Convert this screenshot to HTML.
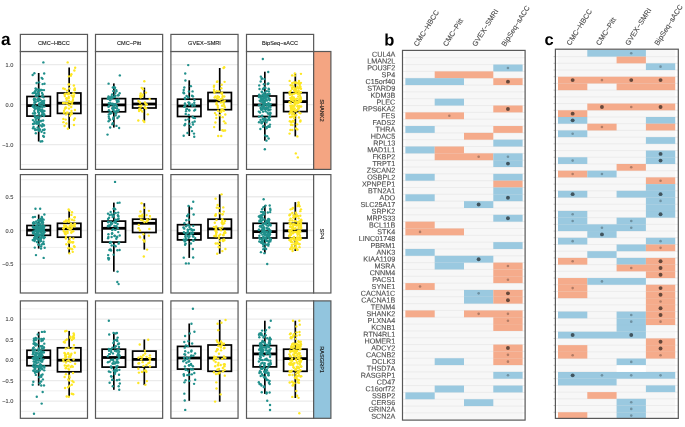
<!DOCTYPE html>
<html><head><meta charset="utf-8"><style>
html,body{margin:0;padding:0;background:#fff;}
svg{display:block;will-change:transform;}
text{font-family:"Liberation Sans", sans-serif;}
</style></head><body>
<svg width="685" height="427" viewBox="0 0 685 427">
<rect width="685" height="427" fill="#fff"/>
<rect x="20.35" y="51.5" width="67.15" height="117.9" fill="#fff"/>
<line x1="20.35" x2="87.5" y1="84.6" y2="84.6" stroke="#F0F0F0" stroke-width="1.0"/>
<line x1="20.35" x2="87.5" y1="124.6" y2="124.6" stroke="#F0F0F0" stroke-width="1.0"/>
<line x1="20.35" x2="87.5" y1="164.6" y2="164.6" stroke="#F0F0F0" stroke-width="1.0"/>
<line x1="20.35" x2="87.5" y1="64.6" y2="64.6" stroke="#EBEBEB" stroke-width="1.4"/>
<line x1="20.35" x2="87.5" y1="104.6" y2="104.6" stroke="#EBEBEB" stroke-width="1.4"/>
<line x1="20.35" x2="87.5" y1="144.6" y2="144.6" stroke="#EBEBEB" stroke-width="1.4"/>
<rect x="95.5" y="51.5" width="67.15" height="117.9" fill="#fff"/>
<line x1="95.5" x2="162.65" y1="84.6" y2="84.6" stroke="#F0F0F0" stroke-width="1.0"/>
<line x1="95.5" x2="162.65" y1="124.6" y2="124.6" stroke="#F0F0F0" stroke-width="1.0"/>
<line x1="95.5" x2="162.65" y1="164.6" y2="164.6" stroke="#F0F0F0" stroke-width="1.0"/>
<line x1="95.5" x2="162.65" y1="64.6" y2="64.6" stroke="#EBEBEB" stroke-width="1.4"/>
<line x1="95.5" x2="162.65" y1="104.6" y2="104.6" stroke="#EBEBEB" stroke-width="1.4"/>
<line x1="95.5" x2="162.65" y1="144.6" y2="144.6" stroke="#EBEBEB" stroke-width="1.4"/>
<rect x="170.9" y="51.5" width="67.15" height="117.9" fill="#fff"/>
<line x1="170.9" x2="238.05" y1="84.6" y2="84.6" stroke="#F0F0F0" stroke-width="1.0"/>
<line x1="170.9" x2="238.05" y1="124.6" y2="124.6" stroke="#F0F0F0" stroke-width="1.0"/>
<line x1="170.9" x2="238.05" y1="164.6" y2="164.6" stroke="#F0F0F0" stroke-width="1.0"/>
<line x1="170.9" x2="238.05" y1="64.6" y2="64.6" stroke="#EBEBEB" stroke-width="1.4"/>
<line x1="170.9" x2="238.05" y1="104.6" y2="104.6" stroke="#EBEBEB" stroke-width="1.4"/>
<line x1="170.9" x2="238.05" y1="144.6" y2="144.6" stroke="#EBEBEB" stroke-width="1.4"/>
<rect x="246.5" y="51.5" width="67.15" height="117.9" fill="#fff"/>
<line x1="246.5" x2="313.65" y1="84.6" y2="84.6" stroke="#F0F0F0" stroke-width="1.0"/>
<line x1="246.5" x2="313.65" y1="124.6" y2="124.6" stroke="#F0F0F0" stroke-width="1.0"/>
<line x1="246.5" x2="313.65" y1="164.6" y2="164.6" stroke="#F0F0F0" stroke-width="1.0"/>
<line x1="246.5" x2="313.65" y1="64.6" y2="64.6" stroke="#EBEBEB" stroke-width="1.4"/>
<line x1="246.5" x2="313.65" y1="104.6" y2="104.6" stroke="#EBEBEB" stroke-width="1.4"/>
<line x1="246.5" x2="313.65" y1="144.6" y2="144.6" stroke="#EBEBEB" stroke-width="1.4"/>
<rect x="20.35" y="174.6" width="67.15" height="118.4" fill="#fff"/>
<line x1="20.35" x2="87.5" y1="179.8" y2="179.8" stroke="#F0F0F0" stroke-width="1.0"/>
<line x1="20.35" x2="87.5" y1="213.6" y2="213.6" stroke="#F0F0F0" stroke-width="1.0"/>
<line x1="20.35" x2="87.5" y1="247.4" y2="247.4" stroke="#F0F0F0" stroke-width="1.0"/>
<line x1="20.35" x2="87.5" y1="281.2" y2="281.2" stroke="#F0F0F0" stroke-width="1.0"/>
<line x1="20.35" x2="87.5" y1="196.7" y2="196.7" stroke="#EBEBEB" stroke-width="1.4"/>
<line x1="20.35" x2="87.5" y1="230.5" y2="230.5" stroke="#EBEBEB" stroke-width="1.4"/>
<line x1="20.35" x2="87.5" y1="264.3" y2="264.3" stroke="#EBEBEB" stroke-width="1.4"/>
<rect x="95.5" y="174.6" width="67.15" height="118.4" fill="#fff"/>
<line x1="95.5" x2="162.65" y1="179.8" y2="179.8" stroke="#F0F0F0" stroke-width="1.0"/>
<line x1="95.5" x2="162.65" y1="213.6" y2="213.6" stroke="#F0F0F0" stroke-width="1.0"/>
<line x1="95.5" x2="162.65" y1="247.4" y2="247.4" stroke="#F0F0F0" stroke-width="1.0"/>
<line x1="95.5" x2="162.65" y1="281.2" y2="281.2" stroke="#F0F0F0" stroke-width="1.0"/>
<line x1="95.5" x2="162.65" y1="196.7" y2="196.7" stroke="#EBEBEB" stroke-width="1.4"/>
<line x1="95.5" x2="162.65" y1="230.5" y2="230.5" stroke="#EBEBEB" stroke-width="1.4"/>
<line x1="95.5" x2="162.65" y1="264.3" y2="264.3" stroke="#EBEBEB" stroke-width="1.4"/>
<rect x="170.9" y="174.6" width="67.15" height="118.4" fill="#fff"/>
<line x1="170.9" x2="238.05" y1="179.8" y2="179.8" stroke="#F0F0F0" stroke-width="1.0"/>
<line x1="170.9" x2="238.05" y1="213.6" y2="213.6" stroke="#F0F0F0" stroke-width="1.0"/>
<line x1="170.9" x2="238.05" y1="247.4" y2="247.4" stroke="#F0F0F0" stroke-width="1.0"/>
<line x1="170.9" x2="238.05" y1="281.2" y2="281.2" stroke="#F0F0F0" stroke-width="1.0"/>
<line x1="170.9" x2="238.05" y1="196.7" y2="196.7" stroke="#EBEBEB" stroke-width="1.4"/>
<line x1="170.9" x2="238.05" y1="230.5" y2="230.5" stroke="#EBEBEB" stroke-width="1.4"/>
<line x1="170.9" x2="238.05" y1="264.3" y2="264.3" stroke="#EBEBEB" stroke-width="1.4"/>
<rect x="246.5" y="174.6" width="67.15" height="118.4" fill="#fff"/>
<line x1="246.5" x2="313.65" y1="179.8" y2="179.8" stroke="#F0F0F0" stroke-width="1.0"/>
<line x1="246.5" x2="313.65" y1="213.6" y2="213.6" stroke="#F0F0F0" stroke-width="1.0"/>
<line x1="246.5" x2="313.65" y1="247.4" y2="247.4" stroke="#F0F0F0" stroke-width="1.0"/>
<line x1="246.5" x2="313.65" y1="281.2" y2="281.2" stroke="#F0F0F0" stroke-width="1.0"/>
<line x1="246.5" x2="313.65" y1="196.7" y2="196.7" stroke="#EBEBEB" stroke-width="1.4"/>
<line x1="246.5" x2="313.65" y1="230.5" y2="230.5" stroke="#EBEBEB" stroke-width="1.4"/>
<line x1="246.5" x2="313.65" y1="264.3" y2="264.3" stroke="#EBEBEB" stroke-width="1.4"/>
<rect x="20.35" y="300.9" width="67.15" height="117.4" fill="#fff"/>
<line x1="20.35" x2="87.5" y1="308.85" y2="308.85" stroke="#F0F0F0" stroke-width="1.0"/>
<line x1="20.35" x2="87.5" y1="329.35" y2="329.35" stroke="#F0F0F0" stroke-width="1.0"/>
<line x1="20.35" x2="87.5" y1="349.85" y2="349.85" stroke="#F0F0F0" stroke-width="1.0"/>
<line x1="20.35" x2="87.5" y1="370.35" y2="370.35" stroke="#F0F0F0" stroke-width="1.0"/>
<line x1="20.35" x2="87.5" y1="390.85" y2="390.85" stroke="#F0F0F0" stroke-width="1.0"/>
<line x1="20.35" x2="87.5" y1="411.35" y2="411.35" stroke="#F0F0F0" stroke-width="1.0"/>
<line x1="20.35" x2="87.5" y1="319.1" y2="319.1" stroke="#EBEBEB" stroke-width="1.4"/>
<line x1="20.35" x2="87.5" y1="339.6" y2="339.6" stroke="#EBEBEB" stroke-width="1.4"/>
<line x1="20.35" x2="87.5" y1="360.1" y2="360.1" stroke="#EBEBEB" stroke-width="1.4"/>
<line x1="20.35" x2="87.5" y1="380.6" y2="380.6" stroke="#EBEBEB" stroke-width="1.4"/>
<line x1="20.35" x2="87.5" y1="401.1" y2="401.1" stroke="#EBEBEB" stroke-width="1.4"/>
<rect x="95.5" y="300.9" width="67.15" height="117.4" fill="#fff"/>
<line x1="95.5" x2="162.65" y1="308.85" y2="308.85" stroke="#F0F0F0" stroke-width="1.0"/>
<line x1="95.5" x2="162.65" y1="329.35" y2="329.35" stroke="#F0F0F0" stroke-width="1.0"/>
<line x1="95.5" x2="162.65" y1="349.85" y2="349.85" stroke="#F0F0F0" stroke-width="1.0"/>
<line x1="95.5" x2="162.65" y1="370.35" y2="370.35" stroke="#F0F0F0" stroke-width="1.0"/>
<line x1="95.5" x2="162.65" y1="390.85" y2="390.85" stroke="#F0F0F0" stroke-width="1.0"/>
<line x1="95.5" x2="162.65" y1="411.35" y2="411.35" stroke="#F0F0F0" stroke-width="1.0"/>
<line x1="95.5" x2="162.65" y1="319.1" y2="319.1" stroke="#EBEBEB" stroke-width="1.4"/>
<line x1="95.5" x2="162.65" y1="339.6" y2="339.6" stroke="#EBEBEB" stroke-width="1.4"/>
<line x1="95.5" x2="162.65" y1="360.1" y2="360.1" stroke="#EBEBEB" stroke-width="1.4"/>
<line x1="95.5" x2="162.65" y1="380.6" y2="380.6" stroke="#EBEBEB" stroke-width="1.4"/>
<line x1="95.5" x2="162.65" y1="401.1" y2="401.1" stroke="#EBEBEB" stroke-width="1.4"/>
<rect x="170.9" y="300.9" width="67.15" height="117.4" fill="#fff"/>
<line x1="170.9" x2="238.05" y1="308.85" y2="308.85" stroke="#F0F0F0" stroke-width="1.0"/>
<line x1="170.9" x2="238.05" y1="329.35" y2="329.35" stroke="#F0F0F0" stroke-width="1.0"/>
<line x1="170.9" x2="238.05" y1="349.85" y2="349.85" stroke="#F0F0F0" stroke-width="1.0"/>
<line x1="170.9" x2="238.05" y1="370.35" y2="370.35" stroke="#F0F0F0" stroke-width="1.0"/>
<line x1="170.9" x2="238.05" y1="390.85" y2="390.85" stroke="#F0F0F0" stroke-width="1.0"/>
<line x1="170.9" x2="238.05" y1="411.35" y2="411.35" stroke="#F0F0F0" stroke-width="1.0"/>
<line x1="170.9" x2="238.05" y1="319.1" y2="319.1" stroke="#EBEBEB" stroke-width="1.4"/>
<line x1="170.9" x2="238.05" y1="339.6" y2="339.6" stroke="#EBEBEB" stroke-width="1.4"/>
<line x1="170.9" x2="238.05" y1="360.1" y2="360.1" stroke="#EBEBEB" stroke-width="1.4"/>
<line x1="170.9" x2="238.05" y1="380.6" y2="380.6" stroke="#EBEBEB" stroke-width="1.4"/>
<line x1="170.9" x2="238.05" y1="401.1" y2="401.1" stroke="#EBEBEB" stroke-width="1.4"/>
<rect x="246.5" y="300.9" width="67.15" height="117.4" fill="#fff"/>
<line x1="246.5" x2="313.65" y1="308.85" y2="308.85" stroke="#F0F0F0" stroke-width="1.0"/>
<line x1="246.5" x2="313.65" y1="329.35" y2="329.35" stroke="#F0F0F0" stroke-width="1.0"/>
<line x1="246.5" x2="313.65" y1="349.85" y2="349.85" stroke="#F0F0F0" stroke-width="1.0"/>
<line x1="246.5" x2="313.65" y1="370.35" y2="370.35" stroke="#F0F0F0" stroke-width="1.0"/>
<line x1="246.5" x2="313.65" y1="390.85" y2="390.85" stroke="#F0F0F0" stroke-width="1.0"/>
<line x1="246.5" x2="313.65" y1="411.35" y2="411.35" stroke="#F0F0F0" stroke-width="1.0"/>
<line x1="246.5" x2="313.65" y1="319.1" y2="319.1" stroke="#EBEBEB" stroke-width="1.4"/>
<line x1="246.5" x2="313.65" y1="339.6" y2="339.6" stroke="#EBEBEB" stroke-width="1.4"/>
<line x1="246.5" x2="313.65" y1="360.1" y2="360.1" stroke="#EBEBEB" stroke-width="1.4"/>
<line x1="246.5" x2="313.65" y1="380.6" y2="380.6" stroke="#EBEBEB" stroke-width="1.4"/>
<line x1="246.5" x2="313.65" y1="401.1" y2="401.1" stroke="#EBEBEB" stroke-width="1.4"/>
<line x1="38.68" x2="38.68" y1="73" y2="96.5" stroke="#000" stroke-width="1.7"/>
<line x1="38.68" x2="38.68" y1="116.1" y2="141.5" stroke="#000" stroke-width="1.7"/>
<rect x="26.98" y="96.5" width="23.4" height="19.6" fill="#fff" stroke="#000" stroke-width="1.7"/>
<line x1="26.98" x2="50.38" y1="105.6" y2="105.6" stroke="#000" stroke-width="2.8"/>
<g fill="#21908C"><circle cx="39.06" cy="82.33" r="1.2"/><circle cx="33.01" cy="128.3" r="1.2"/><circle cx="44.33" cy="114.46" r="1.2"/><circle cx="41.56" cy="131.74" r="1.2"/><circle cx="42.29" cy="106.03" r="1.2"/><circle cx="43.38" cy="62.4" r="1.2"/><circle cx="35.33" cy="99.27" r="1.2"/><circle cx="36.93" cy="89.52" r="1.2"/><circle cx="35.4" cy="108.44" r="1.2"/><circle cx="40.57" cy="99.88" r="1.2"/><circle cx="34.25" cy="100.51" r="1.2"/><circle cx="34.54" cy="92.79" r="1.2"/><circle cx="42.07" cy="114.31" r="1.2"/><circle cx="33.7" cy="104.75" r="1.2"/><circle cx="33.02" cy="113.39" r="1.2"/><circle cx="42.6" cy="124.12" r="1.2"/><circle cx="42.28" cy="103.07" r="1.2"/><circle cx="40.52" cy="116.39" r="1.2"/><circle cx="35.13" cy="102.68" r="1.2"/><circle cx="33.56" cy="126.87" r="1.2"/><circle cx="37.99" cy="91.68" r="1.2"/><circle cx="34.72" cy="113.15" r="1.2"/><circle cx="41.07" cy="111.03" r="1.2"/><circle cx="34.44" cy="92.19" r="1.2"/><circle cx="43.98" cy="125.42" r="1.2"/><circle cx="35.04" cy="113.14" r="1.2"/><circle cx="43.63" cy="125.24" r="1.2"/><circle cx="36.2" cy="123.18" r="1.2"/><circle cx="44" cy="115.99" r="1.2"/><circle cx="42.09" cy="111.91" r="1.2"/><circle cx="32.68" cy="75" r="1.2"/><circle cx="35.7" cy="95.71" r="1.2"/><circle cx="33.03" cy="124.06" r="1.2"/><circle cx="38.05" cy="110.67" r="1.2"/><circle cx="36.03" cy="93.45" r="1.2"/><circle cx="43.54" cy="102.88" r="1.2"/><circle cx="39.41" cy="130.62" r="1.2"/><circle cx="37.89" cy="107.1" r="1.2"/><circle cx="34.4" cy="73.29" r="1.2"/><circle cx="42.77" cy="94.51" r="1.2"/><circle cx="34.21" cy="98.71" r="1.2"/><circle cx="37.73" cy="108.93" r="1.2"/><circle cx="34.82" cy="108.82" r="1.2"/><circle cx="40.61" cy="90.07" r="1.2"/><circle cx="39.02" cy="112.71" r="1.2"/><circle cx="37.71" cy="127.41" r="1.2"/><circle cx="39.27" cy="98.47" r="1.2"/><circle cx="39" cy="99.72" r="1.2"/><circle cx="35.4" cy="91.12" r="1.2"/><circle cx="44.5" cy="83.7" r="1.2"/><circle cx="39.72" cy="109.91" r="1.2"/><circle cx="39.08" cy="130.82" r="1.2"/><circle cx="43.93" cy="103.98" r="1.2"/><circle cx="41.38" cy="110.8" r="1.2"/><circle cx="42.91" cy="102.98" r="1.2"/><circle cx="39.42" cy="109.85" r="1.2"/><circle cx="43.6" cy="97.35" r="1.2"/><circle cx="38" cy="100.97" r="1.2"/><circle cx="41.38" cy="90.05" r="1.2"/><circle cx="40.17" cy="107.43" r="1.2"/><circle cx="32.73" cy="106.19" r="1.2"/><circle cx="44.04" cy="103.12" r="1.2"/><circle cx="39.07" cy="108.56" r="1.2"/><circle cx="34.14" cy="123.67" r="1.2"/><circle cx="43.04" cy="130.07" r="1.2"/><circle cx="43.14" cy="120.57" r="1.2"/><circle cx="42.5" cy="78.86" r="1.2"/><circle cx="38.75" cy="128.89" r="1.2"/><circle cx="44.16" cy="100.8" r="1.2"/><circle cx="42.6" cy="84.08" r="1.2"/><circle cx="35.66" cy="88.35" r="1.2"/><circle cx="38.9" cy="98.89" r="1.2"/><circle cx="39.68" cy="90.78" r="1.2"/><circle cx="42.15" cy="96.19" r="1.2"/><circle cx="36.89" cy="129.72" r="1.2"/><circle cx="38.44" cy="98.56" r="1.2"/><circle cx="34.44" cy="121.68" r="1.2"/><circle cx="37.5" cy="95.87" r="1.2"/><circle cx="35.36" cy="117.45" r="1.2"/><circle cx="38.42" cy="121.65" r="1.2"/><circle cx="40.61" cy="141.49" r="1.2"/><circle cx="35.79" cy="119.81" r="1.2"/><circle cx="43.89" cy="136.79" r="1.2"/><circle cx="40.99" cy="120.93" r="1.2"/><circle cx="38.36" cy="108.78" r="1.2"/><circle cx="43.69" cy="111.23" r="1.2"/><circle cx="34.33" cy="111.01" r="1.2"/><circle cx="39.2" cy="100.37" r="1.2"/><circle cx="42.09" cy="101.56" r="1.2"/><circle cx="37.08" cy="108.2" r="1.2"/><circle cx="33.55" cy="106.93" r="1.2"/><circle cx="44.18" cy="73.5" r="1.2"/><circle cx="34.25" cy="107.59" r="1.2"/><circle cx="41.04" cy="105.35" r="1.2"/><circle cx="42.18" cy="141.3" r="1.2"/><circle cx="41.95" cy="126.4" r="1.2"/><circle cx="43.45" cy="115.39" r="1.2"/><circle cx="43.6" cy="103.92" r="1.2"/><circle cx="34.5" cy="102.38" r="1.2"/><circle cx="32.85" cy="93.15" r="1.2"/><circle cx="38.11" cy="112.02" r="1.2"/><circle cx="44.45" cy="106.61" r="1.2"/><circle cx="42.35" cy="109.68" r="1.2"/><circle cx="38.42" cy="124.04" r="1.2"/><circle cx="41.95" cy="90.11" r="1.2"/><circle cx="36.59" cy="82.99" r="1.2"/><circle cx="35.8" cy="101.69" r="1.2"/><circle cx="36.67" cy="121.6" r="1.2"/><circle cx="34.75" cy="115.48" r="1.2"/><circle cx="42.42" cy="101.21" r="1.2"/><circle cx="38.7" cy="89.46" r="1.2"/><circle cx="36" cy="95.18" r="1.2"/><circle cx="42.76" cy="111.71" r="1.2"/><circle cx="32.91" cy="120.08" r="1.2"/><circle cx="44.42" cy="110.94" r="1.2"/><circle cx="44.14" cy="129.86" r="1.2"/><circle cx="44.54" cy="129.45" r="1.2"/><circle cx="34.69" cy="128.59" r="1.2"/><circle cx="42.03" cy="92.89" r="1.2"/><circle cx="40.72" cy="125.36" r="1.2"/><circle cx="40.99" cy="102.82" r="1.2"/><circle cx="37.96" cy="117" r="1.2"/><circle cx="43.99" cy="90.12" r="1.2"/><circle cx="36.64" cy="123.6" r="1.2"/><circle cx="35.82" cy="133.32" r="1.2"/><circle cx="40.03" cy="129.51" r="1.2"/><circle cx="42.36" cy="107.31" r="1.2"/><circle cx="40.48" cy="110.12" r="1.2"/><circle cx="35.57" cy="116.22" r="1.2"/><circle cx="38.96" cy="121.67" r="1.2"/><circle cx="39.4" cy="121.83" r="1.2"/><circle cx="33.96" cy="99.43" r="1.2"/><circle cx="38.77" cy="94.35" r="1.2"/><circle cx="35.57" cy="106.23" r="1.2"/><circle cx="39.02" cy="104.38" r="1.2"/><circle cx="43.53" cy="114.75" r="1.2"/><circle cx="38.89" cy="114.23" r="1.2"/><circle cx="35.21" cy="129.94" r="1.2"/><circle cx="38.18" cy="93.29" r="1.2"/><circle cx="41.68" cy="77.84" r="1.2"/><circle cx="39.36" cy="103.35" r="1.2"/><circle cx="35.79" cy="90.31" r="1.2"/><circle cx="42.27" cy="102.56" r="1.2"/><circle cx="43.2" cy="135.98" r="1.2"/><circle cx="39.35" cy="105.08" r="1.2"/><circle cx="41.28" cy="120.99" r="1.2"/><circle cx="37.43" cy="99.73" r="1.2"/><circle cx="43.49" cy="113.77" r="1.2"/><circle cx="38.83" cy="118.22" r="1.2"/><circle cx="34.88" cy="116.93" r="1.2"/><circle cx="36.95" cy="122.12" r="1.2"/><circle cx="44.34" cy="133" r="1.2"/><circle cx="41.8" cy="109.59" r="1.2"/><circle cx="37.06" cy="118.37" r="1.2"/></g>
<line x1="69.17" x2="69.17" y1="67.5" y2="93" stroke="#000" stroke-width="1.7"/>
<line x1="69.17" x2="69.17" y1="113.4" y2="128.8" stroke="#000" stroke-width="1.7"/>
<rect x="57.47" y="93" width="23.4" height="20.4" fill="#fff" stroke="#000" stroke-width="1.7"/>
<line x1="57.47" x2="80.87" y1="103.2" y2="103.2" stroke="#000" stroke-width="2.8"/>
<g fill="#FDE725"><circle cx="72.09" cy="104.16" r="1.2"/><circle cx="73.24" cy="96.99" r="1.2"/><circle cx="74.88" cy="118.39" r="1.2"/><circle cx="71.37" cy="74.15" r="1.2"/><circle cx="74.28" cy="93.62" r="1.2"/><circle cx="66.39" cy="123.5" r="1.2"/><circle cx="71.28" cy="114.23" r="1.2"/><circle cx="73.01" cy="99.99" r="1.2"/><circle cx="69.37" cy="102.09" r="1.2"/><circle cx="75.15" cy="67.72" r="1.2"/><circle cx="65.7" cy="119.58" r="1.2"/><circle cx="73.94" cy="120.01" r="1.2"/><circle cx="63.32" cy="103.02" r="1.2"/><circle cx="67.88" cy="128.74" r="1.2"/><circle cx="67.76" cy="112.78" r="1.2"/><circle cx="69.27" cy="84.42" r="1.2"/><circle cx="68.74" cy="92.97" r="1.2"/><circle cx="67.3" cy="103.61" r="1.2"/><circle cx="66.96" cy="90.6" r="1.2"/><circle cx="64.87" cy="103.03" r="1.2"/><circle cx="70.88" cy="75.67" r="1.2"/><circle cx="64.59" cy="94.57" r="1.2"/><circle cx="69.07" cy="100.97" r="1.2"/><circle cx="63.21" cy="88.42" r="1.2"/><circle cx="64.61" cy="125.97" r="1.2"/><circle cx="74.52" cy="89.8" r="1.2"/><circle cx="63.47" cy="122.16" r="1.2"/><circle cx="66.39" cy="98.29" r="1.2"/><circle cx="63.38" cy="118.91" r="1.2"/><circle cx="73.25" cy="93.08" r="1.2"/><circle cx="68.56" cy="84.49" r="1.2"/><circle cx="65.94" cy="114.38" r="1.2"/><circle cx="68.68" cy="94.2" r="1.2"/><circle cx="66.22" cy="107.76" r="1.2"/><circle cx="70.15" cy="102.3" r="1.2"/><circle cx="74.6" cy="90.22" r="1.2"/><circle cx="73.01" cy="97.65" r="1.2"/><circle cx="72.18" cy="101.86" r="1.2"/><circle cx="64.1" cy="110.72" r="1.2"/><circle cx="74.4" cy="70.49" r="1.2"/><circle cx="65.56" cy="107.44" r="1.2"/><circle cx="68.92" cy="76.41" r="1.2"/><circle cx="72.37" cy="101.41" r="1.2"/><circle cx="71.72" cy="113.3" r="1.2"/><circle cx="73.81" cy="96" r="1.2"/><circle cx="73.99" cy="125.03" r="1.2"/><circle cx="73.89" cy="85.5" r="1.2"/><circle cx="63.19" cy="103.09" r="1.2"/><circle cx="69.1" cy="105.26" r="1.2"/><circle cx="64.86" cy="96.1" r="1.2"/><circle cx="68.76" cy="97.06" r="1.2"/><circle cx="69" cy="108.59" r="1.2"/><circle cx="66.82" cy="103.1" r="1.2"/><circle cx="66.66" cy="99.93" r="1.2"/><circle cx="74.79" cy="88.45" r="1.2"/><circle cx="74.91" cy="110.01" r="1.2"/><circle cx="71.23" cy="107.05" r="1.2"/><circle cx="63.9" cy="112.74" r="1.2"/><circle cx="67.67" cy="62.4" r="1.2"/><circle cx="69.46" cy="88.47" r="1.2"/><circle cx="71.47" cy="110.95" r="1.2"/><circle cx="64.76" cy="88.98" r="1.2"/><circle cx="68.58" cy="98.27" r="1.2"/><circle cx="66.65" cy="112.67" r="1.2"/><circle cx="69.98" cy="115.87" r="1.2"/><circle cx="67.63" cy="93.96" r="1.2"/><circle cx="70.57" cy="113.67" r="1.2"/><circle cx="65.69" cy="93.76" r="1.2"/><circle cx="66.79" cy="98.33" r="1.2"/><circle cx="71.61" cy="95.56" r="1.2"/><circle cx="64.94" cy="108.76" r="1.2"/></g>
<line x1="113.83" x2="113.83" y1="83.4" y2="98.6" stroke="#000" stroke-width="1.7"/>
<line x1="113.83" x2="113.83" y1="111.8" y2="127.6" stroke="#000" stroke-width="1.7"/>
<rect x="102.13" y="98.6" width="23.4" height="13.2" fill="#fff" stroke="#000" stroke-width="1.7"/>
<line x1="102.13" x2="125.53" y1="104.9" y2="104.9" stroke="#000" stroke-width="2.8"/>
<g fill="#21908C"><circle cx="114.57" cy="88.28" r="1.2"/><circle cx="116.94" cy="101.89" r="1.2"/><circle cx="109.19" cy="105.72" r="1.2"/><circle cx="110.16" cy="100.35" r="1.2"/><circle cx="112.39" cy="104.24" r="1.2"/><circle cx="113.41" cy="104.22" r="1.2"/><circle cx="107.53" cy="134.6" r="1.2"/><circle cx="118.59" cy="101.41" r="1.2"/><circle cx="108.81" cy="114.47" r="1.2"/><circle cx="110.17" cy="127.54" r="1.2"/><circle cx="109.14" cy="118.45" r="1.2"/><circle cx="116.38" cy="91.24" r="1.2"/><circle cx="113.14" cy="118.94" r="1.2"/><circle cx="117.02" cy="108.56" r="1.2"/><circle cx="115.32" cy="93.1" r="1.2"/><circle cx="108.59" cy="83.67" r="1.2"/><circle cx="116.45" cy="125.89" r="1.2"/><circle cx="113.4" cy="107.18" r="1.2"/><circle cx="113.78" cy="104.95" r="1.2"/><circle cx="113.23" cy="91.1" r="1.2"/><circle cx="116.3" cy="90.09" r="1.2"/><circle cx="108.51" cy="96.55" r="1.2"/><circle cx="116.18" cy="113.43" r="1.2"/><circle cx="112.34" cy="124.25" r="1.2"/><circle cx="108.8" cy="103.27" r="1.2"/><circle cx="111.71" cy="104.02" r="1.2"/><circle cx="117.47" cy="101.31" r="1.2"/><circle cx="115.41" cy="95.63" r="1.2"/><circle cx="114.97" cy="87.59" r="1.2"/><circle cx="116.68" cy="110.9" r="1.2"/><circle cx="109.82" cy="97.59" r="1.2"/><circle cx="113.44" cy="117.51" r="1.2"/><circle cx="108.48" cy="106.83" r="1.2"/><circle cx="110.57" cy="103.59" r="1.2"/><circle cx="112.27" cy="108.34" r="1.2"/><circle cx="118.76" cy="109.91" r="1.2"/><circle cx="112.87" cy="123.1" r="1.2"/><circle cx="107.91" cy="98.72" r="1.2"/><circle cx="113.65" cy="106.66" r="1.2"/><circle cx="117.97" cy="111.16" r="1.2"/><circle cx="110.18" cy="113.82" r="1.2"/><circle cx="119.13" cy="128" r="1.2"/><circle cx="117.9" cy="95.36" r="1.2"/><circle cx="115.15" cy="107.9" r="1.2"/><circle cx="113.53" cy="109.79" r="1.2"/><circle cx="119.83" cy="75.4" r="1.2"/><circle cx="118.5" cy="95.27" r="1.2"/><circle cx="110.24" cy="103.15" r="1.2"/><circle cx="112.69" cy="103.8" r="1.2"/><circle cx="112.59" cy="107.95" r="1.2"/><circle cx="114.33" cy="111.45" r="1.2"/><circle cx="114.13" cy="87.07" r="1.2"/><circle cx="108.89" cy="110.25" r="1.2"/><circle cx="111.01" cy="97.36" r="1.2"/><circle cx="116.54" cy="99.97" r="1.2"/><circle cx="109.14" cy="97.79" r="1.2"/><circle cx="115.34" cy="104.28" r="1.2"/><circle cx="111.34" cy="113.15" r="1.2"/><circle cx="117.48" cy="118.04" r="1.2"/><circle cx="113.19" cy="97.35" r="1.2"/><circle cx="110.81" cy="112.05" r="1.2"/><circle cx="108.12" cy="98.19" r="1.2"/><circle cx="108.77" cy="116.64" r="1.2"/><circle cx="118.45" cy="99.59" r="1.2"/><circle cx="114.99" cy="96.9" r="1.2"/><circle cx="119.65" cy="93.2" r="1.2"/><circle cx="117.06" cy="106.51" r="1.2"/><circle cx="111.54" cy="98.19" r="1.2"/><circle cx="108.64" cy="98.54" r="1.2"/><circle cx="118.9" cy="116.56" r="1.2"/><circle cx="112.92" cy="109.7" r="1.2"/><circle cx="112.18" cy="94.35" r="1.2"/><circle cx="115.6" cy="111.99" r="1.2"/><circle cx="111.6" cy="104.25" r="1.2"/><circle cx="110.04" cy="119.76" r="1.2"/><circle cx="108.78" cy="106.21" r="1.2"/><circle cx="112.82" cy="87.56" r="1.2"/><circle cx="113.75" cy="96.72" r="1.2"/><circle cx="110.12" cy="112.67" r="1.2"/><circle cx="116.35" cy="105.16" r="1.2"/><circle cx="111.57" cy="96.16" r="1.2"/><circle cx="115.66" cy="115.41" r="1.2"/><circle cx="108.58" cy="121.22" r="1.2"/></g>
<line x1="144.32" x2="144.32" y1="87.6" y2="98.8" stroke="#000" stroke-width="1.7"/>
<line x1="144.32" x2="144.32" y1="108" y2="120.7" stroke="#000" stroke-width="1.7"/>
<rect x="132.62" y="98.8" width="23.4" height="9.2" fill="#fff" stroke="#000" stroke-width="1.7"/>
<line x1="132.62" x2="156.02" y1="104" y2="104" stroke="#000" stroke-width="2.8"/>
<g fill="#FDE725"><circle cx="140.93" cy="110.06" r="1.2"/><circle cx="146.66" cy="104.76" r="1.2"/><circle cx="145.76" cy="108.09" r="1.2"/><circle cx="140.54" cy="96.97" r="1.2"/><circle cx="141.38" cy="105.56" r="1.2"/><circle cx="146.14" cy="108.35" r="1.2"/><circle cx="143.24" cy="120.62" r="1.2"/><circle cx="140.77" cy="106.67" r="1.2"/><circle cx="142.74" cy="94.78" r="1.2"/><circle cx="140.76" cy="93.45" r="1.2"/><circle cx="139.53" cy="109.22" r="1.2"/><circle cx="141.72" cy="87.83" r="1.2"/><circle cx="146.46" cy="104.38" r="1.2"/><circle cx="145.47" cy="108.05" r="1.2"/><circle cx="142.06" cy="96.32" r="1.2"/><circle cx="143.06" cy="89.15" r="1.2"/><circle cx="144.32" cy="122" r="1.2"/><circle cx="138.32" cy="120.5" r="1.2"/><circle cx="138.45" cy="100.96" r="1.2"/><circle cx="140.01" cy="102.48" r="1.2"/><circle cx="139.08" cy="110.99" r="1.2"/><circle cx="139.41" cy="105.93" r="1.2"/><circle cx="149.67" cy="99.09" r="1.2"/><circle cx="145.99" cy="92.61" r="1.2"/><circle cx="142.25" cy="111.52" r="1.2"/><circle cx="140.76" cy="97.28" r="1.2"/><circle cx="147.86" cy="114.36" r="1.2"/><circle cx="144.92" cy="102.38" r="1.2"/><circle cx="145.51" cy="103.86" r="1.2"/><circle cx="139.59" cy="109.01" r="1.2"/><circle cx="144.32" cy="81.3" r="1.2"/><circle cx="140.28" cy="95.46" r="1.2"/><circle cx="144.89" cy="107.22" r="1.2"/></g>
<line x1="189.23" x2="189.23" y1="80.3" y2="99.2" stroke="#000" stroke-width="1.7"/>
<line x1="189.23" x2="189.23" y1="116.5" y2="136" stroke="#000" stroke-width="1.7"/>
<rect x="177.53" y="99.2" width="23.4" height="17.3" fill="#fff" stroke="#000" stroke-width="1.7"/>
<line x1="177.53" x2="200.93" y1="106" y2="106" stroke="#000" stroke-width="2.8"/>
<g fill="#21908C"><circle cx="188.4" cy="97.34" r="1.2"/><circle cx="195.01" cy="118.12" r="1.2"/><circle cx="184.33" cy="87.48" r="1.2"/><circle cx="185.21" cy="124.06" r="1.2"/><circle cx="184.87" cy="98.02" r="1.2"/><circle cx="189.35" cy="123.78" r="1.2"/><circle cx="183.67" cy="135.8" r="1.2"/><circle cx="185.42" cy="80.43" r="1.2"/><circle cx="193.01" cy="96.41" r="1.2"/><circle cx="184.02" cy="93.23" r="1.2"/><circle cx="188.23" cy="65.1" r="1.2"/><circle cx="184.22" cy="106.67" r="1.2"/><circle cx="186.05" cy="111.13" r="1.2"/><circle cx="193.52" cy="117.91" r="1.2"/><circle cx="184.95" cy="103.46" r="1.2"/><circle cx="183.88" cy="92.83" r="1.2"/><circle cx="188.49" cy="102.37" r="1.2"/><circle cx="192.02" cy="95.71" r="1.2"/><circle cx="189.37" cy="110.43" r="1.2"/><circle cx="185.39" cy="105.47" r="1.2"/><circle cx="193.02" cy="124.47" r="1.2"/><circle cx="185.56" cy="120.07" r="1.2"/><circle cx="183.51" cy="92.5" r="1.2"/><circle cx="192.03" cy="131.11" r="1.2"/><circle cx="192.39" cy="105.89" r="1.2"/><circle cx="194.27" cy="102.73" r="1.2"/><circle cx="188.54" cy="119.25" r="1.2"/><circle cx="190.66" cy="126.96" r="1.2"/><circle cx="192.31" cy="104.42" r="1.2"/><circle cx="189.3" cy="103.9" r="1.2"/><circle cx="184.77" cy="106.37" r="1.2"/><circle cx="188.91" cy="91.45" r="1.2"/><circle cx="185.14" cy="98.96" r="1.2"/><circle cx="187.06" cy="108.91" r="1.2"/><circle cx="194.4" cy="99.98" r="1.2"/><circle cx="186.53" cy="96.05" r="1.2"/><circle cx="194.64" cy="121.46" r="1.2"/><circle cx="194.71" cy="105.55" r="1.2"/><circle cx="185.73" cy="113.89" r="1.2"/><circle cx="192.59" cy="122.41" r="1.2"/><circle cx="192.69" cy="116.64" r="1.2"/><circle cx="189.26" cy="104.73" r="1.2"/><circle cx="194.22" cy="110.61" r="1.2"/><circle cx="195.19" cy="109.76" r="1.2"/><circle cx="189.28" cy="102.91" r="1.2"/><circle cx="185.23" cy="73.5" r="1.2"/><circle cx="189.11" cy="102.86" r="1.2"/><circle cx="189.13" cy="109.95" r="1.2"/><circle cx="188.73" cy="114.92" r="1.2"/><circle cx="183.72" cy="90.06" r="1.2"/><circle cx="186.39" cy="109.14" r="1.2"/><circle cx="194.23" cy="136.7" r="1.2"/><circle cx="187.77" cy="96.6" r="1.2"/><circle cx="192.56" cy="91.4" r="1.2"/><circle cx="193.99" cy="133.6" r="1.2"/><circle cx="190.87" cy="86.15" r="1.2"/><circle cx="187.44" cy="133.06" r="1.2"/><circle cx="184.52" cy="125.19" r="1.2"/></g>
<line x1="219.72" x2="219.72" y1="68" y2="92.5" stroke="#000" stroke-width="1.7"/>
<line x1="219.72" x2="219.72" y1="109.7" y2="130.8" stroke="#000" stroke-width="1.7"/>
<rect x="208.02" y="92.5" width="23.4" height="17.2" fill="#fff" stroke="#000" stroke-width="1.7"/>
<line x1="208.02" x2="231.42" y1="100.9" y2="100.9" stroke="#000" stroke-width="2.8"/>
<g fill="#FDE725"><circle cx="224.28" cy="105.92" r="1.2"/><circle cx="222.41" cy="130.2" r="1.2"/><circle cx="216.26" cy="114.86" r="1.2"/><circle cx="218.22" cy="136" r="1.2"/><circle cx="224.22" cy="67.2" r="1.2"/><circle cx="224.61" cy="81.83" r="1.2"/><circle cx="216.59" cy="102.75" r="1.2"/><circle cx="222.06" cy="105.68" r="1.2"/><circle cx="216.32" cy="117.94" r="1.2"/><circle cx="218.96" cy="91.33" r="1.2"/><circle cx="214.22" cy="91.16" r="1.2"/><circle cx="224.87" cy="107.39" r="1.2"/><circle cx="224.01" cy="121.36" r="1.2"/><circle cx="221.42" cy="109.96" r="1.2"/><circle cx="221.22" cy="136" r="1.2"/><circle cx="216.84" cy="91.19" r="1.2"/><circle cx="220.56" cy="99.31" r="1.2"/><circle cx="217.41" cy="81.44" r="1.2"/><circle cx="214.18" cy="127.11" r="1.2"/><circle cx="222.03" cy="109.76" r="1.2"/><circle cx="222.08" cy="92.69" r="1.2"/><circle cx="222.09" cy="110.21" r="1.2"/><circle cx="222.64" cy="109.12" r="1.2"/><circle cx="220" cy="115.31" r="1.2"/><circle cx="216.9" cy="81.89" r="1.2"/><circle cx="223.53" cy="130.77" r="1.2"/><circle cx="219.35" cy="99.91" r="1.2"/><circle cx="223.79" cy="104" r="1.2"/><circle cx="223.18" cy="101.72" r="1.2"/><circle cx="221.7" cy="84.69" r="1.2"/><circle cx="214.04" cy="89.81" r="1.2"/><circle cx="217.64" cy="98.95" r="1.2"/><circle cx="217.74" cy="105.75" r="1.2"/><circle cx="213.9" cy="86.8" r="1.2"/><circle cx="221.29" cy="93.14" r="1.2"/><circle cx="222.67" cy="96.27" r="1.2"/><circle cx="225.05" cy="130.56" r="1.2"/><circle cx="215.45" cy="96.38" r="1.2"/><circle cx="222.03" cy="93.81" r="1.2"/><circle cx="214.65" cy="97.48" r="1.2"/><circle cx="218.95" cy="96.97" r="1.2"/><circle cx="222.56" cy="102.04" r="1.2"/><circle cx="225.47" cy="123.16" r="1.2"/><circle cx="216.55" cy="104.14" r="1.2"/><circle cx="223.55" cy="68.07" r="1.2"/><circle cx="217.86" cy="107.73" r="1.2"/><circle cx="222.26" cy="98.27" r="1.2"/><circle cx="221.19" cy="111.9" r="1.2"/><circle cx="214.06" cy="85.67" r="1.2"/><circle cx="222.71" cy="117.16" r="1.2"/><circle cx="220.36" cy="111.69" r="1.2"/><circle cx="221.32" cy="88.29" r="1.2"/><circle cx="225.3" cy="114.46" r="1.2"/><circle cx="224.28" cy="96.5" r="1.2"/><circle cx="216.91" cy="98.1" r="1.2"/><circle cx="217.66" cy="96.25" r="1.2"/><circle cx="215" cy="113.11" r="1.2"/><circle cx="215.42" cy="122.55" r="1.2"/><circle cx="214.51" cy="92.82" r="1.2"/><circle cx="220.8" cy="102.46" r="1.2"/><circle cx="223.86" cy="110.79" r="1.2"/><circle cx="224.65" cy="100.68" r="1.2"/><circle cx="218.08" cy="110.71" r="1.2"/></g>
<line x1="264.83" x2="264.83" y1="71.7" y2="96" stroke="#000" stroke-width="1.7"/>
<line x1="264.83" x2="264.83" y1="116.5" y2="140.7" stroke="#000" stroke-width="1.7"/>
<rect x="253.13" y="96" width="23.4" height="20.5" fill="#fff" stroke="#000" stroke-width="1.7"/>
<line x1="253.13" x2="276.53" y1="104.9" y2="104.9" stroke="#000" stroke-width="2.8"/>
<g fill="#21908C"><circle cx="268.55" cy="98.09" r="1.2"/><circle cx="267.49" cy="112.62" r="1.2"/><circle cx="264.45" cy="119" r="1.2"/><circle cx="259.74" cy="100.58" r="1.2"/><circle cx="269.42" cy="104.88" r="1.2"/><circle cx="268.29" cy="126.28" r="1.2"/><circle cx="267.45" cy="120.44" r="1.2"/><circle cx="265.87" cy="95.47" r="1.2"/><circle cx="265.48" cy="104.26" r="1.2"/><circle cx="267.21" cy="105.13" r="1.2"/><circle cx="265.31" cy="108.32" r="1.2"/><circle cx="266.85" cy="119.61" r="1.2"/><circle cx="270.36" cy="113.28" r="1.2"/><circle cx="264.46" cy="100.59" r="1.2"/><circle cx="258.97" cy="116.63" r="1.2"/><circle cx="266.7" cy="104.17" r="1.2"/><circle cx="270.01" cy="116.5" r="1.2"/><circle cx="260.52" cy="97.86" r="1.2"/><circle cx="268.76" cy="103.54" r="1.2"/><circle cx="261.46" cy="98" r="1.2"/><circle cx="266.74" cy="95" r="1.2"/><circle cx="262.8" cy="118.76" r="1.2"/><circle cx="268.21" cy="107.72" r="1.2"/><circle cx="269.56" cy="100.24" r="1.2"/><circle cx="261.06" cy="99.95" r="1.2"/><circle cx="268.81" cy="91.58" r="1.2"/><circle cx="263.07" cy="88.69" r="1.2"/><circle cx="260.54" cy="120.04" r="1.2"/><circle cx="268.84" cy="110.19" r="1.2"/><circle cx="258.86" cy="111.6" r="1.2"/><circle cx="264.75" cy="109.05" r="1.2"/><circle cx="265.41" cy="87.9" r="1.2"/><circle cx="266.34" cy="99.66" r="1.2"/><circle cx="261.54" cy="109.2" r="1.2"/><circle cx="266.48" cy="127.15" r="1.2"/><circle cx="268.75" cy="126.83" r="1.2"/><circle cx="259.17" cy="94.6" r="1.2"/><circle cx="262.8" cy="108.21" r="1.2"/><circle cx="264.81" cy="96.04" r="1.2"/><circle cx="262.35" cy="102.42" r="1.2"/><circle cx="261.83" cy="121.94" r="1.2"/><circle cx="268.63" cy="138.56" r="1.2"/><circle cx="262.36" cy="115.8" r="1.2"/><circle cx="263.09" cy="89.13" r="1.2"/><circle cx="266.82" cy="91.09" r="1.2"/><circle cx="260.38" cy="128.96" r="1.2"/><circle cx="264.44" cy="87.37" r="1.2"/><circle cx="265.49" cy="100.44" r="1.2"/><circle cx="262.01" cy="92.21" r="1.2"/><circle cx="268.08" cy="103.46" r="1.2"/><circle cx="261.77" cy="91.61" r="1.2"/><circle cx="269.7" cy="119.9" r="1.2"/><circle cx="267.73" cy="94.21" r="1.2"/><circle cx="263.86" cy="106.89" r="1.2"/><circle cx="263.63" cy="105.3" r="1.2"/><circle cx="261.64" cy="79" r="1.2"/><circle cx="264.88" cy="104.5" r="1.2"/><circle cx="259.01" cy="122.29" r="1.2"/><circle cx="268.66" cy="88.82" r="1.2"/><circle cx="260.57" cy="107.93" r="1.2"/><circle cx="269.04" cy="117.4" r="1.2"/><circle cx="264.53" cy="79.12" r="1.2"/><circle cx="267.02" cy="100.53" r="1.2"/><circle cx="266.45" cy="140.66" r="1.2"/><circle cx="265.2" cy="109.3" r="1.2"/><circle cx="263.54" cy="126" r="1.2"/><circle cx="268.15" cy="96.86" r="1.2"/><circle cx="269.6" cy="98.9" r="1.2"/><circle cx="264.91" cy="92.36" r="1.2"/><circle cx="259.53" cy="96.37" r="1.2"/><circle cx="260.5" cy="101.43" r="1.2"/><circle cx="263.1" cy="119.25" r="1.2"/><circle cx="263.9" cy="84.32" r="1.2"/><circle cx="264.09" cy="98.23" r="1.2"/><circle cx="266.15" cy="97.48" r="1.2"/><circle cx="266.69" cy="108.8" r="1.2"/><circle cx="268.9" cy="118.98" r="1.2"/><circle cx="264.05" cy="94.63" r="1.2"/><circle cx="265.16" cy="118.49" r="1.2"/><circle cx="262.99" cy="126.76" r="1.2"/><circle cx="269.98" cy="124.6" r="1.2"/><circle cx="266.43" cy="122.39" r="1.2"/><circle cx="268.15" cy="94.35" r="1.2"/><circle cx="269.53" cy="94.03" r="1.2"/><circle cx="268.34" cy="83.45" r="1.2"/><circle cx="266.48" cy="107.55" r="1.2"/><circle cx="264.96" cy="100.81" r="1.2"/><circle cx="263.06" cy="111.66" r="1.2"/><circle cx="268.24" cy="113.84" r="1.2"/><circle cx="263.18" cy="102.26" r="1.2"/><circle cx="262.01" cy="106.49" r="1.2"/><circle cx="268.33" cy="109.96" r="1.2"/><circle cx="263.33" cy="100.12" r="1.2"/><circle cx="263.68" cy="97.32" r="1.2"/><circle cx="263.85" cy="93.95" r="1.2"/><circle cx="260.05" cy="112.56" r="1.2"/><circle cx="268.92" cy="89.39" r="1.2"/><circle cx="270.25" cy="112.63" r="1.2"/><circle cx="263.88" cy="120.35" r="1.2"/><circle cx="260.85" cy="76.66" r="1.2"/><circle cx="261.2" cy="109.78" r="1.2"/><circle cx="269.68" cy="126.78" r="1.2"/><circle cx="268.77" cy="117.16" r="1.2"/><circle cx="262.12" cy="78.36" r="1.2"/><circle cx="263.95" cy="95.88" r="1.2"/><circle cx="269.17" cy="109.76" r="1.2"/><circle cx="262.9" cy="94.79" r="1.2"/><circle cx="265.58" cy="111.27" r="1.2"/><circle cx="263.35" cy="103.86" r="1.2"/><circle cx="260.33" cy="104.86" r="1.2"/><circle cx="261.64" cy="123.34" r="1.2"/><circle cx="260.66" cy="81.43" r="1.2"/><circle cx="261.87" cy="95.81" r="1.2"/><circle cx="258.91" cy="97.12" r="1.2"/><circle cx="261.38" cy="100.29" r="1.2"/><circle cx="268.92" cy="98.74" r="1.2"/><circle cx="263.23" cy="105.34" r="1.2"/><circle cx="264.59" cy="96.33" r="1.2"/><circle cx="268.24" cy="72" r="1.2"/><circle cx="267.15" cy="136.3" r="1.2"/><circle cx="264.65" cy="108.84" r="1.2"/><circle cx="261.36" cy="121.94" r="1.2"/><circle cx="262.64" cy="98.57" r="1.2"/><circle cx="269.19" cy="117.69" r="1.2"/><circle cx="269.09" cy="106.54" r="1.2"/><circle cx="258.99" cy="105.27" r="1.2"/><circle cx="266.47" cy="108.39" r="1.2"/><circle cx="262.45" cy="99.38" r="1.2"/><circle cx="270.4" cy="109.5" r="1.2"/><circle cx="262.21" cy="122.34" r="1.2"/><circle cx="270.61" cy="106.84" r="1.2"/><circle cx="264.83" cy="149.3" r="1.2"/><circle cx="259.52" cy="89.05" r="1.2"/><circle cx="266.44" cy="94.4" r="1.2"/><circle cx="262.04" cy="106.59" r="1.2"/><circle cx="264.73" cy="102.44" r="1.2"/><circle cx="265.14" cy="135.39" r="1.2"/><circle cx="268.45" cy="104.97" r="1.2"/><circle cx="259.24" cy="85.41" r="1.2"/><circle cx="263.97" cy="121.34" r="1.2"/><circle cx="267.73" cy="83.94" r="1.2"/><circle cx="259.51" cy="95.49" r="1.2"/><circle cx="266.5" cy="128.37" r="1.2"/><circle cx="266.13" cy="96.68" r="1.2"/><circle cx="262.83" cy="59" r="1.2"/><circle cx="270.11" cy="114.73" r="1.2"/><circle cx="262.42" cy="109.59" r="1.2"/><circle cx="262.09" cy="100.2" r="1.2"/><circle cx="265.58" cy="97.98" r="1.2"/><circle cx="270.53" cy="104.18" r="1.2"/><circle cx="264.45" cy="94.97" r="1.2"/><circle cx="261.53" cy="115.93" r="1.2"/></g>
<line x1="295.32" x2="295.32" y1="73.3" y2="92.7" stroke="#000" stroke-width="1.7"/>
<line x1="295.32" x2="295.32" y1="111.6" y2="136.4" stroke="#000" stroke-width="1.7"/>
<rect x="283.62" y="92.7" width="23.4" height="18.9" fill="#fff" stroke="#000" stroke-width="1.7"/>
<line x1="283.62" x2="307.02" y1="101.6" y2="101.6" stroke="#000" stroke-width="2.8"/>
<g fill="#FDE725"><circle cx="300.78" cy="92.21" r="1.2"/><circle cx="294.68" cy="115.62" r="1.2"/><circle cx="289.76" cy="94.47" r="1.2"/><circle cx="297.36" cy="129.41" r="1.2"/><circle cx="289.63" cy="80.89" r="1.2"/><circle cx="300.81" cy="98.26" r="1.2"/><circle cx="289.55" cy="102.22" r="1.2"/><circle cx="295.82" cy="153.4" r="1.2"/><circle cx="294.63" cy="88.84" r="1.2"/><circle cx="290.96" cy="108.71" r="1.2"/><circle cx="292.45" cy="85.37" r="1.2"/><circle cx="289.62" cy="92.14" r="1.2"/><circle cx="296.23" cy="115.02" r="1.2"/><circle cx="298.77" cy="100.46" r="1.2"/><circle cx="292.75" cy="113.98" r="1.2"/><circle cx="290.63" cy="117.16" r="1.2"/><circle cx="294.5" cy="108.97" r="1.2"/><circle cx="298.38" cy="93.82" r="1.2"/><circle cx="294.34" cy="116.51" r="1.2"/><circle cx="289.58" cy="133.58" r="1.2"/><circle cx="295.82" cy="90.55" r="1.2"/><circle cx="291.33" cy="111.23" r="1.2"/><circle cx="295.98" cy="93.13" r="1.2"/><circle cx="292.46" cy="114.13" r="1.2"/><circle cx="298.09" cy="93.88" r="1.2"/><circle cx="296.86" cy="110.22" r="1.2"/><circle cx="301.15" cy="106.53" r="1.2"/><circle cx="294.9" cy="103.79" r="1.2"/><circle cx="290.71" cy="111.78" r="1.2"/><circle cx="294.23" cy="90.22" r="1.2"/><circle cx="293.8" cy="97.51" r="1.2"/><circle cx="292.24" cy="99.85" r="1.2"/><circle cx="292.82" cy="106.48" r="1.2"/><circle cx="292.3" cy="130.04" r="1.2"/><circle cx="291.05" cy="107.11" r="1.2"/><circle cx="290.92" cy="107.76" r="1.2"/><circle cx="299.74" cy="101.38" r="1.2"/><circle cx="298.09" cy="106.45" r="1.2"/><circle cx="299.37" cy="92.77" r="1.2"/><circle cx="292.18" cy="94.36" r="1.2"/><circle cx="294.62" cy="105.43" r="1.2"/><circle cx="290.4" cy="97.96" r="1.2"/><circle cx="294.23" cy="118.24" r="1.2"/><circle cx="291.11" cy="110.77" r="1.2"/><circle cx="301.06" cy="100.4" r="1.2"/><circle cx="298.45" cy="102.96" r="1.2"/><circle cx="293.06" cy="101.16" r="1.2"/><circle cx="294.31" cy="98.72" r="1.2"/><circle cx="290.93" cy="124.74" r="1.2"/><circle cx="296.08" cy="128.5" r="1.2"/><circle cx="292.88" cy="109.87" r="1.2"/><circle cx="296.75" cy="83.14" r="1.2"/><circle cx="298.97" cy="80.95" r="1.2"/><circle cx="297.75" cy="102.09" r="1.2"/><circle cx="292.18" cy="96.43" r="1.2"/><circle cx="293.49" cy="110.25" r="1.2"/><circle cx="295.11" cy="90.62" r="1.2"/><circle cx="290.61" cy="112.31" r="1.2"/><circle cx="291.42" cy="122.26" r="1.2"/><circle cx="289.44" cy="113.83" r="1.2"/><circle cx="291.49" cy="99.01" r="1.2"/><circle cx="300.67" cy="98.49" r="1.2"/><circle cx="299.31" cy="100.26" r="1.2"/><circle cx="295.48" cy="91.54" r="1.2"/><circle cx="296.04" cy="102.17" r="1.2"/><circle cx="299.93" cy="83.7" r="1.2"/><circle cx="295.41" cy="100.9" r="1.2"/><circle cx="296.96" cy="98.6" r="1.2"/><circle cx="294.73" cy="103.42" r="1.2"/><circle cx="293.01" cy="121.11" r="1.2"/><circle cx="296.22" cy="88.17" r="1.2"/><circle cx="300.64" cy="101.4" r="1.2"/><circle cx="294.59" cy="108.47" r="1.2"/><circle cx="299.27" cy="101.85" r="1.2"/><circle cx="289.8" cy="121.28" r="1.2"/><circle cx="292.12" cy="75.42" r="1.2"/><circle cx="291.47" cy="106.32" r="1.2"/><circle cx="292.08" cy="87.52" r="1.2"/><circle cx="291.62" cy="98.01" r="1.2"/><circle cx="290.22" cy="116.89" r="1.2"/><circle cx="290.64" cy="85.26" r="1.2"/><circle cx="292.28" cy="83.01" r="1.2"/><circle cx="293.6" cy="121.48" r="1.2"/><circle cx="294" cy="82.51" r="1.2"/><circle cx="300.97" cy="73.85" r="1.2"/><circle cx="298.15" cy="91.79" r="1.2"/><circle cx="299.34" cy="106.06" r="1.2"/><circle cx="299.28" cy="112.4" r="1.2"/><circle cx="291.16" cy="100.01" r="1.2"/><circle cx="290.38" cy="129.98" r="1.2"/><circle cx="298.31" cy="96.48" r="1.2"/><circle cx="291.43" cy="111.77" r="1.2"/><circle cx="291.48" cy="112.34" r="1.2"/><circle cx="296.89" cy="101.6" r="1.2"/><circle cx="293.71" cy="105.84" r="1.2"/><circle cx="293.59" cy="87.17" r="1.2"/><circle cx="292.25" cy="108.59" r="1.2"/><circle cx="299.99" cy="86.96" r="1.2"/><circle cx="295.55" cy="99.42" r="1.2"/><circle cx="293.53" cy="106.45" r="1.2"/><circle cx="292.04" cy="88.86" r="1.2"/><circle cx="298.46" cy="83.55" r="1.2"/><circle cx="300.42" cy="100.28" r="1.2"/><circle cx="297.62" cy="86.69" r="1.2"/><circle cx="290.44" cy="105.74" r="1.2"/><circle cx="294.86" cy="73.49" r="1.2"/><circle cx="298.18" cy="108.63" r="1.2"/><circle cx="290.17" cy="94.44" r="1.2"/><circle cx="293.94" cy="93.68" r="1.2"/><circle cx="299.41" cy="98.71" r="1.2"/><circle cx="293.64" cy="113.42" r="1.2"/><circle cx="297.34" cy="136.38" r="1.2"/><circle cx="297" cy="124.33" r="1.2"/><circle cx="295.45" cy="111.16" r="1.2"/><circle cx="299.99" cy="95.11" r="1.2"/><circle cx="294.79" cy="75.65" r="1.2"/><circle cx="300.43" cy="120.51" r="1.2"/><circle cx="292.59" cy="106.14" r="1.2"/><circle cx="295.58" cy="91.43" r="1.2"/><circle cx="298.97" cy="117.57" r="1.2"/><circle cx="298.79" cy="108.49" r="1.2"/><circle cx="292.46" cy="124.96" r="1.2"/><circle cx="300.99" cy="88.87" r="1.2"/><circle cx="296.17" cy="91.27" r="1.2"/><circle cx="296.53" cy="82.82" r="1.2"/><circle cx="292.05" cy="116.53" r="1.2"/><circle cx="291.26" cy="105.94" r="1.2"/><circle cx="298.66" cy="90.4" r="1.2"/><circle cx="298.67" cy="82.98" r="1.2"/><circle cx="299.44" cy="106.96" r="1.2"/><circle cx="298.47" cy="88.27" r="1.2"/><circle cx="290.75" cy="91.06" r="1.2"/><circle cx="294.89" cy="103.79" r="1.2"/><circle cx="295.54" cy="82.56" r="1.2"/><circle cx="290.78" cy="102.79" r="1.2"/><circle cx="296.35" cy="90.13" r="1.2"/><circle cx="300.31" cy="113.37" r="1.2"/><circle cx="300.09" cy="87.94" r="1.2"/><circle cx="292.7" cy="120.85" r="1.2"/><circle cx="292.64" cy="109.81" r="1.2"/><circle cx="300.94" cy="82.87" r="1.2"/><circle cx="296.99" cy="103.58" r="1.2"/><circle cx="297.3" cy="106.2" r="1.2"/><circle cx="293.3" cy="106.28" r="1.2"/><circle cx="297.82" cy="157.4" r="1.2"/><circle cx="293.19" cy="98.78" r="1.2"/><circle cx="294.65" cy="102.69" r="1.2"/><circle cx="300.27" cy="121.5" r="1.2"/><circle cx="299.61" cy="85.07" r="1.2"/><circle cx="300.43" cy="86.76" r="1.2"/><circle cx="292.18" cy="105.53" r="1.2"/><circle cx="300.5" cy="96.88" r="1.2"/></g>
<line x1="38.68" x2="38.68" y1="214.5" y2="225.5" stroke="#000" stroke-width="1.7"/>
<line x1="38.68" x2="38.68" y1="235.3" y2="248.6" stroke="#000" stroke-width="1.7"/>
<rect x="26.98" y="225.5" width="23.4" height="9.8" fill="#fff" stroke="#000" stroke-width="1.7"/>
<line x1="26.98" x2="50.38" y1="230.2" y2="230.2" stroke="#000" stroke-width="2.8"/>
<g fill="#21908C"><circle cx="33.34" cy="227.17" r="1.2"/><circle cx="41.85" cy="222.69" r="1.2"/><circle cx="39.83" cy="241.46" r="1.2"/><circle cx="40.22" cy="228.97" r="1.2"/><circle cx="35.58" cy="235.48" r="1.2"/><circle cx="38.93" cy="228.81" r="1.2"/><circle cx="33.78" cy="232.08" r="1.2"/><circle cx="33.74" cy="223.92" r="1.2"/><circle cx="33.5" cy="233.25" r="1.2"/><circle cx="35.31" cy="236.6" r="1.2"/><circle cx="41.13" cy="246.52" r="1.2"/><circle cx="38.29" cy="232.57" r="1.2"/><circle cx="40.24" cy="230.82" r="1.2"/><circle cx="35.41" cy="227.51" r="1.2"/><circle cx="42.9" cy="225.11" r="1.2"/><circle cx="40.72" cy="235.58" r="1.2"/><circle cx="43.99" cy="231.09" r="1.2"/><circle cx="41.86" cy="228.66" r="1.2"/><circle cx="40.82" cy="231.7" r="1.2"/><circle cx="34.76" cy="223.3" r="1.2"/><circle cx="36.18" cy="221.44" r="1.2"/><circle cx="34.56" cy="241.02" r="1.2"/><circle cx="43.1" cy="234.62" r="1.2"/><circle cx="35.98" cy="255.1" r="1.2"/><circle cx="43.92" cy="226.71" r="1.2"/><circle cx="37.91" cy="223.78" r="1.2"/><circle cx="39.7" cy="228" r="1.2"/><circle cx="41.51" cy="221.3" r="1.2"/><circle cx="44.66" cy="247.68" r="1.2"/><circle cx="41.31" cy="229.78" r="1.2"/><circle cx="40.81" cy="228.4" r="1.2"/><circle cx="38.8" cy="220" r="1.2"/><circle cx="36.71" cy="227.55" r="1.2"/><circle cx="37.23" cy="222.93" r="1.2"/><circle cx="37.33" cy="231.43" r="1.2"/><circle cx="34.59" cy="228.24" r="1.2"/><circle cx="33.49" cy="231.86" r="1.2"/><circle cx="35.04" cy="216.87" r="1.2"/><circle cx="43.18" cy="236.79" r="1.2"/><circle cx="42.98" cy="243.38" r="1.2"/><circle cx="43.45" cy="232.16" r="1.2"/><circle cx="39.22" cy="221.61" r="1.2"/><circle cx="43.65" cy="219.63" r="1.2"/><circle cx="33.21" cy="231.79" r="1.2"/><circle cx="35.54" cy="238.36" r="1.2"/><circle cx="40.5" cy="225.59" r="1.2"/><circle cx="35.48" cy="208.7" r="1.2"/><circle cx="34.42" cy="240.23" r="1.2"/><circle cx="34.02" cy="227.91" r="1.2"/><circle cx="44.22" cy="232.5" r="1.2"/><circle cx="43.27" cy="234.43" r="1.2"/><circle cx="35.56" cy="234.17" r="1.2"/><circle cx="43.55" cy="229.02" r="1.2"/><circle cx="43.09" cy="222.79" r="1.2"/><circle cx="37.54" cy="228.07" r="1.2"/><circle cx="43.68" cy="257.9" r="1.2"/><circle cx="39.65" cy="223.67" r="1.2"/><circle cx="41.02" cy="241.08" r="1.2"/><circle cx="35.14" cy="230.88" r="1.2"/><circle cx="37.7" cy="234.86" r="1.2"/><circle cx="34.19" cy="237.9" r="1.2"/><circle cx="32.86" cy="232.86" r="1.2"/><circle cx="35.28" cy="233.9" r="1.2"/><circle cx="40.97" cy="220.55" r="1.2"/><circle cx="35.36" cy="236.5" r="1.2"/><circle cx="39.99" cy="238.24" r="1.2"/><circle cx="36.14" cy="236.36" r="1.2"/><circle cx="42.34" cy="228.29" r="1.2"/><circle cx="41.85" cy="219.71" r="1.2"/><circle cx="37.75" cy="234.16" r="1.2"/><circle cx="43.32" cy="227.85" r="1.2"/><circle cx="34.72" cy="239.43" r="1.2"/><circle cx="42.13" cy="218.32" r="1.2"/><circle cx="40.23" cy="231.4" r="1.2"/><circle cx="39.7" cy="229.33" r="1.2"/><circle cx="42.27" cy="229.27" r="1.2"/><circle cx="42.22" cy="221.43" r="1.2"/><circle cx="44.56" cy="231.93" r="1.2"/><circle cx="44.44" cy="226.48" r="1.2"/><circle cx="36.82" cy="235.74" r="1.2"/><circle cx="42.34" cy="230.04" r="1.2"/><circle cx="37.53" cy="227.54" r="1.2"/><circle cx="41.69" cy="236.89" r="1.2"/><circle cx="40.78" cy="231.91" r="1.2"/><circle cx="41.78" cy="216.96" r="1.2"/><circle cx="43.64" cy="229.56" r="1.2"/><circle cx="39.59" cy="234.71" r="1.2"/><circle cx="41.3" cy="225.58" r="1.2"/><circle cx="36.95" cy="241.95" r="1.2"/><circle cx="43.49" cy="241.77" r="1.2"/><circle cx="44.37" cy="214.57" r="1.2"/><circle cx="40.79" cy="227.01" r="1.2"/><circle cx="37.43" cy="226.99" r="1.2"/><circle cx="35" cy="227.87" r="1.2"/><circle cx="37.49" cy="225.08" r="1.2"/><circle cx="38.66" cy="226.85" r="1.2"/><circle cx="36.25" cy="225.99" r="1.2"/><circle cx="41.21" cy="232.78" r="1.2"/><circle cx="38.39" cy="231.53" r="1.2"/><circle cx="43.38" cy="234.28" r="1.2"/><circle cx="43.79" cy="238.24" r="1.2"/><circle cx="42.81" cy="229.06" r="1.2"/><circle cx="40.81" cy="239.75" r="1.2"/><circle cx="39.33" cy="224.26" r="1.2"/><circle cx="44.68" cy="237.26" r="1.2"/><circle cx="33.73" cy="228.05" r="1.2"/><circle cx="37.85" cy="230.03" r="1.2"/><circle cx="43.98" cy="231.52" r="1.2"/><circle cx="36.03" cy="233.52" r="1.2"/><circle cx="32.99" cy="217.2" r="1.2"/><circle cx="37.47" cy="232.16" r="1.2"/><circle cx="39.73" cy="234.68" r="1.2"/><circle cx="37.04" cy="233.05" r="1.2"/><circle cx="39.98" cy="229.88" r="1.2"/><circle cx="33.85" cy="222.31" r="1.2"/><circle cx="37.43" cy="233.06" r="1.2"/><circle cx="40.18" cy="208.7" r="1.2"/><circle cx="42.48" cy="221.54" r="1.2"/><circle cx="37.64" cy="239.18" r="1.2"/><circle cx="37.97" cy="235.8" r="1.2"/><circle cx="41.03" cy="248.59" r="1.2"/><circle cx="43.14" cy="228.52" r="1.2"/><circle cx="40.55" cy="218.89" r="1.2"/><circle cx="38.26" cy="239.61" r="1.2"/><circle cx="40.23" cy="227.86" r="1.2"/><circle cx="43.91" cy="244.11" r="1.2"/><circle cx="35.93" cy="229.95" r="1.2"/><circle cx="38.15" cy="220.31" r="1.2"/><circle cx="34.24" cy="233.61" r="1.2"/><circle cx="37.54" cy="238.19" r="1.2"/><circle cx="36.7" cy="229.74" r="1.2"/><circle cx="39.31" cy="230.38" r="1.2"/><circle cx="37.08" cy="226.33" r="1.2"/><circle cx="39.34" cy="244.95" r="1.2"/><circle cx="35.71" cy="227.88" r="1.2"/><circle cx="41.54" cy="218.88" r="1.2"/><circle cx="38.23" cy="244.47" r="1.2"/><circle cx="41.77" cy="244.53" r="1.2"/><circle cx="42" cy="233.94" r="1.2"/><circle cx="32.99" cy="239.96" r="1.2"/><circle cx="34.8" cy="247.59" r="1.2"/><circle cx="34.94" cy="227.4" r="1.2"/><circle cx="32.95" cy="222.98" r="1.2"/><circle cx="39.46" cy="224.33" r="1.2"/><circle cx="39.1" cy="230.18" r="1.2"/><circle cx="37.1" cy="229.56" r="1.2"/><circle cx="37.47" cy="231.88" r="1.2"/><circle cx="43.04" cy="226.08" r="1.2"/><circle cx="41.22" cy="238.05" r="1.2"/><circle cx="35.46" cy="237.25" r="1.2"/><circle cx="38.29" cy="235.15" r="1.2"/><circle cx="33.03" cy="226.71" r="1.2"/><circle cx="32.76" cy="240.11" r="1.2"/><circle cx="32.77" cy="226.69" r="1.2"/></g>
<line x1="69.17" x2="69.17" y1="210.4" y2="223.3" stroke="#000" stroke-width="1.7"/>
<line x1="69.17" x2="69.17" y1="237.2" y2="253.4" stroke="#000" stroke-width="1.7"/>
<rect x="57.47" y="223.3" width="23.4" height="13.9" fill="#fff" stroke="#000" stroke-width="1.7"/>
<line x1="57.47" x2="80.87" y1="228.8" y2="228.8" stroke="#000" stroke-width="2.8"/>
<g fill="#FDE725"><circle cx="67.57" cy="232.98" r="1.2"/><circle cx="72" cy="219.8" r="1.2"/><circle cx="68.02" cy="227.93" r="1.2"/><circle cx="73.23" cy="242.08" r="1.2"/><circle cx="64.78" cy="226.51" r="1.2"/><circle cx="69.21" cy="220.9" r="1.2"/><circle cx="72" cy="212.21" r="1.2"/><circle cx="65.82" cy="238.57" r="1.2"/><circle cx="74.78" cy="223.93" r="1.2"/><circle cx="71.32" cy="232.85" r="1.2"/><circle cx="69.7" cy="240.38" r="1.2"/><circle cx="66.3" cy="244.26" r="1.2"/><circle cx="71.4" cy="214.89" r="1.2"/><circle cx="69.83" cy="242.46" r="1.2"/><circle cx="66.05" cy="237.06" r="1.2"/><circle cx="72.82" cy="242.43" r="1.2"/><circle cx="75.03" cy="223.98" r="1.2"/><circle cx="73.39" cy="238.49" r="1.2"/><circle cx="64.22" cy="221.65" r="1.2"/><circle cx="69.66" cy="225.95" r="1.2"/><circle cx="68.67" cy="242.35" r="1.2"/><circle cx="65.89" cy="238.1" r="1.2"/><circle cx="69.33" cy="253.33" r="1.2"/><circle cx="69.46" cy="210.62" r="1.2"/><circle cx="69.97" cy="229.44" r="1.2"/><circle cx="63.73" cy="228.46" r="1.2"/><circle cx="74.55" cy="247" r="1.2"/><circle cx="69.35" cy="218.77" r="1.2"/><circle cx="67.42" cy="231.28" r="1.2"/><circle cx="63.31" cy="228.18" r="1.2"/><circle cx="74.79" cy="217.28" r="1.2"/><circle cx="63.67" cy="231.05" r="1.2"/><circle cx="71.46" cy="225.72" r="1.2"/><circle cx="74.64" cy="226.19" r="1.2"/><circle cx="71.21" cy="226.17" r="1.2"/><circle cx="70.69" cy="248.67" r="1.2"/><circle cx="74.07" cy="246.18" r="1.2"/><circle cx="68.68" cy="241.48" r="1.2"/><circle cx="68.87" cy="221.82" r="1.2"/><circle cx="74.08" cy="220.33" r="1.2"/><circle cx="71.68" cy="242.15" r="1.2"/><circle cx="74.69" cy="224.27" r="1.2"/><circle cx="65.89" cy="221.86" r="1.2"/><circle cx="65.6" cy="231.85" r="1.2"/><circle cx="65.59" cy="234.23" r="1.2"/><circle cx="74.49" cy="217.36" r="1.2"/><circle cx="71.59" cy="228.09" r="1.2"/><circle cx="69.25" cy="228.57" r="1.2"/><circle cx="64.61" cy="231.91" r="1.2"/><circle cx="68.46" cy="248.4" r="1.2"/><circle cx="64.8" cy="226.54" r="1.2"/><circle cx="68.69" cy="247.88" r="1.2"/><circle cx="64.93" cy="233.39" r="1.2"/><circle cx="72.77" cy="251.86" r="1.2"/><circle cx="67.65" cy="227.41" r="1.2"/><circle cx="66.24" cy="226.01" r="1.2"/><circle cx="71.53" cy="231.91" r="1.2"/><circle cx="65.42" cy="226.68" r="1.2"/><circle cx="70.96" cy="223.78" r="1.2"/><circle cx="64.29" cy="225.09" r="1.2"/><circle cx="64.54" cy="225.47" r="1.2"/><circle cx="71.91" cy="227.47" r="1.2"/><circle cx="70.12" cy="237.99" r="1.2"/><circle cx="73.22" cy="231.22" r="1.2"/><circle cx="65.47" cy="232.64" r="1.2"/><circle cx="66.04" cy="220.41" r="1.2"/><circle cx="72.17" cy="249.22" r="1.2"/><circle cx="68.67" cy="209.5" r="1.2"/><circle cx="67.49" cy="220.76" r="1.2"/><circle cx="73.27" cy="225.51" r="1.2"/><circle cx="70.59" cy="229.77" r="1.2"/></g>
<line x1="113.83" x2="113.83" y1="202.6" y2="221.1" stroke="#000" stroke-width="1.7"/>
<line x1="113.83" x2="113.83" y1="242.1" y2="271.7" stroke="#000" stroke-width="1.7"/>
<rect x="102.13" y="221.1" width="23.4" height="21" fill="#fff" stroke="#000" stroke-width="1.7"/>
<line x1="102.13" x2="125.53" y1="228.3" y2="228.3" stroke="#000" stroke-width="2.8"/>
<g fill="#21908C"><circle cx="114.53" cy="213.16" r="1.2"/><circle cx="111.08" cy="250.49" r="1.2"/><circle cx="109.93" cy="242.88" r="1.2"/><circle cx="119.69" cy="235.49" r="1.2"/><circle cx="118.22" cy="212.59" r="1.2"/><circle cx="114.73" cy="222.08" r="1.2"/><circle cx="116.31" cy="238.78" r="1.2"/><circle cx="115.99" cy="220.33" r="1.2"/><circle cx="115.6" cy="246.24" r="1.2"/><circle cx="115.65" cy="212.95" r="1.2"/><circle cx="116.93" cy="237.22" r="1.2"/><circle cx="115.26" cy="226.37" r="1.2"/><circle cx="110.73" cy="224.73" r="1.2"/><circle cx="117.39" cy="250.3" r="1.2"/><circle cx="117.92" cy="215.28" r="1.2"/><circle cx="114.74" cy="235.81" r="1.2"/><circle cx="108.07" cy="238.19" r="1.2"/><circle cx="108.88" cy="258.19" r="1.2"/><circle cx="119.61" cy="250.06" r="1.2"/><circle cx="111.22" cy="242.18" r="1.2"/><circle cx="115.15" cy="219.62" r="1.2"/><circle cx="110.59" cy="241.96" r="1.2"/><circle cx="109.67" cy="225.96" r="1.2"/><circle cx="113.85" cy="215.95" r="1.2"/><circle cx="116.35" cy="219.96" r="1.2"/><circle cx="117.54" cy="271.6" r="1.2"/><circle cx="118.24" cy="232.1" r="1.2"/><circle cx="111.12" cy="223" r="1.2"/><circle cx="108.06" cy="218.96" r="1.2"/><circle cx="111.63" cy="237.05" r="1.2"/><circle cx="118.55" cy="243.65" r="1.2"/><circle cx="114.19" cy="208.14" r="1.2"/><circle cx="108.71" cy="259.52" r="1.2"/><circle cx="117.85" cy="228.2" r="1.2"/><circle cx="112.63" cy="217.09" r="1.2"/><circle cx="117.14" cy="236.66" r="1.2"/><circle cx="114.54" cy="235.99" r="1.2"/><circle cx="114.19" cy="245.13" r="1.2"/><circle cx="115.19" cy="209.23" r="1.2"/><circle cx="109.38" cy="250.07" r="1.2"/><circle cx="112.17" cy="229.95" r="1.2"/><circle cx="112.13" cy="223.56" r="1.2"/><circle cx="108.16" cy="255.08" r="1.2"/><circle cx="118.31" cy="216.13" r="1.2"/><circle cx="110.67" cy="211.93" r="1.2"/><circle cx="118.6" cy="218.56" r="1.2"/><circle cx="108.14" cy="222.21" r="1.2"/><circle cx="108.4" cy="236.99" r="1.2"/><circle cx="114.39" cy="221.85" r="1.2"/><circle cx="113.56" cy="208.84" r="1.2"/><circle cx="111.96" cy="233.69" r="1.2"/><circle cx="118.63" cy="284.1" r="1.2"/><circle cx="111.71" cy="214.46" r="1.2"/><circle cx="119.55" cy="202.65" r="1.2"/><circle cx="108.21" cy="257.97" r="1.2"/><circle cx="119.11" cy="242.41" r="1.2"/><circle cx="108.51" cy="221.86" r="1.2"/><circle cx="117.44" cy="219.58" r="1.2"/><circle cx="112.17" cy="233.22" r="1.2"/><circle cx="108.16" cy="226.37" r="1.2"/><circle cx="110.87" cy="222.04" r="1.2"/><circle cx="111.59" cy="223.55" r="1.2"/><circle cx="109.71" cy="214.97" r="1.2"/><circle cx="115.68" cy="222.57" r="1.2"/><circle cx="109.03" cy="217.75" r="1.2"/><circle cx="107.89" cy="226.02" r="1.2"/><circle cx="115.54" cy="222.74" r="1.2"/><circle cx="117.33" cy="282" r="1.2"/><circle cx="112.81" cy="215.56" r="1.2"/><circle cx="118.19" cy="219.44" r="1.2"/><circle cx="108.01" cy="213.65" r="1.2"/><circle cx="111.69" cy="245.57" r="1.2"/><circle cx="117.59" cy="223.93" r="1.2"/><circle cx="114.43" cy="226.01" r="1.2"/><circle cx="113.21" cy="229.15" r="1.2"/><circle cx="108.42" cy="234.31" r="1.2"/><circle cx="117.63" cy="202.89" r="1.2"/><circle cx="115.35" cy="229.92" r="1.2"/><circle cx="109.03" cy="225.36" r="1.2"/><circle cx="110.36" cy="249.43" r="1.2"/><circle cx="113.67" cy="254.64" r="1.2"/><circle cx="115.03" cy="181.9" r="1.2"/><circle cx="116.46" cy="226.32" r="1.2"/></g>
<line x1="144.32" x2="144.32" y1="203.2" y2="219.2" stroke="#000" stroke-width="1.7"/>
<line x1="144.32" x2="144.32" y1="232.5" y2="249.6" stroke="#000" stroke-width="1.7"/>
<rect x="132.62" y="219.2" width="23.4" height="13.3" fill="#fff" stroke="#000" stroke-width="1.7"/>
<line x1="132.62" x2="156.02" y1="223.3" y2="223.3" stroke="#000" stroke-width="2.8"/>
<g fill="#FDE725"><circle cx="142.56" cy="220.41" r="1.2"/><circle cx="139.67" cy="236.38" r="1.2"/><circle cx="140.47" cy="211.45" r="1.2"/><circle cx="142.12" cy="216.64" r="1.2"/><circle cx="149.93" cy="216.1" r="1.2"/><circle cx="143.46" cy="239.92" r="1.2"/><circle cx="144.38" cy="222.08" r="1.2"/><circle cx="144.33" cy="240.97" r="1.2"/><circle cx="142.51" cy="214.82" r="1.2"/><circle cx="143.82" cy="256.5" r="1.2"/><circle cx="144.17" cy="207.72" r="1.2"/><circle cx="141.1" cy="216.07" r="1.2"/><circle cx="147.18" cy="219.46" r="1.2"/><circle cx="138.56" cy="228.18" r="1.2"/><circle cx="149.34" cy="228.94" r="1.2"/><circle cx="144.27" cy="241.57" r="1.2"/><circle cx="148.86" cy="235.67" r="1.2"/><circle cx="141.59" cy="203.27" r="1.2"/><circle cx="148.92" cy="210.86" r="1.2"/><circle cx="139.76" cy="216.62" r="1.2"/><circle cx="140.09" cy="237.39" r="1.2"/><circle cx="139.95" cy="230.55" r="1.2"/><circle cx="140.9" cy="219.82" r="1.2"/><circle cx="146.54" cy="215.09" r="1.2"/><circle cx="139.58" cy="216.05" r="1.2"/><circle cx="146.59" cy="221.8" r="1.2"/><circle cx="138.77" cy="224.91" r="1.2"/><circle cx="147.09" cy="249.59" r="1.2"/><circle cx="150.21" cy="218.61" r="1.2"/><circle cx="147.82" cy="220.41" r="1.2"/><circle cx="143.48" cy="234.31" r="1.2"/></g>
<line x1="189.23" x2="189.23" y1="205.9" y2="224.7" stroke="#000" stroke-width="1.7"/>
<line x1="189.23" x2="189.23" y1="239.9" y2="257.9" stroke="#000" stroke-width="1.7"/>
<rect x="177.53" y="224.7" width="23.4" height="15.2" fill="#fff" stroke="#000" stroke-width="1.7"/>
<line x1="177.53" x2="200.93" y1="233.6" y2="233.6" stroke="#000" stroke-width="2.8"/>
<g fill="#21908C"><circle cx="183.45" cy="227.53" r="1.2"/><circle cx="193.05" cy="240.17" r="1.2"/><circle cx="193.22" cy="236.53" r="1.2"/><circle cx="187.12" cy="216.01" r="1.2"/><circle cx="184.71" cy="241.51" r="1.2"/><circle cx="189.49" cy="226.9" r="1.2"/><circle cx="189.48" cy="236.48" r="1.2"/><circle cx="187.69" cy="232.69" r="1.2"/><circle cx="186.13" cy="234.23" r="1.2"/><circle cx="188.73" cy="263.4" r="1.2"/><circle cx="192.74" cy="232.65" r="1.2"/><circle cx="193.65" cy="214.49" r="1.2"/><circle cx="183.75" cy="239.76" r="1.2"/><circle cx="193.09" cy="236.32" r="1.2"/><circle cx="184.29" cy="228.65" r="1.2"/><circle cx="187.81" cy="229.82" r="1.2"/><circle cx="187.31" cy="232.73" r="1.2"/><circle cx="185.64" cy="237.91" r="1.2"/><circle cx="187.64" cy="224.98" r="1.2"/><circle cx="190.65" cy="232.81" r="1.2"/><circle cx="184.47" cy="223.23" r="1.2"/><circle cx="193.54" cy="240.77" r="1.2"/><circle cx="183.76" cy="257.66" r="1.2"/><circle cx="190.92" cy="243.56" r="1.2"/><circle cx="185.3" cy="236.28" r="1.2"/><circle cx="186.08" cy="226.21" r="1.2"/><circle cx="187.68" cy="236.12" r="1.2"/><circle cx="187.98" cy="231.98" r="1.2"/><circle cx="190.87" cy="234.15" r="1.2"/><circle cx="191.85" cy="229.83" r="1.2"/><circle cx="188.54" cy="205.97" r="1.2"/><circle cx="192.81" cy="233.26" r="1.2"/><circle cx="185.93" cy="263.4" r="1.2"/><circle cx="191.39" cy="229.24" r="1.2"/><circle cx="193.96" cy="229.99" r="1.2"/><circle cx="188.31" cy="214.39" r="1.2"/><circle cx="195.2" cy="238.08" r="1.2"/><circle cx="186.25" cy="220.31" r="1.2"/><circle cx="193.16" cy="257.5" r="1.2"/><circle cx="193.23" cy="201.8" r="1.2"/><circle cx="193.24" cy="225.85" r="1.2"/><circle cx="185.08" cy="244.76" r="1.2"/><circle cx="185.37" cy="240.71" r="1.2"/><circle cx="187.81" cy="229.88" r="1.2"/><circle cx="190.08" cy="229.26" r="1.2"/><circle cx="188.97" cy="219.73" r="1.2"/><circle cx="187.51" cy="216.03" r="1.2"/><circle cx="191.57" cy="208.46" r="1.2"/><circle cx="192.87" cy="249.01" r="1.2"/><circle cx="183.92" cy="232.17" r="1.2"/><circle cx="186.53" cy="239.47" r="1.2"/><circle cx="185.03" cy="240.37" r="1.2"/><circle cx="192.34" cy="230.52" r="1.2"/><circle cx="188.67" cy="237.85" r="1.2"/><circle cx="185.65" cy="243.6" r="1.2"/><circle cx="184.33" cy="232.87" r="1.2"/><circle cx="188.76" cy="235.73" r="1.2"/><circle cx="188.62" cy="224.86" r="1.2"/></g>
<line x1="219.72" x2="219.72" y1="194.3" y2="219.2" stroke="#000" stroke-width="1.7"/>
<line x1="219.72" x2="219.72" y1="238" y2="253.7" stroke="#000" stroke-width="1.7"/>
<rect x="208.02" y="219.2" width="23.4" height="18.8" fill="#fff" stroke="#000" stroke-width="1.7"/>
<line x1="208.02" x2="231.42" y1="228.9" y2="228.9" stroke="#000" stroke-width="2.8"/>
<g fill="#FDE725"><circle cx="220.3" cy="234.4" r="1.2"/><circle cx="213.89" cy="227.08" r="1.2"/><circle cx="217.65" cy="205.05" r="1.2"/><circle cx="216.81" cy="207.63" r="1.2"/><circle cx="214.32" cy="236.02" r="1.2"/><circle cx="219.03" cy="235.71" r="1.2"/><circle cx="223.05" cy="240.94" r="1.2"/><circle cx="221.7" cy="222.82" r="1.2"/><circle cx="223.49" cy="234.63" r="1.2"/><circle cx="216.29" cy="230.38" r="1.2"/><circle cx="224.02" cy="239.52" r="1.2"/><circle cx="223.34" cy="235.19" r="1.2"/><circle cx="216.37" cy="232.08" r="1.2"/><circle cx="215.32" cy="227.47" r="1.2"/><circle cx="218.99" cy="208.12" r="1.2"/><circle cx="225.4" cy="232.76" r="1.2"/><circle cx="222.19" cy="222.13" r="1.2"/><circle cx="219.91" cy="228.18" r="1.2"/><circle cx="223.28" cy="207.41" r="1.2"/><circle cx="216.14" cy="232.89" r="1.2"/><circle cx="219.68" cy="213.17" r="1.2"/><circle cx="224.8" cy="231.07" r="1.2"/><circle cx="222.45" cy="214.12" r="1.2"/><circle cx="222.35" cy="220.95" r="1.2"/><circle cx="220.13" cy="240.73" r="1.2"/><circle cx="222.37" cy="219.29" r="1.2"/><circle cx="224.14" cy="233.01" r="1.2"/><circle cx="215.69" cy="243.46" r="1.2"/><circle cx="225.41" cy="249.05" r="1.2"/><circle cx="225.06" cy="221.07" r="1.2"/><circle cx="216.16" cy="229" r="1.2"/><circle cx="223.72" cy="211.58" r="1.2"/><circle cx="215.59" cy="215.55" r="1.2"/><circle cx="217.21" cy="253.69" r="1.2"/><circle cx="218.81" cy="238.06" r="1.2"/><circle cx="216.12" cy="236.21" r="1.2"/><circle cx="216.49" cy="220.12" r="1.2"/><circle cx="214.82" cy="222.81" r="1.2"/><circle cx="222.56" cy="214.38" r="1.2"/><circle cx="221.05" cy="230.26" r="1.2"/><circle cx="221.58" cy="194.37" r="1.2"/><circle cx="216.4" cy="232.5" r="1.2"/><circle cx="215.64" cy="235.78" r="1.2"/><circle cx="224.28" cy="240.26" r="1.2"/><circle cx="219.07" cy="243.99" r="1.2"/><circle cx="217.43" cy="243.4" r="1.2"/><circle cx="222.7" cy="224.26" r="1.2"/><circle cx="216.23" cy="234.83" r="1.2"/><circle cx="216.16" cy="226.33" r="1.2"/><circle cx="215.63" cy="198.67" r="1.2"/><circle cx="222.82" cy="239.9" r="1.2"/><circle cx="222.36" cy="251.08" r="1.2"/><circle cx="222.3" cy="227.5" r="1.2"/><circle cx="215.21" cy="230.45" r="1.2"/><circle cx="222.2" cy="223.11" r="1.2"/><circle cx="215.88" cy="214.11" r="1.2"/><circle cx="219.31" cy="247.27" r="1.2"/><circle cx="215.36" cy="215.52" r="1.2"/><circle cx="218.59" cy="246.98" r="1.2"/><circle cx="224.21" cy="223.27" r="1.2"/></g>
<line x1="264.83" x2="264.83" y1="205.4" y2="223.3" stroke="#000" stroke-width="1.7"/>
<line x1="264.83" x2="264.83" y1="238" y2="253.2" stroke="#000" stroke-width="1.7"/>
<rect x="253.13" y="223.3" width="23.4" height="14.7" fill="#fff" stroke="#000" stroke-width="1.7"/>
<line x1="253.13" x2="276.53" y1="231.6" y2="231.6" stroke="#000" stroke-width="2.8"/>
<g fill="#21908C"><circle cx="265.46" cy="223.3" r="1.2"/><circle cx="260.04" cy="238.63" r="1.2"/><circle cx="270.55" cy="225.43" r="1.2"/><circle cx="260.28" cy="217.54" r="1.2"/><circle cx="269.56" cy="231.04" r="1.2"/><circle cx="260.78" cy="221.15" r="1.2"/><circle cx="266.09" cy="248.95" r="1.2"/><circle cx="262.16" cy="209.18" r="1.2"/><circle cx="262.03" cy="215.24" r="1.2"/><circle cx="269.98" cy="234.17" r="1.2"/><circle cx="260.94" cy="252.16" r="1.2"/><circle cx="270.69" cy="239.47" r="1.2"/><circle cx="262.68" cy="237.94" r="1.2"/><circle cx="265.1" cy="238.13" r="1.2"/><circle cx="264.32" cy="231.19" r="1.2"/><circle cx="270.44" cy="209.92" r="1.2"/><circle cx="270.38" cy="230.62" r="1.2"/><circle cx="267.84" cy="212.44" r="1.2"/><circle cx="263.17" cy="228.63" r="1.2"/><circle cx="267.25" cy="240.66" r="1.2"/><circle cx="260.13" cy="238.55" r="1.2"/><circle cx="266.83" cy="236.8" r="1.2"/><circle cx="263.56" cy="231.39" r="1.2"/><circle cx="266.62" cy="227.67" r="1.2"/><circle cx="261.95" cy="239.65" r="1.2"/><circle cx="267.03" cy="232.07" r="1.2"/><circle cx="261.28" cy="225.66" r="1.2"/><circle cx="265.16" cy="231.54" r="1.2"/><circle cx="268.58" cy="228.62" r="1.2"/><circle cx="266.48" cy="221.52" r="1.2"/><circle cx="264.81" cy="248.08" r="1.2"/><circle cx="258.84" cy="216.47" r="1.2"/><circle cx="261.08" cy="211.83" r="1.2"/><circle cx="267.12" cy="240.95" r="1.2"/><circle cx="265.97" cy="221.77" r="1.2"/><circle cx="270.3" cy="239.66" r="1.2"/><circle cx="269.74" cy="224.78" r="1.2"/><circle cx="263.18" cy="230.49" r="1.2"/><circle cx="268.36" cy="219.93" r="1.2"/><circle cx="259.52" cy="220.58" r="1.2"/><circle cx="264.2" cy="214.24" r="1.2"/><circle cx="264.91" cy="233.91" r="1.2"/><circle cx="261.04" cy="217.2" r="1.2"/><circle cx="263.43" cy="236.6" r="1.2"/><circle cx="259.74" cy="216.47" r="1.2"/><circle cx="262.08" cy="240.89" r="1.2"/><circle cx="259.03" cy="230" r="1.2"/><circle cx="265.54" cy="205.6" r="1.2"/><circle cx="261.52" cy="242.86" r="1.2"/><circle cx="261.2" cy="221.78" r="1.2"/><circle cx="262.91" cy="240.33" r="1.2"/><circle cx="265" cy="237.58" r="1.2"/><circle cx="258.89" cy="229.77" r="1.2"/><circle cx="259.47" cy="221.91" r="1.2"/><circle cx="263" cy="212.76" r="1.2"/><circle cx="263.54" cy="207.27" r="1.2"/><circle cx="266.95" cy="221.82" r="1.2"/><circle cx="264.7" cy="244" r="1.2"/><circle cx="268.85" cy="235.46" r="1.2"/><circle cx="261.4" cy="226.96" r="1.2"/><circle cx="263.35" cy="249.32" r="1.2"/><circle cx="262.86" cy="243.91" r="1.2"/><circle cx="264.83" cy="234.83" r="1.2"/><circle cx="269.51" cy="232.37" r="1.2"/><circle cx="260.57" cy="241.83" r="1.2"/><circle cx="262.54" cy="242.95" r="1.2"/><circle cx="264.29" cy="231.88" r="1.2"/><circle cx="267.03" cy="220.77" r="1.2"/><circle cx="269.72" cy="205.53" r="1.2"/><circle cx="270.17" cy="212.12" r="1.2"/><circle cx="268.35" cy="245.64" r="1.2"/><circle cx="262.2" cy="231.66" r="1.2"/><circle cx="267.69" cy="228.79" r="1.2"/><circle cx="260.88" cy="233.15" r="1.2"/><circle cx="259.25" cy="238.15" r="1.2"/><circle cx="270.16" cy="208.73" r="1.2"/><circle cx="263.63" cy="199.3" r="1.2"/><circle cx="268.97" cy="229.18" r="1.2"/><circle cx="266.15" cy="240.88" r="1.2"/><circle cx="267.83" cy="244.44" r="1.2"/><circle cx="264.47" cy="253.17" r="1.2"/><circle cx="260.77" cy="226.09" r="1.2"/><circle cx="269.18" cy="241.29" r="1.2"/><circle cx="260.48" cy="225.89" r="1.2"/><circle cx="262.09" cy="242.89" r="1.2"/><circle cx="267.98" cy="222.13" r="1.2"/><circle cx="268.18" cy="225.75" r="1.2"/><circle cx="268.87" cy="223.59" r="1.2"/><circle cx="270.33" cy="238.49" r="1.2"/><circle cx="268.74" cy="242.07" r="1.2"/><circle cx="262.33" cy="215.24" r="1.2"/><circle cx="260.16" cy="221.76" r="1.2"/><circle cx="270.27" cy="241.38" r="1.2"/><circle cx="270.39" cy="224.52" r="1.2"/><circle cx="259.33" cy="241.47" r="1.2"/><circle cx="264.09" cy="219.44" r="1.2"/><circle cx="269.56" cy="230.5" r="1.2"/><circle cx="262.73" cy="223.92" r="1.2"/><circle cx="263.06" cy="225.53" r="1.2"/><circle cx="268.88" cy="221.94" r="1.2"/><circle cx="267.8" cy="221.61" r="1.2"/><circle cx="263.34" cy="246.18" r="1.2"/><circle cx="262.34" cy="234.63" r="1.2"/><circle cx="265.75" cy="238.94" r="1.2"/><circle cx="266.76" cy="235.73" r="1.2"/><circle cx="260.78" cy="217.65" r="1.2"/><circle cx="265.73" cy="223.47" r="1.2"/><circle cx="268.49" cy="219.07" r="1.2"/><circle cx="264.16" cy="229.16" r="1.2"/><circle cx="265.02" cy="223.49" r="1.2"/><circle cx="269.36" cy="219.74" r="1.2"/><circle cx="268.8" cy="238.31" r="1.2"/><circle cx="264.23" cy="234.2" r="1.2"/><circle cx="262.58" cy="220.09" r="1.2"/><circle cx="260.66" cy="220.06" r="1.2"/><circle cx="267.35" cy="235.28" r="1.2"/><circle cx="268.54" cy="221.63" r="1.2"/><circle cx="261.84" cy="229.42" r="1.2"/><circle cx="265.36" cy="223.24" r="1.2"/><circle cx="263.08" cy="242.2" r="1.2"/><circle cx="269.53" cy="235.4" r="1.2"/><circle cx="266.53" cy="232.08" r="1.2"/><circle cx="269.53" cy="233.71" r="1.2"/><circle cx="262.61" cy="212.29" r="1.2"/><circle cx="262.4" cy="217.69" r="1.2"/><circle cx="264.14" cy="212.31" r="1.2"/><circle cx="267.58" cy="233.83" r="1.2"/><circle cx="261.11" cy="242.42" r="1.2"/><circle cx="270.4" cy="231.78" r="1.2"/><circle cx="268.71" cy="244.09" r="1.2"/><circle cx="267.23" cy="264" r="1.2"/><circle cx="268.52" cy="219.25" r="1.2"/><circle cx="266.26" cy="235.18" r="1.2"/><circle cx="266.32" cy="244.66" r="1.2"/><circle cx="266.42" cy="224.76" r="1.2"/><circle cx="267.92" cy="233.85" r="1.2"/><circle cx="265.88" cy="239.65" r="1.2"/><circle cx="265.52" cy="232.51" r="1.2"/><circle cx="263.46" cy="238.4" r="1.2"/><circle cx="263.86" cy="232.52" r="1.2"/><circle cx="268.87" cy="236.62" r="1.2"/><circle cx="260.51" cy="215.49" r="1.2"/><circle cx="266.77" cy="221.93" r="1.2"/><circle cx="270.32" cy="231.69" r="1.2"/><circle cx="263.2" cy="227.9" r="1.2"/><circle cx="263.56" cy="232.6" r="1.2"/><circle cx="270.57" cy="239.62" r="1.2"/><circle cx="259.39" cy="235.75" r="1.2"/><circle cx="263.88" cy="227.31" r="1.2"/><circle cx="266.95" cy="228.51" r="1.2"/><circle cx="259.89" cy="226.42" r="1.2"/><circle cx="263.4" cy="244.18" r="1.2"/></g>
<line x1="295.32" x2="295.32" y1="202.1" y2="223.3" stroke="#000" stroke-width="1.7"/>
<line x1="295.32" x2="295.32" y1="238" y2="251" stroke="#000" stroke-width="1.7"/>
<rect x="283.62" y="223.3" width="23.4" height="14.7" fill="#fff" stroke="#000" stroke-width="1.7"/>
<line x1="283.62" x2="307.02" y1="230.8" y2="230.8" stroke="#000" stroke-width="2.8"/>
<g fill="#FDE725"><circle cx="299.52" cy="243.96" r="1.2"/><circle cx="294.79" cy="232.01" r="1.2"/><circle cx="297.91" cy="215.96" r="1.2"/><circle cx="297.19" cy="238.32" r="1.2"/><circle cx="297.56" cy="206.1" r="1.2"/><circle cx="291.25" cy="226.92" r="1.2"/><circle cx="300" cy="239.57" r="1.2"/><circle cx="289.65" cy="223.59" r="1.2"/><circle cx="292.3" cy="220.46" r="1.2"/><circle cx="297.57" cy="224.65" r="1.2"/><circle cx="299.95" cy="235.69" r="1.2"/><circle cx="297.12" cy="237.48" r="1.2"/><circle cx="298.56" cy="231.21" r="1.2"/><circle cx="297.61" cy="238.73" r="1.2"/><circle cx="301.09" cy="219.68" r="1.2"/><circle cx="295.35" cy="242.64" r="1.2"/><circle cx="297.1" cy="241.69" r="1.2"/><circle cx="297.66" cy="239.06" r="1.2"/><circle cx="299.22" cy="244.24" r="1.2"/><circle cx="296.6" cy="241.26" r="1.2"/><circle cx="298.11" cy="231.57" r="1.2"/><circle cx="290.58" cy="233.99" r="1.2"/><circle cx="298.91" cy="224.7" r="1.2"/><circle cx="297.49" cy="242.91" r="1.2"/><circle cx="292.35" cy="213" r="1.2"/><circle cx="291.09" cy="234.76" r="1.2"/><circle cx="289.41" cy="240.01" r="1.2"/><circle cx="293.66" cy="237.57" r="1.2"/><circle cx="294.62" cy="215.97" r="1.2"/><circle cx="293.73" cy="224.25" r="1.2"/><circle cx="300.31" cy="222.31" r="1.2"/><circle cx="293.21" cy="223.9" r="1.2"/><circle cx="298.47" cy="237.54" r="1.2"/><circle cx="301.06" cy="227.04" r="1.2"/><circle cx="301.25" cy="220.18" r="1.2"/><circle cx="289.97" cy="235.15" r="1.2"/><circle cx="290.12" cy="226.85" r="1.2"/><circle cx="291.02" cy="241.71" r="1.2"/><circle cx="298.36" cy="221.91" r="1.2"/><circle cx="293.26" cy="217.43" r="1.2"/><circle cx="299.99" cy="221.28" r="1.2"/><circle cx="300.63" cy="237.93" r="1.2"/><circle cx="295.56" cy="221.26" r="1.2"/><circle cx="300.5" cy="239.26" r="1.2"/><circle cx="297.61" cy="249.7" r="1.2"/><circle cx="297.04" cy="249.73" r="1.2"/><circle cx="295.78" cy="246.75" r="1.2"/><circle cx="297.12" cy="232.42" r="1.2"/><circle cx="290.39" cy="224.52" r="1.2"/><circle cx="300.89" cy="221.33" r="1.2"/><circle cx="296.41" cy="248.5" r="1.2"/><circle cx="292.6" cy="250.94" r="1.2"/><circle cx="292.77" cy="226.53" r="1.2"/><circle cx="299.36" cy="221.65" r="1.2"/><circle cx="295.7" cy="216.17" r="1.2"/><circle cx="299.51" cy="247.16" r="1.2"/><circle cx="290.64" cy="209.37" r="1.2"/><circle cx="300.27" cy="215.77" r="1.2"/><circle cx="295.24" cy="244.25" r="1.2"/><circle cx="292.96" cy="225.85" r="1.2"/><circle cx="301.19" cy="228.01" r="1.2"/><circle cx="294.49" cy="229.02" r="1.2"/><circle cx="293.08" cy="228.23" r="1.2"/><circle cx="299.36" cy="234.09" r="1.2"/><circle cx="290.67" cy="223.05" r="1.2"/><circle cx="290.09" cy="214.36" r="1.2"/><circle cx="298.47" cy="228.4" r="1.2"/><circle cx="300.93" cy="225.82" r="1.2"/><circle cx="289.35" cy="235.51" r="1.2"/><circle cx="291.27" cy="230.46" r="1.2"/><circle cx="289.48" cy="231.56" r="1.2"/><circle cx="297.92" cy="231.44" r="1.2"/><circle cx="301.04" cy="223.38" r="1.2"/><circle cx="289.57" cy="229.85" r="1.2"/><circle cx="294.21" cy="247.98" r="1.2"/><circle cx="300.95" cy="209.35" r="1.2"/><circle cx="289.49" cy="215.23" r="1.2"/><circle cx="300.91" cy="228.4" r="1.2"/><circle cx="298.76" cy="218.4" r="1.2"/><circle cx="292.4" cy="227" r="1.2"/><circle cx="299.5" cy="239.57" r="1.2"/><circle cx="291.83" cy="244.87" r="1.2"/><circle cx="295.87" cy="212.69" r="1.2"/><circle cx="290.25" cy="232.02" r="1.2"/><circle cx="291.48" cy="239.43" r="1.2"/><circle cx="289.61" cy="230.35" r="1.2"/><circle cx="298.85" cy="238.22" r="1.2"/><circle cx="292.43" cy="208.78" r="1.2"/><circle cx="297.6" cy="233.5" r="1.2"/><circle cx="290.68" cy="240.77" r="1.2"/><circle cx="292.81" cy="233.42" r="1.2"/><circle cx="299.27" cy="232.45" r="1.2"/><circle cx="298.62" cy="226.83" r="1.2"/><circle cx="297.8" cy="224.64" r="1.2"/><circle cx="290.22" cy="248.98" r="1.2"/><circle cx="298.55" cy="202.34" r="1.2"/><circle cx="295.86" cy="240.17" r="1.2"/><circle cx="298.08" cy="224.34" r="1.2"/><circle cx="295.46" cy="228.31" r="1.2"/><circle cx="290.54" cy="218.61" r="1.2"/><circle cx="295.99" cy="246.44" r="1.2"/><circle cx="300.28" cy="231.59" r="1.2"/><circle cx="294.47" cy="224.93" r="1.2"/><circle cx="290.45" cy="233.94" r="1.2"/><circle cx="293.5" cy="232.5" r="1.2"/><circle cx="298.27" cy="233.72" r="1.2"/><circle cx="292.61" cy="231.77" r="1.2"/><circle cx="293.55" cy="215.18" r="1.2"/><circle cx="296.5" cy="216.61" r="1.2"/><circle cx="296.49" cy="214.33" r="1.2"/><circle cx="300.57" cy="224.17" r="1.2"/><circle cx="296.45" cy="225.52" r="1.2"/><circle cx="289.69" cy="220.54" r="1.2"/><circle cx="294.08" cy="236.94" r="1.2"/><circle cx="300.31" cy="211.16" r="1.2"/><circle cx="299.06" cy="239.87" r="1.2"/><circle cx="290.45" cy="224.24" r="1.2"/><circle cx="291.43" cy="247.16" r="1.2"/><circle cx="292.95" cy="227.1" r="1.2"/><circle cx="294.63" cy="220.96" r="1.2"/><circle cx="294.57" cy="238.39" r="1.2"/><circle cx="292.32" cy="249.1" r="1.2"/><circle cx="293.72" cy="239.79" r="1.2"/><circle cx="298.26" cy="223.78" r="1.2"/><circle cx="296.76" cy="232.03" r="1.2"/><circle cx="300.2" cy="225.22" r="1.2"/><circle cx="299.17" cy="231.39" r="1.2"/><circle cx="297.63" cy="234.76" r="1.2"/><circle cx="290.59" cy="238.82" r="1.2"/><circle cx="292.92" cy="207.84" r="1.2"/><circle cx="294.27" cy="217.22" r="1.2"/><circle cx="300.37" cy="227.27" r="1.2"/><circle cx="296.65" cy="244.08" r="1.2"/><circle cx="291.8" cy="229.11" r="1.2"/><circle cx="298.88" cy="204.69" r="1.2"/><circle cx="296.84" cy="243.02" r="1.2"/><circle cx="299.54" cy="206.29" r="1.2"/><circle cx="294.21" cy="244.35" r="1.2"/><circle cx="298.35" cy="221.98" r="1.2"/><circle cx="292.09" cy="246.48" r="1.2"/><circle cx="292.44" cy="242.25" r="1.2"/><circle cx="294.81" cy="224.85" r="1.2"/><circle cx="291.87" cy="238.35" r="1.2"/><circle cx="298.54" cy="204.28" r="1.2"/><circle cx="295.69" cy="224.74" r="1.2"/><circle cx="295.77" cy="231.97" r="1.2"/><circle cx="297.17" cy="242.63" r="1.2"/><circle cx="299.86" cy="230.58" r="1.2"/><circle cx="290.78" cy="239.91" r="1.2"/><circle cx="289.4" cy="236.22" r="1.2"/></g>
<line x1="38.68" x2="38.68" y1="331.8" y2="350.3" stroke="#000" stroke-width="1.7"/>
<line x1="38.68" x2="38.68" y1="365.7" y2="385.6" stroke="#000" stroke-width="1.7"/>
<rect x="26.98" y="350.3" width="23.4" height="15.4" fill="#fff" stroke="#000" stroke-width="1.7"/>
<line x1="26.98" x2="50.38" y1="357.5" y2="357.5" stroke="#000" stroke-width="2.8"/>
<g fill="#21908C"><circle cx="33.27" cy="352.74" r="1.2"/><circle cx="40.63" cy="368.05" r="1.2"/><circle cx="35.33" cy="357.16" r="1.2"/><circle cx="34.12" cy="339" r="1.2"/><circle cx="43.99" cy="385.4" r="1.2"/><circle cx="40.98" cy="353.15" r="1.2"/><circle cx="41.22" cy="357.74" r="1.2"/><circle cx="39.1" cy="355.25" r="1.2"/><circle cx="35.86" cy="340.11" r="1.2"/><circle cx="37.3" cy="344.6" r="1.2"/><circle cx="32.73" cy="358.2" r="1.2"/><circle cx="32.91" cy="354.2" r="1.2"/><circle cx="43.86" cy="352.57" r="1.2"/><circle cx="38.43" cy="362.41" r="1.2"/><circle cx="35.75" cy="343.72" r="1.2"/><circle cx="41.04" cy="365.4" r="1.2"/><circle cx="42.61" cy="352.14" r="1.2"/><circle cx="37.04" cy="359.62" r="1.2"/><circle cx="39.67" cy="368.63" r="1.2"/><circle cx="35.78" cy="345.45" r="1.2"/><circle cx="34.31" cy="361.82" r="1.2"/><circle cx="38.85" cy="348.53" r="1.2"/><circle cx="35.46" cy="364.99" r="1.2"/><circle cx="36.5" cy="371.33" r="1.2"/><circle cx="33.62" cy="358.06" r="1.2"/><circle cx="42.68" cy="392" r="1.2"/><circle cx="36.78" cy="396.7" r="1.2"/><circle cx="38.46" cy="356.51" r="1.2"/><circle cx="35.34" cy="349.72" r="1.2"/><circle cx="34.47" cy="358.83" r="1.2"/><circle cx="40.64" cy="360.34" r="1.2"/><circle cx="35.78" cy="352.84" r="1.2"/><circle cx="41.38" cy="346.49" r="1.2"/><circle cx="33.52" cy="343.81" r="1.2"/><circle cx="37.93" cy="358.41" r="1.2"/><circle cx="41.99" cy="360.29" r="1.2"/><circle cx="41.37" cy="353.29" r="1.2"/><circle cx="39.72" cy="360.3" r="1.2"/><circle cx="41.93" cy="331.88" r="1.2"/><circle cx="34.5" cy="358.25" r="1.2"/><circle cx="34.57" cy="343.97" r="1.2"/><circle cx="40.99" cy="355.31" r="1.2"/><circle cx="41.88" cy="348.38" r="1.2"/><circle cx="33.35" cy="350.59" r="1.2"/><circle cx="42.33" cy="345.96" r="1.2"/><circle cx="33.78" cy="347.4" r="1.2"/><circle cx="32.74" cy="384.71" r="1.2"/><circle cx="33.98" cy="364.24" r="1.2"/><circle cx="33.3" cy="370.79" r="1.2"/><circle cx="36.47" cy="352.59" r="1.2"/><circle cx="39.99" cy="354.12" r="1.2"/><circle cx="41.43" cy="351.54" r="1.2"/><circle cx="43.5" cy="348.48" r="1.2"/><circle cx="44.19" cy="366.22" r="1.2"/><circle cx="37.69" cy="360.36" r="1.2"/><circle cx="37.56" cy="371.8" r="1.2"/><circle cx="33.52" cy="352.53" r="1.2"/><circle cx="41.18" cy="353.05" r="1.2"/><circle cx="34.05" cy="367.04" r="1.2"/><circle cx="33.75" cy="358.36" r="1.2"/><circle cx="35.84" cy="358.9" r="1.2"/><circle cx="34.94" cy="371.75" r="1.2"/><circle cx="33.98" cy="413.8" r="1.2"/><circle cx="39.9" cy="367.01" r="1.2"/><circle cx="33.11" cy="353.01" r="1.2"/><circle cx="39.61" cy="353.3" r="1.2"/><circle cx="38.95" cy="338.66" r="1.2"/><circle cx="34.98" cy="344.5" r="1.2"/><circle cx="42.25" cy="369.22" r="1.2"/><circle cx="36.42" cy="338.51" r="1.2"/><circle cx="42.21" cy="361.65" r="1.2"/><circle cx="41.03" cy="366.36" r="1.2"/><circle cx="42.71" cy="340.38" r="1.2"/><circle cx="34.99" cy="372.8" r="1.2"/><circle cx="42.31" cy="355.19" r="1.2"/><circle cx="39.75" cy="370.61" r="1.2"/><circle cx="37.73" cy="334.56" r="1.2"/><circle cx="35.05" cy="368.62" r="1.2"/><circle cx="35.4" cy="355.61" r="1.2"/><circle cx="42.18" cy="355.84" r="1.2"/><circle cx="41.34" cy="375.14" r="1.2"/><circle cx="40.17" cy="354.59" r="1.2"/><circle cx="38.22" cy="353.46" r="1.2"/><circle cx="37.33" cy="366.38" r="1.2"/><circle cx="41.88" cy="366.61" r="1.2"/><circle cx="44.32" cy="367.65" r="1.2"/><circle cx="33.69" cy="361.41" r="1.2"/><circle cx="41.39" cy="340.95" r="1.2"/><circle cx="41.68" cy="403.6" r="1.2"/><circle cx="44.28" cy="343.65" r="1.2"/><circle cx="42.54" cy="374.42" r="1.2"/><circle cx="34.63" cy="369.49" r="1.2"/><circle cx="35.14" cy="343.89" r="1.2"/><circle cx="39.67" cy="383.13" r="1.2"/><circle cx="40.29" cy="364.26" r="1.2"/><circle cx="35.71" cy="361.87" r="1.2"/><circle cx="34.79" cy="350.62" r="1.2"/><circle cx="40.79" cy="357.53" r="1.2"/><circle cx="43.83" cy="338.78" r="1.2"/><circle cx="33.34" cy="381.77" r="1.2"/><circle cx="43.18" cy="359.37" r="1.2"/><circle cx="34.61" cy="354.66" r="1.2"/><circle cx="44.53" cy="331.86" r="1.2"/><circle cx="35.44" cy="357.19" r="1.2"/><circle cx="34.34" cy="342.87" r="1.2"/><circle cx="36.52" cy="363.13" r="1.2"/><circle cx="36.17" cy="371.99" r="1.2"/><circle cx="37.76" cy="359.95" r="1.2"/><circle cx="43.9" cy="347.15" r="1.2"/><circle cx="38.4" cy="366.78" r="1.2"/><circle cx="42.88" cy="379.39" r="1.2"/><circle cx="38.94" cy="366.37" r="1.2"/><circle cx="36.71" cy="366.63" r="1.2"/><circle cx="40.06" cy="355.17" r="1.2"/><circle cx="35.43" cy="366.31" r="1.2"/><circle cx="38.58" cy="366.07" r="1.2"/><circle cx="40.36" cy="365.94" r="1.2"/><circle cx="40.39" cy="350.62" r="1.2"/><circle cx="34.76" cy="340.11" r="1.2"/><circle cx="40.7" cy="353" r="1.2"/><circle cx="39.46" cy="377.31" r="1.2"/><circle cx="43.21" cy="351.62" r="1.2"/><circle cx="36.78" cy="370.76" r="1.2"/><circle cx="39.03" cy="367.42" r="1.2"/><circle cx="42.18" cy="339.18" r="1.2"/><circle cx="39.08" cy="356.71" r="1.2"/><circle cx="41.23" cy="385.54" r="1.2"/><circle cx="34.53" cy="356.91" r="1.2"/><circle cx="33.96" cy="338.61" r="1.2"/><circle cx="44.48" cy="331.8" r="1.2"/><circle cx="35.04" cy="368.55" r="1.2"/><circle cx="33.05" cy="348.24" r="1.2"/><circle cx="35.95" cy="360.52" r="1.2"/><circle cx="40.3" cy="346.1" r="1.2"/><circle cx="38.76" cy="349.05" r="1.2"/><circle cx="35.81" cy="374.91" r="1.2"/><circle cx="33.8" cy="340.72" r="1.2"/><circle cx="44.23" cy="370.36" r="1.2"/><circle cx="41.29" cy="376.72" r="1.2"/><circle cx="36.95" cy="357.11" r="1.2"/><circle cx="36.4" cy="356.86" r="1.2"/><circle cx="37.12" cy="353.35" r="1.2"/><circle cx="35.06" cy="368.1" r="1.2"/><circle cx="38.48" cy="350.79" r="1.2"/><circle cx="41.14" cy="381.44" r="1.2"/><circle cx="32.86" cy="350.34" r="1.2"/><circle cx="39.41" cy="370.14" r="1.2"/><circle cx="41.14" cy="361.61" r="1.2"/><circle cx="41.28" cy="365.48" r="1.2"/><circle cx="36.29" cy="354.85" r="1.2"/><circle cx="32.89" cy="366.32" r="1.2"/><circle cx="33.81" cy="358.95" r="1.2"/><circle cx="41.94" cy="368.56" r="1.2"/><circle cx="41.28" cy="339.07" r="1.2"/><circle cx="35.57" cy="337.89" r="1.2"/></g>
<line x1="69.17" x2="69.17" y1="330.9" y2="347.8" stroke="#000" stroke-width="1.7"/>
<line x1="69.17" x2="69.17" y1="371.8" y2="396.7" stroke="#000" stroke-width="1.7"/>
<rect x="57.47" y="347.8" width="23.4" height="24" fill="#fff" stroke="#000" stroke-width="1.7"/>
<line x1="57.47" x2="80.87" y1="360.2" y2="360.2" stroke="#000" stroke-width="2.8"/>
<g fill="#FDE725"><circle cx="67.45" cy="360.58" r="1.2"/><circle cx="64.66" cy="377.02" r="1.2"/><circle cx="71.42" cy="353.68" r="1.2"/><circle cx="65.77" cy="348.51" r="1.2"/><circle cx="70.3" cy="361.86" r="1.2"/><circle cx="65.77" cy="368.31" r="1.2"/><circle cx="71.74" cy="393.74" r="1.2"/><circle cx="65.73" cy="340.35" r="1.2"/><circle cx="69.03" cy="369.67" r="1.2"/><circle cx="65.97" cy="356.64" r="1.2"/><circle cx="71.83" cy="340.07" r="1.2"/><circle cx="68.26" cy="379.49" r="1.2"/><circle cx="63.19" cy="359.5" r="1.2"/><circle cx="73.98" cy="337.98" r="1.2"/><circle cx="66.89" cy="339.38" r="1.2"/><circle cx="69.3" cy="375.69" r="1.2"/><circle cx="73.03" cy="373.07" r="1.2"/><circle cx="70.71" cy="367.06" r="1.2"/><circle cx="65.75" cy="354.82" r="1.2"/><circle cx="70.79" cy="355.31" r="1.2"/><circle cx="65.02" cy="388.07" r="1.2"/><circle cx="65.27" cy="358.23" r="1.2"/><circle cx="72.56" cy="337.05" r="1.2"/><circle cx="66.49" cy="330.92" r="1.2"/><circle cx="68.72" cy="357.03" r="1.2"/><circle cx="73.94" cy="345.12" r="1.2"/><circle cx="64.8" cy="365.54" r="1.2"/><circle cx="73.59" cy="382.09" r="1.2"/><circle cx="71.83" cy="384.72" r="1.2"/><circle cx="63.53" cy="361.21" r="1.2"/><circle cx="72.8" cy="366.72" r="1.2"/><circle cx="69.68" cy="377.46" r="1.2"/><circle cx="65.9" cy="367.9" r="1.2"/><circle cx="68.43" cy="368.67" r="1.2"/><circle cx="72.45" cy="348.43" r="1.2"/><circle cx="75.13" cy="363.81" r="1.2"/><circle cx="65.23" cy="331.28" r="1.2"/><circle cx="64.49" cy="352.88" r="1.2"/><circle cx="68.07" cy="353.76" r="1.2"/><circle cx="74.88" cy="352.68" r="1.2"/><circle cx="73.38" cy="336.32" r="1.2"/><circle cx="69.23" cy="380.55" r="1.2"/><circle cx="65.76" cy="356.99" r="1.2"/><circle cx="73.2" cy="394.32" r="1.2"/><circle cx="73.64" cy="333.39" r="1.2"/><circle cx="65.01" cy="353.61" r="1.2"/><circle cx="73.6" cy="348.09" r="1.2"/><circle cx="68.4" cy="347.67" r="1.2"/><circle cx="68.51" cy="365.54" r="1.2"/><circle cx="68.15" cy="387.26" r="1.2"/><circle cx="73.6" cy="359.48" r="1.2"/><circle cx="66.72" cy="396.44" r="1.2"/><circle cx="65.95" cy="374.16" r="1.2"/><circle cx="67.01" cy="366.06" r="1.2"/><circle cx="70.27" cy="357" r="1.2"/><circle cx="68.72" cy="360.29" r="1.2"/><circle cx="68.84" cy="396.68" r="1.2"/><circle cx="70.24" cy="336.64" r="1.2"/><circle cx="69.63" cy="385.78" r="1.2"/><circle cx="69.88" cy="355.36" r="1.2"/><circle cx="65.15" cy="355.55" r="1.2"/><circle cx="71.72" cy="365.91" r="1.2"/><circle cx="70.42" cy="337.94" r="1.2"/><circle cx="74.01" cy="335.03" r="1.2"/><circle cx="68.18" cy="353.15" r="1.2"/><circle cx="63.82" cy="342" r="1.2"/><circle cx="73.25" cy="338.69" r="1.2"/><circle cx="64.88" cy="342.54" r="1.2"/><circle cx="65.95" cy="362.53" r="1.2"/><circle cx="72.39" cy="381.04" r="1.2"/></g>
<line x1="113.83" x2="113.83" y1="332.6" y2="349.2" stroke="#000" stroke-width="1.7"/>
<line x1="113.83" x2="113.83" y1="367.1" y2="389.8" stroke="#000" stroke-width="1.7"/>
<rect x="102.13" y="349.2" width="23.4" height="17.9" fill="#fff" stroke="#000" stroke-width="1.7"/>
<line x1="102.13" x2="125.53" y1="357.5" y2="357.5" stroke="#000" stroke-width="2.8"/>
<g fill="#21908C"><circle cx="117.16" cy="370.48" r="1.2"/><circle cx="116.6" cy="367.89" r="1.2"/><circle cx="112.35" cy="379.92" r="1.2"/><circle cx="111.63" cy="368.11" r="1.2"/><circle cx="118.87" cy="356.57" r="1.2"/><circle cx="118.81" cy="358.32" r="1.2"/><circle cx="118.68" cy="349.83" r="1.2"/><circle cx="117.34" cy="350.32" r="1.2"/><circle cx="117.29" cy="340.98" r="1.2"/><circle cx="109.73" cy="349.28" r="1.2"/><circle cx="111.17" cy="349.69" r="1.2"/><circle cx="118.91" cy="343.47" r="1.2"/><circle cx="116.92" cy="332.99" r="1.2"/><circle cx="118.14" cy="353.12" r="1.2"/><circle cx="109.62" cy="382.74" r="1.2"/><circle cx="112.65" cy="363.49" r="1.2"/><circle cx="108.83" cy="320.7" r="1.2"/><circle cx="115.62" cy="333.46" r="1.2"/><circle cx="112.95" cy="359.66" r="1.2"/><circle cx="118.19" cy="354.35" r="1.2"/><circle cx="115.16" cy="369.84" r="1.2"/><circle cx="117.69" cy="337.62" r="1.2"/><circle cx="112.74" cy="386.23" r="1.2"/><circle cx="117.41" cy="365.97" r="1.2"/><circle cx="118.98" cy="346.9" r="1.2"/><circle cx="110.91" cy="366.95" r="1.2"/><circle cx="111.06" cy="366.49" r="1.2"/><circle cx="117.26" cy="362.49" r="1.2"/><circle cx="119.3" cy="379.69" r="1.2"/><circle cx="109.07" cy="354.09" r="1.2"/><circle cx="116.96" cy="380.13" r="1.2"/><circle cx="115.68" cy="362.95" r="1.2"/><circle cx="119.81" cy="383.56" r="1.2"/><circle cx="108.83" cy="349.06" r="1.2"/><circle cx="118.12" cy="344.28" r="1.2"/><circle cx="113.76" cy="370.8" r="1.2"/><circle cx="115.86" cy="346.17" r="1.2"/><circle cx="114.69" cy="347.54" r="1.2"/><circle cx="116.49" cy="370.53" r="1.2"/><circle cx="119.03" cy="374.78" r="1.2"/><circle cx="116.93" cy="359.23" r="1.2"/><circle cx="116.92" cy="339.78" r="1.2"/><circle cx="114.87" cy="350.75" r="1.2"/><circle cx="111.15" cy="352" r="1.2"/><circle cx="107.89" cy="362.2" r="1.2"/><circle cx="118.99" cy="354.48" r="1.2"/><circle cx="117.46" cy="361.56" r="1.2"/><circle cx="113.31" cy="342.96" r="1.2"/><circle cx="118.29" cy="362.58" r="1.2"/><circle cx="115.21" cy="372.44" r="1.2"/><circle cx="119.23" cy="389.68" r="1.2"/><circle cx="118.72" cy="386.22" r="1.2"/><circle cx="113.51" cy="332.88" r="1.2"/><circle cx="117.53" cy="355.15" r="1.2"/><circle cx="116.09" cy="340.05" r="1.2"/><circle cx="111.13" cy="376.31" r="1.2"/><circle cx="119.72" cy="355.93" r="1.2"/><circle cx="112.8" cy="363.67" r="1.2"/><circle cx="114.56" cy="363.66" r="1.2"/><circle cx="112.28" cy="379.76" r="1.2"/><circle cx="116.55" cy="361.44" r="1.2"/><circle cx="108.88" cy="371.54" r="1.2"/><circle cx="109.2" cy="334.44" r="1.2"/><circle cx="114.01" cy="340.77" r="1.2"/><circle cx="107.9" cy="356.3" r="1.2"/><circle cx="109.54" cy="361.58" r="1.2"/><circle cx="109" cy="350.84" r="1.2"/><circle cx="113.13" cy="359.85" r="1.2"/><circle cx="109.93" cy="354.09" r="1.2"/><circle cx="110.41" cy="372.12" r="1.2"/><circle cx="110.98" cy="359.86" r="1.2"/><circle cx="111.65" cy="376.62" r="1.2"/><circle cx="112.96" cy="353.41" r="1.2"/><circle cx="114.71" cy="373.93" r="1.2"/><circle cx="116.57" cy="351.4" r="1.2"/><circle cx="119.15" cy="351.72" r="1.2"/><circle cx="116.12" cy="366.63" r="1.2"/><circle cx="113.7" cy="361.63" r="1.2"/><circle cx="119.35" cy="369.83" r="1.2"/><circle cx="112.43" cy="347.75" r="1.2"/><circle cx="114.67" cy="371.64" r="1.2"/></g>
<line x1="144.32" x2="144.32" y1="339.5" y2="351.1" stroke="#000" stroke-width="1.7"/>
<line x1="144.32" x2="144.32" y1="367.1" y2="385.1" stroke="#000" stroke-width="1.7"/>
<rect x="132.62" y="351.1" width="23.4" height="16" fill="#fff" stroke="#000" stroke-width="1.7"/>
<line x1="132.62" x2="156.02" y1="359.4" y2="359.4" stroke="#000" stroke-width="2.8"/>
<g fill="#FDE725"><circle cx="149.15" cy="358.06" r="1.2"/><circle cx="138.91" cy="372.59" r="1.2"/><circle cx="138.34" cy="368.82" r="1.2"/><circle cx="146.35" cy="371.72" r="1.2"/><circle cx="149.44" cy="362.74" r="1.2"/><circle cx="138.42" cy="363.42" r="1.2"/><circle cx="149.95" cy="355.33" r="1.2"/><circle cx="141.92" cy="371.88" r="1.2"/><circle cx="143.44" cy="365.91" r="1.2"/><circle cx="141.25" cy="359.6" r="1.2"/><circle cx="146.53" cy="356.84" r="1.2"/><circle cx="142.07" cy="357.45" r="1.2"/><circle cx="139.74" cy="344.56" r="1.2"/><circle cx="140.79" cy="356.62" r="1.2"/><circle cx="145.58" cy="370.39" r="1.2"/><circle cx="138.32" cy="383" r="1.2"/><circle cx="146.46" cy="364.94" r="1.2"/><circle cx="148.36" cy="363.26" r="1.2"/><circle cx="144.41" cy="370.65" r="1.2"/><circle cx="150.22" cy="357.93" r="1.2"/><circle cx="148.21" cy="339.7" r="1.2"/><circle cx="144.96" cy="350.63" r="1.2"/><circle cx="145.14" cy="353.46" r="1.2"/><circle cx="145.39" cy="384.84" r="1.2"/><circle cx="149.95" cy="360.25" r="1.2"/><circle cx="138.44" cy="357.73" r="1.2"/><circle cx="143.31" cy="355.19" r="1.2"/><circle cx="149.99" cy="366.47" r="1.2"/><circle cx="139.09" cy="363.26" r="1.2"/><circle cx="146.88" cy="381.1" r="1.2"/><circle cx="142.64" cy="362.14" r="1.2"/></g>
<line x1="189.23" x2="189.23" y1="323.5" y2="346.4" stroke="#000" stroke-width="1.7"/>
<line x1="189.23" x2="189.23" y1="369.1" y2="400.8" stroke="#000" stroke-width="1.7"/>
<rect x="177.53" y="346.4" width="23.4" height="22.7" fill="#fff" stroke="#000" stroke-width="1.7"/>
<line x1="177.53" x2="200.93" y1="358" y2="358" stroke="#000" stroke-width="2.8"/>
<g fill="#21908C"><circle cx="191.17" cy="356.12" r="1.2"/><circle cx="185.23" cy="409.9" r="1.2"/><circle cx="184.29" cy="342" r="1.2"/><circle cx="191.49" cy="350.43" r="1.2"/><circle cx="185.11" cy="335.95" r="1.2"/><circle cx="184.08" cy="357.87" r="1.2"/><circle cx="189.26" cy="380.89" r="1.2"/><circle cx="186.43" cy="362.7" r="1.2"/><circle cx="184.33" cy="393.66" r="1.2"/><circle cx="189.31" cy="374.49" r="1.2"/><circle cx="184.76" cy="400.53" r="1.2"/><circle cx="185.22" cy="351.21" r="1.2"/><circle cx="191.01" cy="363.94" r="1.2"/><circle cx="195.16" cy="379.81" r="1.2"/><circle cx="191.27" cy="355.38" r="1.2"/><circle cx="185.61" cy="369.52" r="1.2"/><circle cx="188.04" cy="370.58" r="1.2"/><circle cx="195.12" cy="353.46" r="1.2"/><circle cx="191.28" cy="364.99" r="1.2"/><circle cx="192.14" cy="343.47" r="1.2"/><circle cx="188.4" cy="341.27" r="1.2"/><circle cx="184.93" cy="366.38" r="1.2"/><circle cx="185.9" cy="345.57" r="1.2"/><circle cx="183.27" cy="361.21" r="1.2"/><circle cx="193.01" cy="369.39" r="1.2"/><circle cx="186.74" cy="357.48" r="1.2"/><circle cx="194.44" cy="331.74" r="1.2"/><circle cx="191.83" cy="374.36" r="1.2"/><circle cx="194.27" cy="373.01" r="1.2"/><circle cx="185.56" cy="380.18" r="1.2"/><circle cx="189.04" cy="365.5" r="1.2"/><circle cx="183.93" cy="375.66" r="1.2"/><circle cx="188.38" cy="352.6" r="1.2"/><circle cx="192.93" cy="308.8" r="1.2"/><circle cx="185.1" cy="359.96" r="1.2"/><circle cx="187.25" cy="358.93" r="1.2"/><circle cx="184.43" cy="382.35" r="1.2"/><circle cx="189.09" cy="365.17" r="1.2"/><circle cx="191.48" cy="369.55" r="1.2"/><circle cx="188.01" cy="346.03" r="1.2"/><circle cx="187.26" cy="375.1" r="1.2"/><circle cx="185.9" cy="369.8" r="1.2"/><circle cx="188.43" cy="361.63" r="1.2"/><circle cx="191.46" cy="323.71" r="1.2"/><circle cx="189.36" cy="357.88" r="1.2"/><circle cx="184.7" cy="347.66" r="1.2"/><circle cx="185.25" cy="354.77" r="1.2"/><circle cx="194.06" cy="383.85" r="1.2"/><circle cx="190.73" cy="368.84" r="1.2"/><circle cx="193.4" cy="355.78" r="1.2"/><circle cx="189.18" cy="361.17" r="1.2"/><circle cx="188.91" cy="374.73" r="1.2"/><circle cx="183.78" cy="374.29" r="1.2"/><circle cx="192.94" cy="366.23" r="1.2"/><circle cx="189.75" cy="333.41" r="1.2"/><circle cx="184.46" cy="354.15" r="1.2"/><circle cx="191.27" cy="351.43" r="1.2"/></g>
<line x1="219.72" x2="219.72" y1="319.9" y2="345" stroke="#000" stroke-width="1.7"/>
<line x1="219.72" x2="219.72" y1="371.3" y2="401.7" stroke="#000" stroke-width="1.7"/>
<rect x="208.02" y="345" width="23.4" height="26.3" fill="#fff" stroke="#000" stroke-width="1.7"/>
<line x1="208.02" x2="231.42" y1="358" y2="358" stroke="#000" stroke-width="2.8"/>
<g fill="#FDE725"><circle cx="222.99" cy="371.36" r="1.2"/><circle cx="217.7" cy="369.74" r="1.2"/><circle cx="217.62" cy="349.51" r="1.2"/><circle cx="220.94" cy="341.47" r="1.2"/><circle cx="215.19" cy="366.3" r="1.2"/><circle cx="224.46" cy="366.27" r="1.2"/><circle cx="222.85" cy="367.98" r="1.2"/><circle cx="216.78" cy="340.46" r="1.2"/><circle cx="223.95" cy="356.46" r="1.2"/><circle cx="220.61" cy="394.42" r="1.2"/><circle cx="218.99" cy="353.71" r="1.2"/><circle cx="225.41" cy="357.86" r="1.2"/><circle cx="215.92" cy="357.81" r="1.2"/><circle cx="221.05" cy="350.33" r="1.2"/><circle cx="218.27" cy="373.7" r="1.2"/><circle cx="224.55" cy="364.58" r="1.2"/><circle cx="213.96" cy="372.32" r="1.2"/><circle cx="218.77" cy="373.06" r="1.2"/><circle cx="217.58" cy="323.81" r="1.2"/><circle cx="215.15" cy="357.48" r="1.2"/><circle cx="213.96" cy="358.86" r="1.2"/><circle cx="215.11" cy="401.62" r="1.2"/><circle cx="218.99" cy="368.89" r="1.2"/><circle cx="217.71" cy="365.1" r="1.2"/><circle cx="218.08" cy="358.61" r="1.2"/><circle cx="215.61" cy="362.04" r="1.2"/><circle cx="221.45" cy="322.69" r="1.2"/><circle cx="216.27" cy="382.34" r="1.2"/><circle cx="218.49" cy="362.89" r="1.2"/><circle cx="214.15" cy="356.8" r="1.2"/><circle cx="221.21" cy="345.99" r="1.2"/><circle cx="218.84" cy="343.05" r="1.2"/><circle cx="217.49" cy="369.64" r="1.2"/><circle cx="217.09" cy="349.83" r="1.2"/><circle cx="217.24" cy="349.19" r="1.2"/><circle cx="216.52" cy="388.51" r="1.2"/><circle cx="224.78" cy="375.64" r="1.2"/><circle cx="223.94" cy="343.76" r="1.2"/><circle cx="224.63" cy="369.92" r="1.2"/><circle cx="219.84" cy="372.61" r="1.2"/><circle cx="224.13" cy="357.49" r="1.2"/><circle cx="222.26" cy="358.84" r="1.2"/><circle cx="213.85" cy="360.38" r="1.2"/><circle cx="220.75" cy="365.04" r="1.2"/><circle cx="218.18" cy="365.18" r="1.2"/><circle cx="216.03" cy="357.16" r="1.2"/><circle cx="218.21" cy="330.17" r="1.2"/><circle cx="215.98" cy="374.08" r="1.2"/><circle cx="221.87" cy="344.71" r="1.2"/><circle cx="223.9" cy="364.35" r="1.2"/><circle cx="216.12" cy="351.34" r="1.2"/><circle cx="220.86" cy="347.41" r="1.2"/><circle cx="218.72" cy="345.77" r="1.2"/><circle cx="221.81" cy="342.83" r="1.2"/><circle cx="224.55" cy="364.27" r="1.2"/><circle cx="225.55" cy="320.05" r="1.2"/><circle cx="218.4" cy="346.12" r="1.2"/><circle cx="217.45" cy="342.08" r="1.2"/><circle cx="223.98" cy="348.25" r="1.2"/><circle cx="224.41" cy="347.69" r="1.2"/></g>
<line x1="264.83" x2="264.83" y1="320.7" y2="345.6" stroke="#000" stroke-width="1.7"/>
<line x1="264.83" x2="264.83" y1="366.9" y2="393.9" stroke="#000" stroke-width="1.7"/>
<rect x="253.13" y="345.6" width="23.4" height="21.3" fill="#fff" stroke="#000" stroke-width="1.7"/>
<line x1="253.13" x2="276.53" y1="353.9" y2="353.9" stroke="#000" stroke-width="2.8"/>
<g fill="#21908C"><circle cx="268.52" cy="360.5" r="1.2"/><circle cx="266.9" cy="370.28" r="1.2"/><circle cx="270.2" cy="364.55" r="1.2"/><circle cx="259.65" cy="358.72" r="1.2"/><circle cx="269.62" cy="343.26" r="1.2"/><circle cx="265.2" cy="332.12" r="1.2"/><circle cx="260.9" cy="334.74" r="1.2"/><circle cx="262.46" cy="349.43" r="1.2"/><circle cx="261.15" cy="343.04" r="1.2"/><circle cx="260.54" cy="343.94" r="1.2"/><circle cx="262.59" cy="360.16" r="1.2"/><circle cx="268.77" cy="352.26" r="1.2"/><circle cx="261.14" cy="353.58" r="1.2"/><circle cx="270.78" cy="320.76" r="1.2"/><circle cx="268.92" cy="382.71" r="1.2"/><circle cx="268.45" cy="372.74" r="1.2"/><circle cx="259.98" cy="352.93" r="1.2"/><circle cx="269.7" cy="384.04" r="1.2"/><circle cx="266.95" cy="380.06" r="1.2"/><circle cx="269.51" cy="352.84" r="1.2"/><circle cx="259.41" cy="373.07" r="1.2"/><circle cx="261.3" cy="351.04" r="1.2"/><circle cx="260.08" cy="348.42" r="1.2"/><circle cx="260.05" cy="346.26" r="1.2"/><circle cx="264.94" cy="359.69" r="1.2"/><circle cx="270.78" cy="339.23" r="1.2"/><circle cx="261.74" cy="392.23" r="1.2"/><circle cx="261.9" cy="347.84" r="1.2"/><circle cx="270.6" cy="362.93" r="1.2"/><circle cx="261.54" cy="350.68" r="1.2"/><circle cx="260.77" cy="371.95" r="1.2"/><circle cx="267.83" cy="367.6" r="1.2"/><circle cx="261.51" cy="333.72" r="1.2"/><circle cx="264.07" cy="336.87" r="1.2"/><circle cx="267.49" cy="352.62" r="1.2"/><circle cx="266.68" cy="352.63" r="1.2"/><circle cx="263.55" cy="355.76" r="1.2"/><circle cx="266.58" cy="353.85" r="1.2"/><circle cx="261.2" cy="349.99" r="1.2"/><circle cx="265.59" cy="372.96" r="1.2"/><circle cx="267.09" cy="345.03" r="1.2"/><circle cx="268.58" cy="352.36" r="1.2"/><circle cx="268.51" cy="345.87" r="1.2"/><circle cx="264.26" cy="371.36" r="1.2"/><circle cx="264.69" cy="365.67" r="1.2"/><circle cx="261.61" cy="347.17" r="1.2"/><circle cx="265.07" cy="343.68" r="1.2"/><circle cx="270.66" cy="363.95" r="1.2"/><circle cx="260.29" cy="365.48" r="1.2"/><circle cx="263.42" cy="350.01" r="1.2"/><circle cx="260.21" cy="356.13" r="1.2"/><circle cx="259.78" cy="354.08" r="1.2"/><circle cx="264.44" cy="372.12" r="1.2"/><circle cx="265.87" cy="371.09" r="1.2"/><circle cx="267.92" cy="350.69" r="1.2"/><circle cx="270.03" cy="405" r="1.2"/><circle cx="270.6" cy="348.87" r="1.2"/><circle cx="264.04" cy="387.17" r="1.2"/><circle cx="261.37" cy="363.57" r="1.2"/><circle cx="262.52" cy="341" r="1.2"/><circle cx="267.24" cy="338.25" r="1.2"/><circle cx="265.85" cy="369.79" r="1.2"/><circle cx="259.55" cy="383.96" r="1.2"/><circle cx="260.9" cy="359.96" r="1.2"/><circle cx="263.04" cy="375.46" r="1.2"/><circle cx="266.46" cy="379.16" r="1.2"/><circle cx="262.16" cy="352.48" r="1.2"/><circle cx="265.46" cy="377.14" r="1.2"/><circle cx="265.95" cy="350.2" r="1.2"/><circle cx="268.68" cy="364.77" r="1.2"/><circle cx="270.48" cy="360.77" r="1.2"/><circle cx="265.7" cy="335.22" r="1.2"/><circle cx="269.85" cy="337.72" r="1.2"/><circle cx="266.26" cy="348.43" r="1.2"/><circle cx="269.33" cy="363.7" r="1.2"/><circle cx="269.19" cy="342.35" r="1.2"/><circle cx="260.78" cy="357.54" r="1.2"/><circle cx="265.68" cy="359.41" r="1.2"/><circle cx="266.65" cy="392.55" r="1.2"/><circle cx="262.62" cy="341.49" r="1.2"/><circle cx="262.99" cy="341.99" r="1.2"/><circle cx="260.49" cy="348.35" r="1.2"/><circle cx="261.42" cy="348.78" r="1.2"/><circle cx="269.29" cy="340.06" r="1.2"/><circle cx="266.54" cy="393.61" r="1.2"/><circle cx="260.72" cy="375.95" r="1.2"/><circle cx="267.23" cy="400.8" r="1.2"/><circle cx="262.38" cy="335.42" r="1.2"/><circle cx="264.72" cy="363.24" r="1.2"/><circle cx="269.3" cy="327.44" r="1.2"/><circle cx="262.21" cy="345.15" r="1.2"/><circle cx="259.11" cy="349.68" r="1.2"/><circle cx="270.03" cy="356.82" r="1.2"/><circle cx="268.65" cy="375.32" r="1.2"/><circle cx="260.03" cy="343.51" r="1.2"/><circle cx="267.88" cy="380.11" r="1.2"/><circle cx="260.25" cy="352.58" r="1.2"/><circle cx="269.66" cy="350.76" r="1.2"/><circle cx="269.64" cy="341.26" r="1.2"/><circle cx="268.93" cy="346.85" r="1.2"/><circle cx="264.06" cy="377.41" r="1.2"/><circle cx="261.82" cy="368.75" r="1.2"/><circle cx="259.93" cy="371.21" r="1.2"/><circle cx="268.35" cy="374.93" r="1.2"/><circle cx="268.38" cy="373.36" r="1.2"/><circle cx="262.65" cy="362.87" r="1.2"/><circle cx="258.94" cy="334.83" r="1.2"/><circle cx="269.03" cy="365.49" r="1.2"/><circle cx="260.87" cy="368.64" r="1.2"/><circle cx="261.86" cy="354.21" r="1.2"/><circle cx="261.02" cy="343.26" r="1.2"/><circle cx="264" cy="342.18" r="1.2"/><circle cx="260.02" cy="344.79" r="1.2"/><circle cx="266.56" cy="358.71" r="1.2"/><circle cx="258.83" cy="382.31" r="1.2"/><circle cx="262.39" cy="354.64" r="1.2"/><circle cx="264.16" cy="364.54" r="1.2"/><circle cx="266.4" cy="370.04" r="1.2"/><circle cx="269.6" cy="392.48" r="1.2"/><circle cx="264.06" cy="366.4" r="1.2"/><circle cx="259.35" cy="337.23" r="1.2"/><circle cx="267.47" cy="344.97" r="1.2"/><circle cx="269.59" cy="338.97" r="1.2"/><circle cx="265.97" cy="330.08" r="1.2"/><circle cx="263.79" cy="368.15" r="1.2"/><circle cx="262" cy="350.72" r="1.2"/><circle cx="268.83" cy="353.52" r="1.2"/><circle cx="267.39" cy="372.71" r="1.2"/><circle cx="269.6" cy="380.88" r="1.2"/><circle cx="268.53" cy="363.97" r="1.2"/><circle cx="265.23" cy="346.75" r="1.2"/><circle cx="261.94" cy="368.75" r="1.2"/><circle cx="269.37" cy="350.19" r="1.2"/><circle cx="266.58" cy="346.85" r="1.2"/><circle cx="261.52" cy="385.49" r="1.2"/><circle cx="270.11" cy="344.08" r="1.2"/><circle cx="259.42" cy="333.78" r="1.2"/><circle cx="268.85" cy="347.29" r="1.2"/><circle cx="263.85" cy="347.4" r="1.2"/><circle cx="270.27" cy="354.67" r="1.2"/><circle cx="260.73" cy="333.21" r="1.2"/><circle cx="270.03" cy="410" r="1.2"/><circle cx="267.05" cy="359.96" r="1.2"/><circle cx="258.86" cy="361.43" r="1.2"/><circle cx="269" cy="342.87" r="1.2"/><circle cx="260.71" cy="384.15" r="1.2"/><circle cx="262.13" cy="330.62" r="1.2"/><circle cx="264.04" cy="386.45" r="1.2"/><circle cx="267.81" cy="346.19" r="1.2"/><circle cx="264.67" cy="347.37" r="1.2"/><circle cx="263.49" cy="337.43" r="1.2"/><circle cx="263.02" cy="352.07" r="1.2"/><circle cx="261.99" cy="374.08" r="1.2"/></g>
<line x1="295.32" x2="295.32" y1="320.7" y2="349.2" stroke="#000" stroke-width="1.7"/>
<line x1="295.32" x2="295.32" y1="371.3" y2="398" stroke="#000" stroke-width="1.7"/>
<rect x="283.62" y="349.2" width="23.4" height="22.1" fill="#fff" stroke="#000" stroke-width="1.7"/>
<line x1="283.62" x2="307.02" y1="358.6" y2="358.6" stroke="#000" stroke-width="2.8"/>
<g fill="#FDE725"><circle cx="296.93" cy="368.33" r="1.2"/><circle cx="298.61" cy="357.21" r="1.2"/><circle cx="296.72" cy="344.58" r="1.2"/><circle cx="300.74" cy="344.27" r="1.2"/><circle cx="292.87" cy="364.93" r="1.2"/><circle cx="289.69" cy="371.12" r="1.2"/><circle cx="296.12" cy="377.66" r="1.2"/><circle cx="301.28" cy="376.16" r="1.2"/><circle cx="289.49" cy="364.36" r="1.2"/><circle cx="298.6" cy="380.02" r="1.2"/><circle cx="293.22" cy="364.74" r="1.2"/><circle cx="293.16" cy="343.45" r="1.2"/><circle cx="291.75" cy="370.76" r="1.2"/><circle cx="298.92" cy="382.78" r="1.2"/><circle cx="292.18" cy="350.9" r="1.2"/><circle cx="296.92" cy="379.31" r="1.2"/><circle cx="295.41" cy="352.76" r="1.2"/><circle cx="289.87" cy="371.86" r="1.2"/><circle cx="297.4" cy="355.56" r="1.2"/><circle cx="297.69" cy="382.26" r="1.2"/><circle cx="289.98" cy="350.74" r="1.2"/><circle cx="289.46" cy="374.86" r="1.2"/><circle cx="293.95" cy="346.39" r="1.2"/><circle cx="292.28" cy="396.88" r="1.2"/><circle cx="293.19" cy="385.12" r="1.2"/><circle cx="292.04" cy="358.46" r="1.2"/><circle cx="297.52" cy="353.91" r="1.2"/><circle cx="299.23" cy="371.41" r="1.2"/><circle cx="295.83" cy="351.44" r="1.2"/><circle cx="293.35" cy="354.48" r="1.2"/><circle cx="295.23" cy="350.96" r="1.2"/><circle cx="291.28" cy="347.87" r="1.2"/><circle cx="298.67" cy="380.3" r="1.2"/><circle cx="299.33" cy="320.73" r="1.2"/><circle cx="299.31" cy="358.93" r="1.2"/><circle cx="295.66" cy="369.2" r="1.2"/><circle cx="299.5" cy="332.01" r="1.2"/><circle cx="296.51" cy="347.96" r="1.2"/><circle cx="298.42" cy="344.79" r="1.2"/><circle cx="289.47" cy="375.05" r="1.2"/><circle cx="292.29" cy="347.48" r="1.2"/><circle cx="298.8" cy="372.61" r="1.2"/><circle cx="296.12" cy="376.23" r="1.2"/><circle cx="296.8" cy="366.93" r="1.2"/><circle cx="290.78" cy="372.03" r="1.2"/><circle cx="296.28" cy="351.03" r="1.2"/><circle cx="298.94" cy="353.39" r="1.2"/><circle cx="300.94" cy="344.28" r="1.2"/><circle cx="300.28" cy="356.21" r="1.2"/><circle cx="300.36" cy="345.11" r="1.2"/><circle cx="299.73" cy="346.42" r="1.2"/><circle cx="290.09" cy="356.26" r="1.2"/><circle cx="290.78" cy="337.9" r="1.2"/><circle cx="299.16" cy="347.94" r="1.2"/><circle cx="297.78" cy="371.53" r="1.2"/><circle cx="291.19" cy="338.25" r="1.2"/><circle cx="298.92" cy="375.27" r="1.2"/><circle cx="289.33" cy="354.36" r="1.2"/><circle cx="292.63" cy="385.57" r="1.2"/><circle cx="295.51" cy="350.85" r="1.2"/><circle cx="300.77" cy="341.75" r="1.2"/><circle cx="290.54" cy="356.16" r="1.2"/><circle cx="297.53" cy="376.31" r="1.2"/><circle cx="292.46" cy="363.81" r="1.2"/><circle cx="291.42" cy="346.22" r="1.2"/><circle cx="294.39" cy="383.17" r="1.2"/><circle cx="293.47" cy="351.47" r="1.2"/><circle cx="290.03" cy="334.14" r="1.2"/><circle cx="290.49" cy="351.94" r="1.2"/><circle cx="300.59" cy="348.77" r="1.2"/><circle cx="300.54" cy="370.38" r="1.2"/><circle cx="297.07" cy="346.38" r="1.2"/><circle cx="292.57" cy="375.04" r="1.2"/><circle cx="299.41" cy="354.04" r="1.2"/><circle cx="300.68" cy="361.66" r="1.2"/><circle cx="296.77" cy="362.17" r="1.2"/><circle cx="297.78" cy="363.62" r="1.2"/><circle cx="296.5" cy="335.75" r="1.2"/><circle cx="293.25" cy="335.76" r="1.2"/><circle cx="298.52" cy="341.32" r="1.2"/><circle cx="301.16" cy="360.23" r="1.2"/><circle cx="300.37" cy="361.17" r="1.2"/><circle cx="293.08" cy="347.21" r="1.2"/><circle cx="301.22" cy="366.54" r="1.2"/><circle cx="300.55" cy="356.03" r="1.2"/><circle cx="292.99" cy="320.82" r="1.2"/><circle cx="292.96" cy="382.5" r="1.2"/><circle cx="295.95" cy="350.6" r="1.2"/><circle cx="295.89" cy="338.84" r="1.2"/><circle cx="299.36" cy="352.83" r="1.2"/><circle cx="296.59" cy="332.37" r="1.2"/><circle cx="293.3" cy="344.47" r="1.2"/><circle cx="292.64" cy="337.1" r="1.2"/><circle cx="295.05" cy="344.22" r="1.2"/><circle cx="296.36" cy="326.46" r="1.2"/><circle cx="295.22" cy="353.22" r="1.2"/><circle cx="301.14" cy="366.66" r="1.2"/><circle cx="294.84" cy="377.73" r="1.2"/><circle cx="295.83" cy="359.51" r="1.2"/><circle cx="299.04" cy="367.53" r="1.2"/><circle cx="297.68" cy="347.85" r="1.2"/><circle cx="296.35" cy="351.8" r="1.2"/><circle cx="289.54" cy="363.41" r="1.2"/><circle cx="290.92" cy="364.79" r="1.2"/><circle cx="299.86" cy="349.52" r="1.2"/><circle cx="298.66" cy="368.21" r="1.2"/><circle cx="297.3" cy="350.68" r="1.2"/><circle cx="290.44" cy="360.37" r="1.2"/><circle cx="295.83" cy="352.49" r="1.2"/><circle cx="296.28" cy="390.9" r="1.2"/><circle cx="297.73" cy="366.71" r="1.2"/><circle cx="299.99" cy="362.71" r="1.2"/><circle cx="290.94" cy="362.78" r="1.2"/><circle cx="299.83" cy="364.59" r="1.2"/><circle cx="298.04" cy="372.91" r="1.2"/><circle cx="298.51" cy="397.85" r="1.2"/><circle cx="293.86" cy="367.8" r="1.2"/><circle cx="296.02" cy="377.76" r="1.2"/><circle cx="289.67" cy="382.47" r="1.2"/><circle cx="294.08" cy="355.1" r="1.2"/><circle cx="293.89" cy="355.71" r="1.2"/><circle cx="290.71" cy="333.37" r="1.2"/><circle cx="299.32" cy="413.3" r="1.2"/><circle cx="296.24" cy="359.77" r="1.2"/><circle cx="300.46" cy="376.54" r="1.2"/><circle cx="296.6" cy="343.34" r="1.2"/><circle cx="299.36" cy="353.25" r="1.2"/><circle cx="299.17" cy="361.18" r="1.2"/><circle cx="293.27" cy="367.09" r="1.2"/><circle cx="300.91" cy="359.75" r="1.2"/><circle cx="291.92" cy="360.41" r="1.2"/><circle cx="295.72" cy="370.28" r="1.2"/><circle cx="299.77" cy="324.66" r="1.2"/><circle cx="290.1" cy="364.62" r="1.2"/><circle cx="299.63" cy="335.07" r="1.2"/><circle cx="292.23" cy="344.17" r="1.2"/><circle cx="295.38" cy="356.57" r="1.2"/><circle cx="293.92" cy="334.18" r="1.2"/><circle cx="296.11" cy="373.65" r="1.2"/><circle cx="300.06" cy="370.27" r="1.2"/><circle cx="298.45" cy="346.93" r="1.2"/><circle cx="300.45" cy="346.24" r="1.2"/><circle cx="298.96" cy="356.86" r="1.2"/><circle cx="293.82" cy="349.62" r="1.2"/><circle cx="298.1" cy="358.06" r="1.2"/><circle cx="291.04" cy="337.24" r="1.2"/><circle cx="299.23" cy="342.27" r="1.2"/><circle cx="292.34" cy="360.84" r="1.2"/><circle cx="292.07" cy="381.71" r="1.2"/><circle cx="297.1" cy="395.73" r="1.2"/><circle cx="294.17" cy="363.26" r="1.2"/></g>
<rect x="20.35" y="51.5" width="67.15" height="117.9" fill="none" stroke="#585858" stroke-width="1.2"/>
<rect x="95.5" y="51.5" width="67.15" height="117.9" fill="none" stroke="#585858" stroke-width="1.2"/>
<rect x="170.9" y="51.5" width="67.15" height="117.9" fill="none" stroke="#585858" stroke-width="1.2"/>
<rect x="246.5" y="51.5" width="67.15" height="117.9" fill="none" stroke="#585858" stroke-width="1.2"/>
<rect x="313.65" y="51.5" width="17.25" height="117.9" fill="#F4A582" stroke="#585858" stroke-width="1.2"/>
<text transform="translate(320.45,110.45) rotate(90) scale(0.1)" font-size="56" fill="#1A1A1A" text-anchor="middle" stroke="#1A1A1A" stroke-width="1.2">SHANK2</text>
<text transform="translate(13.3,66.6) scale(0.1)" font-size="56" fill="#4D4D4D" text-anchor="end" stroke="#4D4D4D" stroke-width="1.2">1.0</text>
<text transform="translate(13.3,106.6) scale(0.1)" font-size="56" fill="#4D4D4D" text-anchor="end" stroke="#4D4D4D" stroke-width="1.2">0.0</text>
<text transform="translate(13.3,146.6) scale(0.1)" font-size="56" fill="#4D4D4D" text-anchor="end" stroke="#4D4D4D" stroke-width="1.2">−1.0</text>
<rect x="20.35" y="174.6" width="67.15" height="118.4" fill="none" stroke="#585858" stroke-width="1.2"/>
<rect x="95.5" y="174.6" width="67.15" height="118.4" fill="none" stroke="#585858" stroke-width="1.2"/>
<rect x="170.9" y="174.6" width="67.15" height="118.4" fill="none" stroke="#585858" stroke-width="1.2"/>
<rect x="246.5" y="174.6" width="67.15" height="118.4" fill="none" stroke="#585858" stroke-width="1.2"/>
<rect x="313.65" y="174.6" width="17.25" height="118.4" fill="#FFFFFF" stroke="#585858" stroke-width="1.2"/>
<text transform="translate(320.45,233.8) rotate(90) scale(0.1)" font-size="56" fill="#1A1A1A" text-anchor="middle" stroke="#1A1A1A" stroke-width="1.2">SP4</text>
<text transform="translate(13.3,198.7) scale(0.1)" font-size="56" fill="#4D4D4D" text-anchor="end" stroke="#4D4D4D" stroke-width="1.2">0.5</text>
<text transform="translate(13.3,232.5) scale(0.1)" font-size="56" fill="#4D4D4D" text-anchor="end" stroke="#4D4D4D" stroke-width="1.2">0.0</text>
<text transform="translate(13.3,266.3) scale(0.1)" font-size="56" fill="#4D4D4D" text-anchor="end" stroke="#4D4D4D" stroke-width="1.2">−0.5</text>
<rect x="20.35" y="300.9" width="67.15" height="117.4" fill="none" stroke="#585858" stroke-width="1.2"/>
<rect x="95.5" y="300.9" width="67.15" height="117.4" fill="none" stroke="#585858" stroke-width="1.2"/>
<rect x="170.9" y="300.9" width="67.15" height="117.4" fill="none" stroke="#585858" stroke-width="1.2"/>
<rect x="246.5" y="300.9" width="67.15" height="117.4" fill="none" stroke="#585858" stroke-width="1.2"/>
<rect x="313.65" y="300.9" width="17.25" height="117.4" fill="#92C5DE" stroke="#585858" stroke-width="1.2"/>
<text transform="translate(320.45,359.6) rotate(90) scale(0.1)" font-size="56" fill="#1A1A1A" text-anchor="middle" stroke="#1A1A1A" stroke-width="1.2">RASGRP1</text>
<text transform="translate(13.3,321.1) scale(0.1)" font-size="56" fill="#4D4D4D" text-anchor="end" stroke="#4D4D4D" stroke-width="1.2">1.0</text>
<text transform="translate(13.3,341.6) scale(0.1)" font-size="56" fill="#4D4D4D" text-anchor="end" stroke="#4D4D4D" stroke-width="1.2">0.5</text>
<text transform="translate(13.3,362.1) scale(0.1)" font-size="56" fill="#4D4D4D" text-anchor="end" stroke="#4D4D4D" stroke-width="1.2">0.0</text>
<text transform="translate(13.3,382.6) scale(0.1)" font-size="56" fill="#4D4D4D" text-anchor="end" stroke="#4D4D4D" stroke-width="1.2">−0.5</text>
<text transform="translate(13.3,403.1) scale(0.1)" font-size="56" fill="#4D4D4D" text-anchor="end" stroke="#4D4D4D" stroke-width="1.2">−1.0</text>
<rect x="20.35" y="34.4" width="67.15" height="17.1" fill="#fff" stroke="#585858" stroke-width="1.2"/>
<text transform="translate(53.93,45) scale(0.1)" font-size="56" fill="#1A1A1A" text-anchor="middle" stroke="#1A1A1A" stroke-width="1.2">CMC−HBCC</text>
<rect x="95.5" y="34.4" width="67.15" height="17.1" fill="#fff" stroke="#585858" stroke-width="1.2"/>
<text transform="translate(129.07,45) scale(0.1)" font-size="56" fill="#1A1A1A" text-anchor="middle" stroke="#1A1A1A" stroke-width="1.2">CMC−Pitt</text>
<rect x="170.9" y="34.4" width="67.15" height="17.1" fill="#fff" stroke="#585858" stroke-width="1.2"/>
<text transform="translate(204.48,45) scale(0.1)" font-size="56" fill="#1A1A1A" text-anchor="middle" stroke="#1A1A1A" stroke-width="1.2">GVEX−SMRI</text>
<rect x="246.5" y="34.4" width="67.15" height="17.1" fill="#fff" stroke="#585858" stroke-width="1.2"/>
<text transform="translate(280.07,45) scale(0.1)" font-size="56" fill="#1A1A1A" text-anchor="middle" stroke="#1A1A1A" stroke-width="1.2">BipSeq−sACC</text>
<text transform="translate(0.9,45) rotate(0.1) scale(0.1)" font-size="172" fill="#000" font-weight="bold">a</text>
<rect x="402.5" y="50.4" width="122.6" height="369.7" fill="#fff"/>
<rect x="405.4" y="50.9" width="117.2" height="368.82" fill="#F7F7F7"/>
<line x1="402.5" x2="525.1" y1="57.73" y2="57.73" stroke="#E4E4E4" stroke-width="0.6"/>
<line x1="402.5" x2="525.1" y1="64.56" y2="64.56" stroke="#E4E4E4" stroke-width="0.6"/>
<line x1="402.5" x2="525.1" y1="71.39" y2="71.39" stroke="#E4E4E4" stroke-width="0.6"/>
<line x1="402.5" x2="525.1" y1="78.22" y2="78.22" stroke="#E4E4E4" stroke-width="0.6"/>
<line x1="402.5" x2="525.1" y1="85.05" y2="85.05" stroke="#E4E4E4" stroke-width="0.6"/>
<line x1="402.5" x2="525.1" y1="91.88" y2="91.88" stroke="#E4E4E4" stroke-width="0.6"/>
<line x1="402.5" x2="525.1" y1="98.71" y2="98.71" stroke="#E4E4E4" stroke-width="0.6"/>
<line x1="402.5" x2="525.1" y1="105.54" y2="105.54" stroke="#E4E4E4" stroke-width="0.6"/>
<line x1="402.5" x2="525.1" y1="112.37" y2="112.37" stroke="#E4E4E4" stroke-width="0.6"/>
<line x1="402.5" x2="525.1" y1="119.2" y2="119.2" stroke="#E4E4E4" stroke-width="0.6"/>
<line x1="402.5" x2="525.1" y1="126.03" y2="126.03" stroke="#E4E4E4" stroke-width="0.6"/>
<line x1="402.5" x2="525.1" y1="132.86" y2="132.86" stroke="#E4E4E4" stroke-width="0.6"/>
<line x1="402.5" x2="525.1" y1="139.69" y2="139.69" stroke="#E4E4E4" stroke-width="0.6"/>
<line x1="402.5" x2="525.1" y1="146.52" y2="146.52" stroke="#E4E4E4" stroke-width="0.6"/>
<line x1="402.5" x2="525.1" y1="153.35" y2="153.35" stroke="#E4E4E4" stroke-width="0.6"/>
<line x1="402.5" x2="525.1" y1="160.18" y2="160.18" stroke="#E4E4E4" stroke-width="0.6"/>
<line x1="402.5" x2="525.1" y1="167.01" y2="167.01" stroke="#E4E4E4" stroke-width="0.6"/>
<line x1="402.5" x2="525.1" y1="173.84" y2="173.84" stroke="#E4E4E4" stroke-width="0.6"/>
<line x1="402.5" x2="525.1" y1="180.67" y2="180.67" stroke="#E4E4E4" stroke-width="0.6"/>
<line x1="402.5" x2="525.1" y1="187.5" y2="187.5" stroke="#E4E4E4" stroke-width="0.6"/>
<line x1="402.5" x2="525.1" y1="194.33" y2="194.33" stroke="#E4E4E4" stroke-width="0.6"/>
<line x1="402.5" x2="525.1" y1="201.16" y2="201.16" stroke="#E4E4E4" stroke-width="0.6"/>
<line x1="402.5" x2="525.1" y1="207.99" y2="207.99" stroke="#E4E4E4" stroke-width="0.6"/>
<line x1="402.5" x2="525.1" y1="214.82" y2="214.82" stroke="#E4E4E4" stroke-width="0.6"/>
<line x1="402.5" x2="525.1" y1="221.65" y2="221.65" stroke="#E4E4E4" stroke-width="0.6"/>
<line x1="402.5" x2="525.1" y1="228.48" y2="228.48" stroke="#E4E4E4" stroke-width="0.6"/>
<line x1="402.5" x2="525.1" y1="235.31" y2="235.31" stroke="#E4E4E4" stroke-width="0.6"/>
<line x1="402.5" x2="525.1" y1="242.14" y2="242.14" stroke="#E4E4E4" stroke-width="0.6"/>
<line x1="402.5" x2="525.1" y1="248.97" y2="248.97" stroke="#E4E4E4" stroke-width="0.6"/>
<line x1="402.5" x2="525.1" y1="255.8" y2="255.8" stroke="#E4E4E4" stroke-width="0.6"/>
<line x1="402.5" x2="525.1" y1="262.63" y2="262.63" stroke="#E4E4E4" stroke-width="0.6"/>
<line x1="402.5" x2="525.1" y1="269.46" y2="269.46" stroke="#E4E4E4" stroke-width="0.6"/>
<line x1="402.5" x2="525.1" y1="276.29" y2="276.29" stroke="#E4E4E4" stroke-width="0.6"/>
<line x1="402.5" x2="525.1" y1="283.12" y2="283.12" stroke="#E4E4E4" stroke-width="0.6"/>
<line x1="402.5" x2="525.1" y1="289.95" y2="289.95" stroke="#E4E4E4" stroke-width="0.6"/>
<line x1="402.5" x2="525.1" y1="296.78" y2="296.78" stroke="#E4E4E4" stroke-width="0.6"/>
<line x1="402.5" x2="525.1" y1="303.61" y2="303.61" stroke="#E4E4E4" stroke-width="0.6"/>
<line x1="402.5" x2="525.1" y1="310.44" y2="310.44" stroke="#E4E4E4" stroke-width="0.6"/>
<line x1="402.5" x2="525.1" y1="317.27" y2="317.27" stroke="#E4E4E4" stroke-width="0.6"/>
<line x1="402.5" x2="525.1" y1="324.1" y2="324.1" stroke="#E4E4E4" stroke-width="0.6"/>
<line x1="402.5" x2="525.1" y1="330.93" y2="330.93" stroke="#E4E4E4" stroke-width="0.6"/>
<line x1="402.5" x2="525.1" y1="337.76" y2="337.76" stroke="#E4E4E4" stroke-width="0.6"/>
<line x1="402.5" x2="525.1" y1="344.59" y2="344.59" stroke="#E4E4E4" stroke-width="0.6"/>
<line x1="402.5" x2="525.1" y1="351.42" y2="351.42" stroke="#E4E4E4" stroke-width="0.6"/>
<line x1="402.5" x2="525.1" y1="358.25" y2="358.25" stroke="#E4E4E4" stroke-width="0.6"/>
<line x1="402.5" x2="525.1" y1="365.08" y2="365.08" stroke="#E4E4E4" stroke-width="0.6"/>
<line x1="402.5" x2="525.1" y1="371.91" y2="371.91" stroke="#E4E4E4" stroke-width="0.6"/>
<line x1="402.5" x2="525.1" y1="378.74" y2="378.74" stroke="#E4E4E4" stroke-width="0.6"/>
<line x1="402.5" x2="525.1" y1="385.57" y2="385.57" stroke="#E4E4E4" stroke-width="0.6"/>
<line x1="402.5" x2="525.1" y1="392.4" y2="392.4" stroke="#E4E4E4" stroke-width="0.6"/>
<line x1="402.5" x2="525.1" y1="399.23" y2="399.23" stroke="#E4E4E4" stroke-width="0.6"/>
<line x1="402.5" x2="525.1" y1="406.06" y2="406.06" stroke="#E4E4E4" stroke-width="0.6"/>
<line x1="402.5" x2="525.1" y1="412.89" y2="412.89" stroke="#E4E4E4" stroke-width="0.6"/>
<rect x="493.3" y="64.56" width="29.3" height="6.83" fill="#92C5DE" fill-opacity="0.93"/>
<rect x="434.7" y="71.39" width="58.6" height="6.83" fill="#F4A582" fill-opacity="0.93"/>
<rect x="405.4" y="78.22" width="58.6" height="6.83" fill="#92C5DE" fill-opacity="0.93"/>
<rect x="493.3" y="78.22" width="29.3" height="6.83" fill="#F4A582" fill-opacity="0.93"/>
<rect x="434.7" y="98.71" width="29.3" height="6.83" fill="#92C5DE" fill-opacity="0.93"/>
<rect x="493.3" y="105.54" width="29.3" height="6.83" fill="#F4A582" fill-opacity="0.93"/>
<rect x="405.4" y="112.37" width="58.6" height="6.83" fill="#F4A582" fill-opacity="0.93"/>
<rect x="405.4" y="126.03" width="29.3" height="6.83" fill="#92C5DE" fill-opacity="0.93"/>
<rect x="493.3" y="126.03" width="29.3" height="6.83" fill="#F4A582" fill-opacity="0.93"/>
<rect x="464" y="132.86" width="29.3" height="6.83" fill="#F4A582" fill-opacity="0.93"/>
<rect x="493.3" y="139.69" width="29.3" height="6.83" fill="#92C5DE" fill-opacity="0.93"/>
<rect x="405.4" y="146.52" width="29.3" height="6.83" fill="#92C5DE" fill-opacity="0.93"/>
<rect x="434.7" y="146.52" width="29.3" height="6.83" fill="#F4A582" fill-opacity="0.93"/>
<rect x="434.7" y="153.35" width="58.6" height="6.83" fill="#F4A582" fill-opacity="0.93"/>
<rect x="493.3" y="153.35" width="29.3" height="6.83" fill="#92C5DE" fill-opacity="0.93"/>
<rect x="493.3" y="160.18" width="29.3" height="6.83" fill="#92C5DE" fill-opacity="0.93"/>
<rect x="405.4" y="173.84" width="29.3" height="6.83" fill="#92C5DE" fill-opacity="0.93"/>
<rect x="493.3" y="173.84" width="29.3" height="6.83" fill="#92C5DE" fill-opacity="0.93"/>
<rect x="493.3" y="180.67" width="29.3" height="6.83" fill="#F4A582" fill-opacity="0.93"/>
<rect x="493.3" y="187.5" width="29.3" height="6.83" fill="#92C5DE" fill-opacity="0.93"/>
<rect x="405.4" y="194.33" width="29.3" height="6.83" fill="#92C5DE" fill-opacity="0.93"/>
<rect x="493.3" y="194.33" width="29.3" height="6.83" fill="#92C5DE" fill-opacity="0.93"/>
<rect x="464" y="201.16" width="29.3" height="6.83" fill="#92C5DE" fill-opacity="0.93"/>
<rect x="493.3" y="214.82" width="29.3" height="6.83" fill="#92C5DE" fill-opacity="0.93"/>
<rect x="405.4" y="221.65" width="29.3" height="6.83" fill="#F4A582" fill-opacity="0.93"/>
<rect x="405.4" y="228.48" width="58.6" height="6.83" fill="#F4A582" fill-opacity="0.93"/>
<rect x="493.3" y="242.14" width="29.3" height="6.83" fill="#92C5DE" fill-opacity="0.93"/>
<rect x="405.4" y="248.97" width="29.3" height="6.83" fill="#92C5DE" fill-opacity="0.93"/>
<rect x="434.7" y="255.8" width="58.6" height="6.83" fill="#92C5DE" fill-opacity="0.93"/>
<rect x="434.7" y="262.63" width="29.3" height="6.83" fill="#92C5DE" fill-opacity="0.93"/>
<rect x="493.3" y="262.63" width="29.3" height="6.83" fill="#F4A582" fill-opacity="0.93"/>
<rect x="493.3" y="269.46" width="29.3" height="6.83" fill="#F4A582" fill-opacity="0.93"/>
<rect x="493.3" y="276.29" width="29.3" height="6.83" fill="#F4A582" fill-opacity="0.93"/>
<rect x="405.4" y="283.12" width="29.3" height="6.83" fill="#F4A582" fill-opacity="0.93"/>
<rect x="464" y="289.95" width="29.3" height="6.83" fill="#92C5DE" fill-opacity="0.93"/>
<rect x="493.3" y="289.95" width="29.3" height="6.83" fill="#F4A582" fill-opacity="0.93"/>
<rect x="464" y="296.78" width="29.3" height="6.83" fill="#92C5DE" fill-opacity="0.93"/>
<rect x="493.3" y="296.78" width="29.3" height="6.83" fill="#F4A582" fill-opacity="0.93"/>
<rect x="405.4" y="310.44" width="29.3" height="6.83" fill="#F4A582" fill-opacity="0.93"/>
<rect x="464" y="310.44" width="58.6" height="6.83" fill="#F4A582" fill-opacity="0.93"/>
<rect x="493.3" y="317.27" width="29.3" height="6.83" fill="#F4A582" fill-opacity="0.93"/>
<rect x="493.3" y="324.1" width="29.3" height="6.83" fill="#F4A582" fill-opacity="0.93"/>
<rect x="493.3" y="344.59" width="29.3" height="6.83" fill="#F4A582" fill-opacity="0.93"/>
<rect x="493.3" y="351.42" width="29.3" height="6.83" fill="#F4A582" fill-opacity="0.93"/>
<rect x="434.7" y="358.25" width="29.3" height="6.83" fill="#92C5DE" fill-opacity="0.93"/>
<rect x="493.3" y="358.25" width="29.3" height="6.83" fill="#F4A582" fill-opacity="0.93"/>
<rect x="493.3" y="371.91" width="29.3" height="6.83" fill="#92C5DE" fill-opacity="0.93"/>
<rect x="434.7" y="385.57" width="29.3" height="6.83" fill="#92C5DE" fill-opacity="0.93"/>
<rect x="493.3" y="385.57" width="29.3" height="6.83" fill="#92C5DE" fill-opacity="0.93"/>
<rect x="405.4" y="392.4" width="29.3" height="6.83" fill="#92C5DE" fill-opacity="0.93"/>
<rect x="464" y="399.23" width="29.3" height="6.83" fill="#92C5DE" fill-opacity="0.93"/>
<circle cx="507.95" cy="67.98" r="1.3" fill="#000" fill-opacity="0.28"/>
<circle cx="507.95" cy="81.64" r="1.95" fill="#000" fill-opacity="0.58"/>
<circle cx="507.95" cy="108.95" r="1.95" fill="#000" fill-opacity="0.58"/>
<circle cx="449.35" cy="115.79" r="1.3" fill="#000" fill-opacity="0.28"/>
<circle cx="478.65" cy="156.76" r="1.3" fill="#000" fill-opacity="0.28"/>
<circle cx="507.95" cy="156.76" r="1.3" fill="#000" fill-opacity="0.28"/>
<circle cx="507.95" cy="163.59" r="1.95" fill="#000" fill-opacity="0.58"/>
<circle cx="507.95" cy="197.75" r="1.95" fill="#000" fill-opacity="0.58"/>
<circle cx="478.65" cy="204.57" r="1.95" fill="#000" fill-opacity="0.58"/>
<circle cx="507.95" cy="218.24" r="1.95" fill="#000" fill-opacity="0.58"/>
<circle cx="420.05" cy="231.9" r="1.3" fill="#000" fill-opacity="0.28"/>
<circle cx="478.65" cy="259.22" r="1.95" fill="#000" fill-opacity="0.58"/>
<circle cx="507.95" cy="266.05" r="1.3" fill="#000" fill-opacity="0.28"/>
<circle cx="507.95" cy="279.71" r="1.3" fill="#000" fill-opacity="0.28"/>
<circle cx="420.05" cy="286.54" r="1.3" fill="#000" fill-opacity="0.28"/>
<circle cx="478.65" cy="293.37" r="1.3" fill="#000" fill-opacity="0.28"/>
<circle cx="507.95" cy="293.37" r="1.95" fill="#000" fill-opacity="0.58"/>
<circle cx="507.95" cy="300.19" r="1.95" fill="#000" fill-opacity="0.58"/>
<circle cx="478.65" cy="313.86" r="1.3" fill="#000" fill-opacity="0.28"/>
<circle cx="507.95" cy="313.86" r="1.3" fill="#000" fill-opacity="0.28"/>
<circle cx="507.95" cy="320.69" r="1.3" fill="#000" fill-opacity="0.28"/>
<circle cx="507.95" cy="348" r="1.95" fill="#000" fill-opacity="0.58"/>
<circle cx="507.95" cy="354.83" r="1.3" fill="#000" fill-opacity="0.28"/>
<circle cx="507.95" cy="361.67" r="1.3" fill="#000" fill-opacity="0.28"/>
<circle cx="507.95" cy="375.32" r="1.3" fill="#000" fill-opacity="0.28"/>
<rect x="402.5" y="50.4" width="122.6" height="369.7" fill="none" stroke="#585858" stroke-width="1.2"/>
<text transform="translate(417.45,47) rotate(-57.9) scale(0.1)" font-size="72.5" fill="#4D4D4D" stroke="#4D4D4D" stroke-width="1.2">CMC−HBCC</text>
<text transform="translate(446.75,47) rotate(-57.9) scale(0.1)" font-size="72.5" fill="#4D4D4D" stroke="#4D4D4D" stroke-width="1.2">CMC−Pitt</text>
<text transform="translate(476.05,47) rotate(-57.9) scale(0.1)" font-size="72.5" fill="#4D4D4D" stroke="#4D4D4D" stroke-width="1.2">GVEX−SMRI</text>
<text transform="translate(505.35,47) rotate(-57.9) scale(0.1)" font-size="72.5" fill="#4D4D4D" stroke="#4D4D4D" stroke-width="1.2">BipSeq−sACC</text>
<text transform="translate(395.2,56.71) rotate(0.1) scale(0.1)" font-size="72" fill="#4D4D4D" text-anchor="end" stroke="#4D4D4D" stroke-width="1.2">CUL4A</text>
<text transform="translate(395.2,63.54) rotate(0.1) scale(0.1)" font-size="72" fill="#4D4D4D" text-anchor="end" stroke="#4D4D4D" stroke-width="1.2">LMAN2L</text>
<text transform="translate(395.2,70.38) rotate(0.1) scale(0.1)" font-size="72" fill="#4D4D4D" text-anchor="end" stroke="#4D4D4D" stroke-width="1.2">POU3F2</text>
<text transform="translate(395.2,77.21) rotate(0.1) scale(0.1)" font-size="72" fill="#4D4D4D" text-anchor="end" stroke="#4D4D4D" stroke-width="1.2">SP4</text>
<text transform="translate(395.2,84.04) rotate(0.1) scale(0.1)" font-size="72" fill="#4D4D4D" text-anchor="end" stroke="#4D4D4D" stroke-width="1.2">C15orf40</text>
<text transform="translate(395.2,90.87) rotate(0.1) scale(0.1)" font-size="72" fill="#4D4D4D" text-anchor="end" stroke="#4D4D4D" stroke-width="1.2">STARD9</text>
<text transform="translate(395.2,97.7) rotate(0.1) scale(0.1)" font-size="72" fill="#4D4D4D" text-anchor="end" stroke="#4D4D4D" stroke-width="1.2">KDM3B</text>
<text transform="translate(395.2,104.53) rotate(0.1) scale(0.1)" font-size="72" fill="#4D4D4D" text-anchor="end" stroke="#4D4D4D" stroke-width="1.2">PLEC</text>
<text transform="translate(395.2,111.36) rotate(0.1) scale(0.1)" font-size="72" fill="#4D4D4D" text-anchor="end" stroke="#4D4D4D" stroke-width="1.2">RPS6KA2</text>
<text transform="translate(395.2,118.19) rotate(0.1) scale(0.1)" font-size="72" fill="#4D4D4D" text-anchor="end" stroke="#4D4D4D" stroke-width="1.2">FES</text>
<text transform="translate(395.2,125.02) rotate(0.1) scale(0.1)" font-size="72" fill="#4D4D4D" text-anchor="end" stroke="#4D4D4D" stroke-width="1.2">FADS2</text>
<text transform="translate(395.2,131.84) rotate(0.1) scale(0.1)" font-size="72" fill="#4D4D4D" text-anchor="end" stroke="#4D4D4D" stroke-width="1.2">THRA</text>
<text transform="translate(395.2,138.68) rotate(0.1) scale(0.1)" font-size="72" fill="#4D4D4D" text-anchor="end" stroke="#4D4D4D" stroke-width="1.2">HDAC5</text>
<text transform="translate(395.2,145.5) rotate(0.1) scale(0.1)" font-size="72" fill="#4D4D4D" text-anchor="end" stroke="#4D4D4D" stroke-width="1.2">RPL13</text>
<text transform="translate(395.2,152.34) rotate(0.1) scale(0.1)" font-size="72" fill="#4D4D4D" text-anchor="end" stroke="#4D4D4D" stroke-width="1.2">MAD1L1</text>
<text transform="translate(395.2,159.16) rotate(0.1) scale(0.1)" font-size="72" fill="#4D4D4D" text-anchor="end" stroke="#4D4D4D" stroke-width="1.2">FKBP2</text>
<text transform="translate(395.2,166) rotate(0.1) scale(0.1)" font-size="72" fill="#4D4D4D" text-anchor="end" stroke="#4D4D4D" stroke-width="1.2">TRPT1</text>
<text transform="translate(395.2,172.82) rotate(0.1) scale(0.1)" font-size="72" fill="#4D4D4D" text-anchor="end" stroke="#4D4D4D" stroke-width="1.2">ZSCAN2</text>
<text transform="translate(395.2,179.66) rotate(0.1) scale(0.1)" font-size="72" fill="#4D4D4D" text-anchor="end" stroke="#4D4D4D" stroke-width="1.2">OSBPL2</text>
<text transform="translate(395.2,186.49) rotate(0.1) scale(0.1)" font-size="72" fill="#4D4D4D" text-anchor="end" stroke="#4D4D4D" stroke-width="1.2">XPNPEP1</text>
<text transform="translate(395.2,193.31) rotate(0.1) scale(0.1)" font-size="72" fill="#4D4D4D" text-anchor="end" stroke="#4D4D4D" stroke-width="1.2">BTN2A1</text>
<text transform="translate(395.2,200.15) rotate(0.1) scale(0.1)" font-size="72" fill="#4D4D4D" text-anchor="end" stroke="#4D4D4D" stroke-width="1.2">ADO</text>
<text transform="translate(395.2,206.97) rotate(0.1) scale(0.1)" font-size="72" fill="#4D4D4D" text-anchor="end" stroke="#4D4D4D" stroke-width="1.2">SLC25A17</text>
<text transform="translate(395.2,213.81) rotate(0.1) scale(0.1)" font-size="72" fill="#4D4D4D" text-anchor="end" stroke="#4D4D4D" stroke-width="1.2">SRPK2</text>
<text transform="translate(395.2,220.64) rotate(0.1) scale(0.1)" font-size="72" fill="#4D4D4D" text-anchor="end" stroke="#4D4D4D" stroke-width="1.2">MRPS33</text>
<text transform="translate(395.2,227.47) rotate(0.1) scale(0.1)" font-size="72" fill="#4D4D4D" text-anchor="end" stroke="#4D4D4D" stroke-width="1.2">BCL11B</text>
<text transform="translate(395.2,234.3) rotate(0.1) scale(0.1)" font-size="72" fill="#4D4D4D" text-anchor="end" stroke="#4D4D4D" stroke-width="1.2">STK4</text>
<text transform="translate(395.2,241.12) rotate(0.1) scale(0.1)" font-size="72" fill="#4D4D4D" text-anchor="end" stroke="#4D4D4D" stroke-width="1.2">LINC01748</text>
<text transform="translate(395.2,247.96) rotate(0.1) scale(0.1)" font-size="72" fill="#4D4D4D" text-anchor="end" stroke="#4D4D4D" stroke-width="1.2">PBRM1</text>
<text transform="translate(395.2,254.78) rotate(0.1) scale(0.1)" font-size="72" fill="#4D4D4D" text-anchor="end" stroke="#4D4D4D" stroke-width="1.2">ANK3</text>
<text transform="translate(395.2,261.62) rotate(0.1) scale(0.1)" font-size="72" fill="#4D4D4D" text-anchor="end" stroke="#4D4D4D" stroke-width="1.2">KIAA1109</text>
<text transform="translate(395.2,268.44) rotate(0.1) scale(0.1)" font-size="72" fill="#4D4D4D" text-anchor="end" stroke="#4D4D4D" stroke-width="1.2">MSRA</text>
<text transform="translate(395.2,275.27) rotate(0.1) scale(0.1)" font-size="72" fill="#4D4D4D" text-anchor="end" stroke="#4D4D4D" stroke-width="1.2">CNNM4</text>
<text transform="translate(395.2,282.11) rotate(0.1) scale(0.1)" font-size="72" fill="#4D4D4D" text-anchor="end" stroke="#4D4D4D" stroke-width="1.2">PACS1</text>
<text transform="translate(395.2,288.94) rotate(0.1) scale(0.1)" font-size="72" fill="#4D4D4D" text-anchor="end" stroke="#4D4D4D" stroke-width="1.2">SYNE1</text>
<text transform="translate(395.2,295.76) rotate(0.1) scale(0.1)" font-size="72" fill="#4D4D4D" text-anchor="end" stroke="#4D4D4D" stroke-width="1.2">CACNA1C</text>
<text transform="translate(395.2,302.59) rotate(0.1) scale(0.1)" font-size="72" fill="#4D4D4D" text-anchor="end" stroke="#4D4D4D" stroke-width="1.2">CACNA1B</text>
<text transform="translate(395.2,309.43) rotate(0.1) scale(0.1)" font-size="72" fill="#4D4D4D" text-anchor="end" stroke="#4D4D4D" stroke-width="1.2">TENM4</text>
<text transform="translate(395.2,316.25) rotate(0.1) scale(0.1)" font-size="72" fill="#4D4D4D" text-anchor="end" stroke="#4D4D4D" stroke-width="1.2">SHANK2</text>
<text transform="translate(395.2,323.08) rotate(0.1) scale(0.1)" font-size="72" fill="#4D4D4D" text-anchor="end" stroke="#4D4D4D" stroke-width="1.2">PLXNA4</text>
<text transform="translate(395.2,329.91) rotate(0.1) scale(0.1)" font-size="72" fill="#4D4D4D" text-anchor="end" stroke="#4D4D4D" stroke-width="1.2">KCNB1</text>
<text transform="translate(395.2,336.75) rotate(0.1) scale(0.1)" font-size="72" fill="#4D4D4D" text-anchor="end" stroke="#4D4D4D" stroke-width="1.2">RTN4RL1</text>
<text transform="translate(395.2,343.57) rotate(0.1) scale(0.1)" font-size="72" fill="#4D4D4D" text-anchor="end" stroke="#4D4D4D" stroke-width="1.2">HOMER1</text>
<text transform="translate(395.2,350.4) rotate(0.1) scale(0.1)" font-size="72" fill="#4D4D4D" text-anchor="end" stroke="#4D4D4D" stroke-width="1.2">ADCY2</text>
<text transform="translate(395.2,357.23) rotate(0.1) scale(0.1)" font-size="72" fill="#4D4D4D" text-anchor="end" stroke="#4D4D4D" stroke-width="1.2">CACNB2</text>
<text transform="translate(395.2,364.06) rotate(0.1) scale(0.1)" font-size="72" fill="#4D4D4D" text-anchor="end" stroke="#4D4D4D" stroke-width="1.2">DCLK3</text>
<text transform="translate(395.2,370.89) rotate(0.1) scale(0.1)" font-size="72" fill="#4D4D4D" text-anchor="end" stroke="#4D4D4D" stroke-width="1.2">THSD7A</text>
<text transform="translate(395.2,377.72) rotate(0.1) scale(0.1)" font-size="72" fill="#4D4D4D" text-anchor="end" stroke="#4D4D4D" stroke-width="1.2">RASGRP1</text>
<text transform="translate(395.2,384.56) rotate(0.1) scale(0.1)" font-size="72" fill="#4D4D4D" text-anchor="end" stroke="#4D4D4D" stroke-width="1.2">CD47</text>
<text transform="translate(395.2,391.38) rotate(0.1) scale(0.1)" font-size="72" fill="#4D4D4D" text-anchor="end" stroke="#4D4D4D" stroke-width="1.2">C16orf72</text>
<text transform="translate(395.2,398.21) rotate(0.1) scale(0.1)" font-size="72" fill="#4D4D4D" text-anchor="end" stroke="#4D4D4D" stroke-width="1.2">SSBP2</text>
<text transform="translate(395.2,405.04) rotate(0.1) scale(0.1)" font-size="72" fill="#4D4D4D" text-anchor="end" stroke="#4D4D4D" stroke-width="1.2">CERS6</text>
<text transform="translate(395.2,411.88) rotate(0.1) scale(0.1)" font-size="72" fill="#4D4D4D" text-anchor="end" stroke="#4D4D4D" stroke-width="1.2">GRIN2A</text>
<text transform="translate(395.2,418.7) rotate(0.1) scale(0.1)" font-size="72" fill="#4D4D4D" text-anchor="end" stroke="#4D4D4D" stroke-width="1.2">SCN2A</text>
<rect x="555.4" y="49.2" width="122.9" height="369.2" fill="#fff"/>
<rect x="558" y="49.9" width="117.2" height="369.05" fill="#F7F7F7"/>
<line x1="553.6" x2="555.4" y1="56.61" y2="56.61" stroke="#9A9A9A" stroke-width="0.6"/>
<line x1="555.4" x2="678.3" y1="56.61" y2="56.61" stroke="#E4E4E4" stroke-width="0.6"/>
<line x1="553.6" x2="555.4" y1="63.32" y2="63.32" stroke="#9A9A9A" stroke-width="0.6"/>
<line x1="555.4" x2="678.3" y1="63.32" y2="63.32" stroke="#E4E4E4" stroke-width="0.6"/>
<line x1="553.6" x2="555.4" y1="70.03" y2="70.03" stroke="#9A9A9A" stroke-width="0.6"/>
<line x1="555.4" x2="678.3" y1="70.03" y2="70.03" stroke="#E4E4E4" stroke-width="0.6"/>
<line x1="553.6" x2="555.4" y1="76.74" y2="76.74" stroke="#9A9A9A" stroke-width="0.6"/>
<line x1="555.4" x2="678.3" y1="76.74" y2="76.74" stroke="#E4E4E4" stroke-width="0.6"/>
<line x1="553.6" x2="555.4" y1="83.45" y2="83.45" stroke="#9A9A9A" stroke-width="0.6"/>
<line x1="555.4" x2="678.3" y1="83.45" y2="83.45" stroke="#E4E4E4" stroke-width="0.6"/>
<line x1="553.6" x2="555.4" y1="90.16" y2="90.16" stroke="#9A9A9A" stroke-width="0.6"/>
<line x1="555.4" x2="678.3" y1="90.16" y2="90.16" stroke="#E4E4E4" stroke-width="0.6"/>
<line x1="553.6" x2="555.4" y1="96.87" y2="96.87" stroke="#9A9A9A" stroke-width="0.6"/>
<line x1="555.4" x2="678.3" y1="96.87" y2="96.87" stroke="#E4E4E4" stroke-width="0.6"/>
<line x1="553.6" x2="555.4" y1="103.58" y2="103.58" stroke="#9A9A9A" stroke-width="0.6"/>
<line x1="555.4" x2="678.3" y1="103.58" y2="103.58" stroke="#E4E4E4" stroke-width="0.6"/>
<line x1="553.6" x2="555.4" y1="110.29" y2="110.29" stroke="#9A9A9A" stroke-width="0.6"/>
<line x1="555.4" x2="678.3" y1="110.29" y2="110.29" stroke="#E4E4E4" stroke-width="0.6"/>
<line x1="553.6" x2="555.4" y1="117" y2="117" stroke="#9A9A9A" stroke-width="0.6"/>
<line x1="555.4" x2="678.3" y1="117" y2="117" stroke="#E4E4E4" stroke-width="0.6"/>
<line x1="553.6" x2="555.4" y1="123.71" y2="123.71" stroke="#9A9A9A" stroke-width="0.6"/>
<line x1="555.4" x2="678.3" y1="123.71" y2="123.71" stroke="#E4E4E4" stroke-width="0.6"/>
<line x1="553.6" x2="555.4" y1="130.42" y2="130.42" stroke="#9A9A9A" stroke-width="0.6"/>
<line x1="555.4" x2="678.3" y1="130.42" y2="130.42" stroke="#E4E4E4" stroke-width="0.6"/>
<line x1="553.6" x2="555.4" y1="137.13" y2="137.13" stroke="#9A9A9A" stroke-width="0.6"/>
<line x1="555.4" x2="678.3" y1="137.13" y2="137.13" stroke="#E4E4E4" stroke-width="0.6"/>
<line x1="553.6" x2="555.4" y1="143.84" y2="143.84" stroke="#9A9A9A" stroke-width="0.6"/>
<line x1="555.4" x2="678.3" y1="143.84" y2="143.84" stroke="#E4E4E4" stroke-width="0.6"/>
<line x1="553.6" x2="555.4" y1="150.55" y2="150.55" stroke="#9A9A9A" stroke-width="0.6"/>
<line x1="555.4" x2="678.3" y1="150.55" y2="150.55" stroke="#E4E4E4" stroke-width="0.6"/>
<line x1="553.6" x2="555.4" y1="157.26" y2="157.26" stroke="#9A9A9A" stroke-width="0.6"/>
<line x1="555.4" x2="678.3" y1="157.26" y2="157.26" stroke="#E4E4E4" stroke-width="0.6"/>
<line x1="553.6" x2="555.4" y1="163.97" y2="163.97" stroke="#9A9A9A" stroke-width="0.6"/>
<line x1="555.4" x2="678.3" y1="163.97" y2="163.97" stroke="#E4E4E4" stroke-width="0.6"/>
<line x1="553.6" x2="555.4" y1="170.68" y2="170.68" stroke="#9A9A9A" stroke-width="0.6"/>
<line x1="555.4" x2="678.3" y1="170.68" y2="170.68" stroke="#E4E4E4" stroke-width="0.6"/>
<line x1="553.6" x2="555.4" y1="177.39" y2="177.39" stroke="#9A9A9A" stroke-width="0.6"/>
<line x1="555.4" x2="678.3" y1="177.39" y2="177.39" stroke="#E4E4E4" stroke-width="0.6"/>
<line x1="553.6" x2="555.4" y1="184.1" y2="184.1" stroke="#9A9A9A" stroke-width="0.6"/>
<line x1="555.4" x2="678.3" y1="184.1" y2="184.1" stroke="#E4E4E4" stroke-width="0.6"/>
<line x1="553.6" x2="555.4" y1="190.81" y2="190.81" stroke="#9A9A9A" stroke-width="0.6"/>
<line x1="555.4" x2="678.3" y1="190.81" y2="190.81" stroke="#E4E4E4" stroke-width="0.6"/>
<line x1="553.6" x2="555.4" y1="197.52" y2="197.52" stroke="#9A9A9A" stroke-width="0.6"/>
<line x1="555.4" x2="678.3" y1="197.52" y2="197.52" stroke="#E4E4E4" stroke-width="0.6"/>
<line x1="553.6" x2="555.4" y1="204.23" y2="204.23" stroke="#9A9A9A" stroke-width="0.6"/>
<line x1="555.4" x2="678.3" y1="204.23" y2="204.23" stroke="#E4E4E4" stroke-width="0.6"/>
<line x1="553.6" x2="555.4" y1="210.94" y2="210.94" stroke="#9A9A9A" stroke-width="0.6"/>
<line x1="555.4" x2="678.3" y1="210.94" y2="210.94" stroke="#E4E4E4" stroke-width="0.6"/>
<line x1="553.6" x2="555.4" y1="217.65" y2="217.65" stroke="#9A9A9A" stroke-width="0.6"/>
<line x1="555.4" x2="678.3" y1="217.65" y2="217.65" stroke="#E4E4E4" stroke-width="0.6"/>
<line x1="553.6" x2="555.4" y1="224.36" y2="224.36" stroke="#9A9A9A" stroke-width="0.6"/>
<line x1="555.4" x2="678.3" y1="224.36" y2="224.36" stroke="#E4E4E4" stroke-width="0.6"/>
<line x1="553.6" x2="555.4" y1="231.07" y2="231.07" stroke="#9A9A9A" stroke-width="0.6"/>
<line x1="555.4" x2="678.3" y1="231.07" y2="231.07" stroke="#E4E4E4" stroke-width="0.6"/>
<line x1="553.6" x2="555.4" y1="237.78" y2="237.78" stroke="#9A9A9A" stroke-width="0.6"/>
<line x1="555.4" x2="678.3" y1="237.78" y2="237.78" stroke="#E4E4E4" stroke-width="0.6"/>
<line x1="553.6" x2="555.4" y1="244.49" y2="244.49" stroke="#9A9A9A" stroke-width="0.6"/>
<line x1="555.4" x2="678.3" y1="244.49" y2="244.49" stroke="#E4E4E4" stroke-width="0.6"/>
<line x1="553.6" x2="555.4" y1="251.2" y2="251.2" stroke="#9A9A9A" stroke-width="0.6"/>
<line x1="555.4" x2="678.3" y1="251.2" y2="251.2" stroke="#E4E4E4" stroke-width="0.6"/>
<line x1="553.6" x2="555.4" y1="257.91" y2="257.91" stroke="#9A9A9A" stroke-width="0.6"/>
<line x1="555.4" x2="678.3" y1="257.91" y2="257.91" stroke="#E4E4E4" stroke-width="0.6"/>
<line x1="553.6" x2="555.4" y1="264.62" y2="264.62" stroke="#9A9A9A" stroke-width="0.6"/>
<line x1="555.4" x2="678.3" y1="264.62" y2="264.62" stroke="#E4E4E4" stroke-width="0.6"/>
<line x1="553.6" x2="555.4" y1="271.33" y2="271.33" stroke="#9A9A9A" stroke-width="0.6"/>
<line x1="555.4" x2="678.3" y1="271.33" y2="271.33" stroke="#E4E4E4" stroke-width="0.6"/>
<line x1="553.6" x2="555.4" y1="278.04" y2="278.04" stroke="#9A9A9A" stroke-width="0.6"/>
<line x1="555.4" x2="678.3" y1="278.04" y2="278.04" stroke="#E4E4E4" stroke-width="0.6"/>
<line x1="553.6" x2="555.4" y1="284.75" y2="284.75" stroke="#9A9A9A" stroke-width="0.6"/>
<line x1="555.4" x2="678.3" y1="284.75" y2="284.75" stroke="#E4E4E4" stroke-width="0.6"/>
<line x1="553.6" x2="555.4" y1="291.46" y2="291.46" stroke="#9A9A9A" stroke-width="0.6"/>
<line x1="555.4" x2="678.3" y1="291.46" y2="291.46" stroke="#E4E4E4" stroke-width="0.6"/>
<line x1="553.6" x2="555.4" y1="298.17" y2="298.17" stroke="#9A9A9A" stroke-width="0.6"/>
<line x1="555.4" x2="678.3" y1="298.17" y2="298.17" stroke="#E4E4E4" stroke-width="0.6"/>
<line x1="553.6" x2="555.4" y1="304.88" y2="304.88" stroke="#9A9A9A" stroke-width="0.6"/>
<line x1="555.4" x2="678.3" y1="304.88" y2="304.88" stroke="#E4E4E4" stroke-width="0.6"/>
<line x1="553.6" x2="555.4" y1="311.59" y2="311.59" stroke="#9A9A9A" stroke-width="0.6"/>
<line x1="555.4" x2="678.3" y1="311.59" y2="311.59" stroke="#E4E4E4" stroke-width="0.6"/>
<line x1="553.6" x2="555.4" y1="318.3" y2="318.3" stroke="#9A9A9A" stroke-width="0.6"/>
<line x1="555.4" x2="678.3" y1="318.3" y2="318.3" stroke="#E4E4E4" stroke-width="0.6"/>
<line x1="553.6" x2="555.4" y1="325.01" y2="325.01" stroke="#9A9A9A" stroke-width="0.6"/>
<line x1="555.4" x2="678.3" y1="325.01" y2="325.01" stroke="#E4E4E4" stroke-width="0.6"/>
<line x1="553.6" x2="555.4" y1="331.72" y2="331.72" stroke="#9A9A9A" stroke-width="0.6"/>
<line x1="555.4" x2="678.3" y1="331.72" y2="331.72" stroke="#E4E4E4" stroke-width="0.6"/>
<line x1="553.6" x2="555.4" y1="338.43" y2="338.43" stroke="#9A9A9A" stroke-width="0.6"/>
<line x1="555.4" x2="678.3" y1="338.43" y2="338.43" stroke="#E4E4E4" stroke-width="0.6"/>
<line x1="553.6" x2="555.4" y1="345.14" y2="345.14" stroke="#9A9A9A" stroke-width="0.6"/>
<line x1="555.4" x2="678.3" y1="345.14" y2="345.14" stroke="#E4E4E4" stroke-width="0.6"/>
<line x1="553.6" x2="555.4" y1="351.85" y2="351.85" stroke="#9A9A9A" stroke-width="0.6"/>
<line x1="555.4" x2="678.3" y1="351.85" y2="351.85" stroke="#E4E4E4" stroke-width="0.6"/>
<line x1="553.6" x2="555.4" y1="358.56" y2="358.56" stroke="#9A9A9A" stroke-width="0.6"/>
<line x1="555.4" x2="678.3" y1="358.56" y2="358.56" stroke="#E4E4E4" stroke-width="0.6"/>
<line x1="553.6" x2="555.4" y1="365.27" y2="365.27" stroke="#9A9A9A" stroke-width="0.6"/>
<line x1="555.4" x2="678.3" y1="365.27" y2="365.27" stroke="#E4E4E4" stroke-width="0.6"/>
<line x1="553.6" x2="555.4" y1="371.98" y2="371.98" stroke="#9A9A9A" stroke-width="0.6"/>
<line x1="555.4" x2="678.3" y1="371.98" y2="371.98" stroke="#E4E4E4" stroke-width="0.6"/>
<line x1="553.6" x2="555.4" y1="378.69" y2="378.69" stroke="#9A9A9A" stroke-width="0.6"/>
<line x1="555.4" x2="678.3" y1="378.69" y2="378.69" stroke="#E4E4E4" stroke-width="0.6"/>
<line x1="553.6" x2="555.4" y1="385.4" y2="385.4" stroke="#9A9A9A" stroke-width="0.6"/>
<line x1="555.4" x2="678.3" y1="385.4" y2="385.4" stroke="#E4E4E4" stroke-width="0.6"/>
<line x1="553.6" x2="555.4" y1="392.11" y2="392.11" stroke="#9A9A9A" stroke-width="0.6"/>
<line x1="555.4" x2="678.3" y1="392.11" y2="392.11" stroke="#E4E4E4" stroke-width="0.6"/>
<line x1="553.6" x2="555.4" y1="398.82" y2="398.82" stroke="#9A9A9A" stroke-width="0.6"/>
<line x1="555.4" x2="678.3" y1="398.82" y2="398.82" stroke="#E4E4E4" stroke-width="0.6"/>
<line x1="553.6" x2="555.4" y1="405.53" y2="405.53" stroke="#9A9A9A" stroke-width="0.6"/>
<line x1="555.4" x2="678.3" y1="405.53" y2="405.53" stroke="#E4E4E4" stroke-width="0.6"/>
<line x1="553.6" x2="555.4" y1="412.24" y2="412.24" stroke="#9A9A9A" stroke-width="0.6"/>
<line x1="555.4" x2="678.3" y1="412.24" y2="412.24" stroke="#E4E4E4" stroke-width="0.6"/>
<rect x="587.3" y="49.9" width="58.6" height="6.71" fill="#92C5DE" fill-opacity="0.93"/>
<rect x="616.6" y="56.61" width="29.3" height="6.71" fill="#F4A582" fill-opacity="0.93"/>
<rect x="645.9" y="63.32" width="29.3" height="6.71" fill="#92C5DE" fill-opacity="0.93"/>
<rect x="558" y="76.74" width="117.2" height="6.71" fill="#F4A582" fill-opacity="0.93"/>
<rect x="558" y="83.45" width="29.3" height="6.71" fill="#F4A582" fill-opacity="0.93"/>
<rect x="616.6" y="83.45" width="58.6" height="6.71" fill="#F4A582" fill-opacity="0.93"/>
<rect x="587.3" y="103.58" width="87.9" height="6.71" fill="#F4A582" fill-opacity="0.93"/>
<rect x="558" y="110.29" width="29.3" height="6.71" fill="#F4A582" fill-opacity="0.93"/>
<rect x="558" y="117" width="29.3" height="6.71" fill="#92C5DE" fill-opacity="0.93"/>
<rect x="645.9" y="117" width="29.3" height="6.71" fill="#92C5DE" fill-opacity="0.93"/>
<rect x="587.3" y="123.71" width="29.3" height="6.71" fill="#F4A582" fill-opacity="0.93"/>
<rect x="645.9" y="123.71" width="29.3" height="6.71" fill="#F4A582" fill-opacity="0.93"/>
<rect x="558" y="130.42" width="29.3" height="6.71" fill="#92C5DE" fill-opacity="0.93"/>
<rect x="645.9" y="137.13" width="29.3" height="6.71" fill="#92C5DE" fill-opacity="0.93"/>
<rect x="645.9" y="150.55" width="29.3" height="6.71" fill="#92C5DE" fill-opacity="0.93"/>
<rect x="558" y="157.26" width="29.3" height="6.71" fill="#92C5DE" fill-opacity="0.93"/>
<rect x="645.9" y="157.26" width="29.3" height="6.71" fill="#92C5DE" fill-opacity="0.93"/>
<rect x="616.6" y="163.97" width="29.3" height="6.71" fill="#F4A582" fill-opacity="0.93"/>
<rect x="558" y="170.68" width="29.3" height="6.71" fill="#F4A582" fill-opacity="0.93"/>
<rect x="587.3" y="170.68" width="29.3" height="6.71" fill="#92C5DE" fill-opacity="0.93"/>
<rect x="645.9" y="177.39" width="29.3" height="6.71" fill="#F4A582" fill-opacity="0.93"/>
<rect x="645.9" y="184.1" width="29.3" height="6.71" fill="#92C5DE" fill-opacity="0.93"/>
<rect x="558" y="190.81" width="29.3" height="6.71" fill="#92C5DE" fill-opacity="0.93"/>
<rect x="616.6" y="190.81" width="58.6" height="6.71" fill="#92C5DE" fill-opacity="0.93"/>
<rect x="645.9" y="197.52" width="29.3" height="6.71" fill="#92C5DE" fill-opacity="0.93"/>
<rect x="645.9" y="204.23" width="29.3" height="6.71" fill="#92C5DE" fill-opacity="0.93"/>
<rect x="558" y="210.94" width="29.3" height="6.71" fill="#92C5DE" fill-opacity="0.93"/>
<rect x="645.9" y="210.94" width="29.3" height="6.71" fill="#92C5DE" fill-opacity="0.93"/>
<rect x="558" y="217.65" width="29.3" height="6.71" fill="#92C5DE" fill-opacity="0.93"/>
<rect x="616.6" y="217.65" width="29.3" height="6.71" fill="#92C5DE" fill-opacity="0.93"/>
<rect x="558" y="224.36" width="87.9" height="6.71" fill="#92C5DE" fill-opacity="0.93"/>
<rect x="587.3" y="231.07" width="29.3" height="6.71" fill="#92C5DE" fill-opacity="0.93"/>
<rect x="558" y="237.78" width="29.3" height="6.71" fill="#92C5DE" fill-opacity="0.93"/>
<rect x="645.9" y="237.78" width="29.3" height="6.71" fill="#92C5DE" fill-opacity="0.93"/>
<rect x="616.6" y="244.49" width="29.3" height="6.71" fill="#92C5DE" fill-opacity="0.93"/>
<rect x="645.9" y="244.49" width="29.3" height="6.71" fill="#F4A582" fill-opacity="0.93"/>
<rect x="587.3" y="251.2" width="29.3" height="6.71" fill="#92C5DE" fill-opacity="0.93"/>
<rect x="558" y="257.91" width="29.3" height="6.71" fill="#F4A582" fill-opacity="0.93"/>
<rect x="616.6" y="257.91" width="29.3" height="6.71" fill="#92C5DE" fill-opacity="0.93"/>
<rect x="645.9" y="257.91" width="29.3" height="6.71" fill="#F4A582" fill-opacity="0.93"/>
<rect x="616.6" y="264.62" width="58.6" height="6.71" fill="#F4A582" fill-opacity="0.93"/>
<rect x="645.9" y="271.33" width="29.3" height="6.71" fill="#F4A582" fill-opacity="0.93"/>
<rect x="558" y="278.04" width="29.3" height="6.71" fill="#F4A582" fill-opacity="0.93"/>
<rect x="587.3" y="278.04" width="58.6" height="6.71" fill="#92C5DE" fill-opacity="0.93"/>
<rect x="558" y="284.75" width="29.3" height="6.71" fill="#F4A582" fill-opacity="0.93"/>
<rect x="645.9" y="284.75" width="29.3" height="6.71" fill="#F4A582" fill-opacity="0.93"/>
<rect x="558" y="291.46" width="29.3" height="6.71" fill="#F4A582" fill-opacity="0.93"/>
<rect x="645.9" y="291.46" width="29.3" height="6.71" fill="#F4A582" fill-opacity="0.93"/>
<rect x="645.9" y="298.17" width="29.3" height="6.71" fill="#F4A582" fill-opacity="0.93"/>
<rect x="645.9" y="304.88" width="29.3" height="6.71" fill="#F4A582" fill-opacity="0.93"/>
<rect x="558" y="311.59" width="29.3" height="6.71" fill="#92C5DE" fill-opacity="0.93"/>
<rect x="616.6" y="311.59" width="29.3" height="6.71" fill="#92C5DE" fill-opacity="0.93"/>
<rect x="645.9" y="311.59" width="29.3" height="6.71" fill="#F4A582" fill-opacity="0.93"/>
<rect x="616.6" y="318.3" width="29.3" height="6.71" fill="#92C5DE" fill-opacity="0.93"/>
<rect x="645.9" y="318.3" width="29.3" height="6.71" fill="#F4A582" fill-opacity="0.93"/>
<rect x="616.6" y="325.01" width="29.3" height="6.71" fill="#92C5DE" fill-opacity="0.93"/>
<rect x="558" y="331.72" width="87.9" height="6.71" fill="#92C5DE" fill-opacity="0.93"/>
<rect x="645.9" y="338.43" width="29.3" height="6.71" fill="#F4A582" fill-opacity="0.93"/>
<rect x="558" y="345.14" width="29.3" height="6.71" fill="#F4A582" fill-opacity="0.93"/>
<rect x="645.9" y="345.14" width="29.3" height="6.71" fill="#F4A582" fill-opacity="0.93"/>
<rect x="558" y="351.85" width="29.3" height="6.71" fill="#F4A582" fill-opacity="0.93"/>
<rect x="645.9" y="351.85" width="29.3" height="6.71" fill="#F4A582" fill-opacity="0.93"/>
<rect x="616.6" y="358.56" width="29.3" height="6.71" fill="#92C5DE" fill-opacity="0.93"/>
<rect x="616.6" y="365.27" width="29.3" height="6.71" fill="#FFFFFF" fill-opacity="0.93"/>
<rect x="558" y="371.98" width="117.2" height="6.71" fill="#92C5DE" fill-opacity="0.93"/>
<rect x="558" y="378.69" width="58.6" height="6.71" fill="#92C5DE" fill-opacity="0.93"/>
<rect x="645.9" y="385.4" width="29.3" height="6.71" fill="#92C5DE" fill-opacity="0.93"/>
<rect x="587.3" y="392.11" width="29.3" height="6.71" fill="#F4A582" fill-opacity="0.93"/>
<rect x="616.6" y="398.82" width="29.3" height="6.71" fill="#92C5DE" fill-opacity="0.93"/>
<rect x="616.6" y="405.53" width="29.3" height="6.71" fill="#92C5DE" fill-opacity="0.93"/>
<rect x="558" y="412.24" width="29.3" height="6.71" fill="#F4A582" fill-opacity="0.93"/>
<rect x="616.6" y="412.24" width="29.3" height="6.71" fill="#92C5DE" fill-opacity="0.93"/>
<circle cx="631.25" cy="53.25" r="1.3" fill="#000" fill-opacity="0.28"/>
<circle cx="660.55" cy="66.67" r="1.3" fill="#000" fill-opacity="0.28"/>
<circle cx="572.65" cy="80.09" r="1.95" fill="#000" fill-opacity="0.58"/>
<circle cx="601.95" cy="80.09" r="1.3" fill="#000" fill-opacity="0.28"/>
<circle cx="631.25" cy="80.09" r="1.95" fill="#000" fill-opacity="0.58"/>
<circle cx="660.55" cy="80.09" r="1.95" fill="#000" fill-opacity="0.58"/>
<circle cx="601.95" cy="106.94" r="1.95" fill="#000" fill-opacity="0.58"/>
<circle cx="631.25" cy="106.94" r="1.3" fill="#000" fill-opacity="0.28"/>
<circle cx="660.55" cy="106.94" r="1.95" fill="#000" fill-opacity="0.58"/>
<circle cx="572.65" cy="113.64" r="1.95" fill="#000" fill-opacity="0.58"/>
<circle cx="572.65" cy="120.36" r="1.95" fill="#000" fill-opacity="0.58"/>
<circle cx="601.95" cy="127.07" r="1.3" fill="#000" fill-opacity="0.28"/>
<circle cx="572.65" cy="133.77" r="1.3" fill="#000" fill-opacity="0.28"/>
<circle cx="660.55" cy="153.91" r="1.95" fill="#000" fill-opacity="0.58"/>
<circle cx="572.65" cy="160.61" r="1.3" fill="#000" fill-opacity="0.28"/>
<circle cx="660.55" cy="160.61" r="1.95" fill="#000" fill-opacity="0.58"/>
<circle cx="631.25" cy="167.32" r="1.3" fill="#000" fill-opacity="0.28"/>
<circle cx="572.65" cy="174.03" r="1.3" fill="#000" fill-opacity="0.28"/>
<circle cx="601.95" cy="174.03" r="1.3" fill="#000" fill-opacity="0.28"/>
<circle cx="660.55" cy="180.74" r="1.3" fill="#000" fill-opacity="0.28"/>
<circle cx="572.65" cy="194.16" r="1.95" fill="#000" fill-opacity="0.58"/>
<circle cx="660.55" cy="194.16" r="1.95" fill="#000" fill-opacity="0.58"/>
<circle cx="660.55" cy="200.88" r="1.3" fill="#000" fill-opacity="0.28"/>
<circle cx="572.65" cy="214.29" r="1.3" fill="#000" fill-opacity="0.28"/>
<circle cx="660.55" cy="214.29" r="1.95" fill="#000" fill-opacity="0.58"/>
<circle cx="572.65" cy="221" r="1.3" fill="#000" fill-opacity="0.28"/>
<circle cx="631.25" cy="221" r="1.3" fill="#000" fill-opacity="0.28"/>
<circle cx="601.95" cy="227.72" r="1.3" fill="#000" fill-opacity="0.28"/>
<circle cx="631.25" cy="227.72" r="1.3" fill="#000" fill-opacity="0.28"/>
<circle cx="601.95" cy="234.42" r="1.95" fill="#000" fill-opacity="0.58"/>
<circle cx="572.65" cy="241.13" r="1.3" fill="#000" fill-opacity="0.28"/>
<circle cx="660.55" cy="241.13" r="1.3" fill="#000" fill-opacity="0.28"/>
<circle cx="660.55" cy="247.84" r="1.3" fill="#000" fill-opacity="0.28"/>
<circle cx="572.65" cy="261.26" r="1.3" fill="#000" fill-opacity="0.28"/>
<circle cx="660.55" cy="261.26" r="1.95" fill="#000" fill-opacity="0.58"/>
<circle cx="631.25" cy="267.98" r="1.3" fill="#000" fill-opacity="0.28"/>
<circle cx="660.55" cy="267.98" r="1.95" fill="#000" fill-opacity="0.58"/>
<circle cx="660.55" cy="274.69" r="1.95" fill="#000" fill-opacity="0.58"/>
<circle cx="601.95" cy="281.39" r="1.3" fill="#000" fill-opacity="0.28"/>
<circle cx="572.65" cy="288.11" r="1.3" fill="#000" fill-opacity="0.28"/>
<circle cx="660.55" cy="288.11" r="1.95" fill="#000" fill-opacity="0.58"/>
<circle cx="660.55" cy="294.81" r="1.95" fill="#000" fill-opacity="0.58"/>
<circle cx="660.55" cy="301.53" r="1.3" fill="#000" fill-opacity="0.28"/>
<circle cx="660.55" cy="308.24" r="1.95" fill="#000" fill-opacity="0.58"/>
<circle cx="631.25" cy="314.94" r="1.3" fill="#000" fill-opacity="0.28"/>
<circle cx="660.55" cy="314.94" r="1.95" fill="#000" fill-opacity="0.58"/>
<circle cx="631.25" cy="321.65" r="1.3" fill="#000" fill-opacity="0.28"/>
<circle cx="660.55" cy="321.65" r="1.3" fill="#000" fill-opacity="0.28"/>
<circle cx="572.65" cy="335.07" r="1.95" fill="#000" fill-opacity="0.58"/>
<circle cx="631.25" cy="335.07" r="1.95" fill="#000" fill-opacity="0.58"/>
<circle cx="660.55" cy="341.78" r="1.95" fill="#000" fill-opacity="0.58"/>
<circle cx="660.55" cy="348.5" r="1.95" fill="#000" fill-opacity="0.58"/>
<circle cx="572.65" cy="355.2" r="1.3" fill="#000" fill-opacity="0.28"/>
<circle cx="660.55" cy="355.2" r="1.3" fill="#000" fill-opacity="0.28"/>
<circle cx="631.25" cy="361.92" r="1.3" fill="#000" fill-opacity="0.28"/>
<circle cx="572.65" cy="375.33" r="1.95" fill="#000" fill-opacity="0.58"/>
<circle cx="601.95" cy="375.33" r="1.3" fill="#000" fill-opacity="0.28"/>
<circle cx="631.25" cy="375.33" r="1.3" fill="#000" fill-opacity="0.28"/>
<circle cx="660.55" cy="375.33" r="1.3" fill="#000" fill-opacity="0.28"/>
<circle cx="631.25" cy="402.18" r="1.3" fill="#000" fill-opacity="0.28"/>
<circle cx="631.25" cy="408.88" r="1.3" fill="#000" fill-opacity="0.28"/>
<circle cx="631.25" cy="415.59" r="1.3" fill="#000" fill-opacity="0.28"/>
<rect x="555.4" y="49.2" width="122.9" height="369.2" fill="none" stroke="#585858" stroke-width="1.2"/>
<text transform="translate(570.35,46) rotate(-57.9) scale(0.1)" font-size="72.5" fill="#4D4D4D" stroke="#4D4D4D" stroke-width="1.2">CMC−HBCC</text>
<text transform="translate(599.65,46) rotate(-57.9) scale(0.1)" font-size="72.5" fill="#4D4D4D" stroke="#4D4D4D" stroke-width="1.2">CMC−Pitt</text>
<text transform="translate(628.95,46) rotate(-57.9) scale(0.1)" font-size="72.5" fill="#4D4D4D" stroke="#4D4D4D" stroke-width="1.2">GVEX−SMRI</text>
<text transform="translate(658.25,46) rotate(-57.9) scale(0.1)" font-size="72.5" fill="#4D4D4D" stroke="#4D4D4D" stroke-width="1.2">BipSeq−sACC</text>
<text transform="translate(384.3,45.5) rotate(0.1) scale(0.1)" font-size="165" fill="#000" font-weight="bold">b</text>
<text transform="translate(544.6,45) rotate(0.1) scale(0.1)" font-size="165" fill="#000" font-weight="bold">c</text>
</svg>
</body></html>
